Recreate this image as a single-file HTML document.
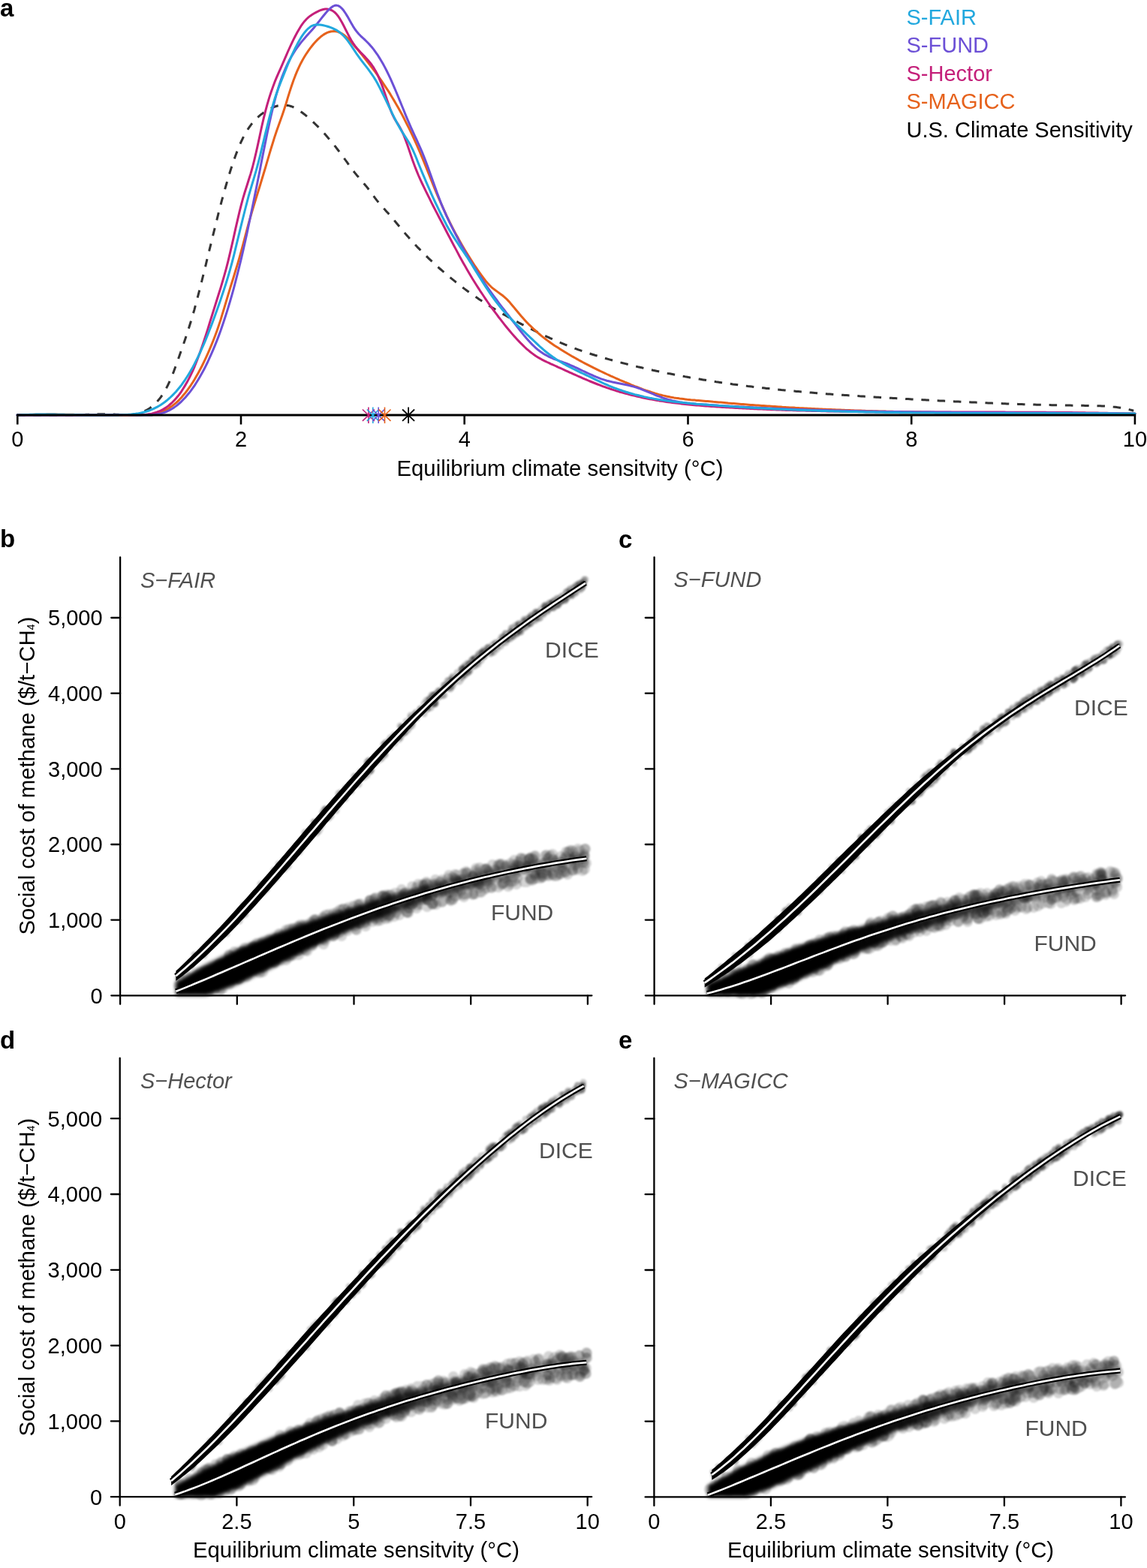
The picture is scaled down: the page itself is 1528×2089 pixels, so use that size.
<!DOCTYPE html>
<html><head><meta charset="utf-8"><title>Figure</title>
<style>html,body{margin:0;padding:0;background:#fff;}svg{display:block;}</style></head>
<body><svg width="1528" height="2089" viewBox="0 0 1528 2089">
<rect width="1528" height="2089" fill="#fff"/>
<g fill="none" stroke-width="3" stroke-linejoin="round" stroke-linecap="round">
<path d="M23 553L25.5 553L28 553L30.4 553L32.9 553L35.4 553L37.9 553L40.4 553L42.9 553L45.3 553L47.8 553L50.3 553L52.8 553L55.3 553L57.8 553L60.2 553L62.7 553L65.2 553L67.7 553L70.2 553L72.7 553L75.1 553L77.6 553L80.1 553L82.6 553L85.1 553L87.6 553L90 553L92.5 553L95 553L97.5 553L100 553L102.4 552.9L104.9 552.8L107.4 552.7L109.9 552.5L112.4 552.4L114.9 552.3L117.3 552.2L119.8 552L122.3 552L124.8 551.9L127.3 551.8L129.8 551.8L132.2 551.7L134.7 551.7L137.2 551.7L139.7 551.7L142.2 551.7L144.7 551.8L147.1 551.9L149.6 552L152.1 552.1L154.6 552.2L157.1 552.3L159.6 552.5L162 552.6L164.5 552.7L167 552.7L169.5 552.7L172 552.6L174.5 552.4L176.9 552.2L179.4 551.8L181.9 551.3L184.4 550.7L186.9 550L189.3 549.1L191.8 548.1L194.3 546.9L196.8 545.5L199.3 543.9L201.8 542.1L204.2 540.1L206.7 537.8L209.2 535.2L211.7 532.3L214.2 529.1L216.7 525.5L219.1 521.5L221.6 517.1L224.1 512.2L226.6 506.8L229.1 501L231.6 494.6L234 487.9L236.5 481L239 474L241.5 466.9L244 459.8L246.5 452.5L248.9 445.1L251.4 437.5L253.9 429.5L256.4 421.2L258.9 412.6L261.3 403.5L263.8 394.1L266.3 384.4L268.8 374.5L271.3 364.5L273.8 354.4L276.2 344.3L278.7 334.1L281.2 323.9L283.7 313.7L286.2 303.6L288.7 293.7L291.1 283.9L293.6 274.3L296.1 264.9L298.6 255.8L301.1 247L303.6 238.5L306 230.3L308.5 222.5L311 215.1L313.5 208L316 201.4L318.5 195.2L320.9 189.5L323.4 184.3L325.9 179.5L328.4 175.2L330.9 171.2L333.4 167.6L335.8 164.4L338.3 161.4L340.8 158.8L343.3 156.4L345.8 154.2L348.2 152.2L350.7 150.4L353.2 148.7L355.7 147.2L358.2 145.7L360.7 144.4L363.1 143.3L365.6 142.3L368.1 141.5L370.6 140.8L373.1 140.3L375.6 140L378 139.9L380.5 140.1L383 140.4L385.5 140.9L388 141.7L390.5 142.7L392.9 143.9L395.4 145.3L397.9 146.8L400.4 148.5L402.9 150.3L405.4 152.2L407.8 154.2L410.3 156.3L412.8 158.5L415.3 160.7L417.8 163.1L420.2 165.5L422.7 167.9L425.2 170.4L427.7 173.1L430.2 175.7L432.7 178.5L435.1 181.3L437.6 184.2L440.1 187.1L442.6 190.1L445.1 193.2L447.6 196.3L450 199.5L452.5 202.8L455 206.1L457.5 209.5L460 213L462.5 216.4L464.9 219.9L467.4 223.3L469.9 226.6L472.4 229.8L474.9 232.9L477.4 235.8L479.8 238.7L482.3 241.6L484.8 244.5L487.3 247.4L489.8 250.5L492.3 253.8L494.7 257.1L497.2 260.5L499.7 263.9L502.2 267.1L504.7 270.1L507.1 273L509.6 275.9L512.1 278.6L514.6 281.4L517.1 284.1L519.6 286.9L522 289.8L524.5 292.7L527 295.7L529.5 298.7L532 301.7L534.5 304.7L536.9 307.6L539.4 310.6L541.9 313.5L544.4 316.3L546.9 319.1L549.4 321.9L551.8 324.6L554.3 327.2L556.8 329.9L559.3 332.4L561.8 335L564.3 337.5L566.7 339.9L569.2 342.4L571.7 344.8L574.2 347.1L576.7 349.5L579.1 351.8L581.6 354L584.1 356.3L586.6 358.5L589.1 360.7L591.6 362.8L594 365L596.5 367.1L599 369.2L601.5 371.2L604 373.2L606.5 375.2L608.9 377.2L611.4 379.2L613.9 381.1L616.4 383L618.9 384.9L621.4 386.7L623.8 388.5L626.3 390.3L628.8 392.1L631.3 393.9L633.8 395.6L636.3 397.3L638.7 399L641.2 400.6L643.7 402.2L646.2 403.9L648.7 405.4L651.1 407L653.6 408.6L656.1 410.1L658.6 411.6L661.1 413.1L663.6 414.6L666 416L668.5 417.5L671 418.9L673.5 420.3L676 421.7L678.5 423.1L680.9 424.4L683.4 425.8L685.9 427.1L688.4 428.4L690.9 429.8L693.4 431.1L695.8 432.4L698.3 433.6L700.8 434.9L703.3 436.2L705.8 437.4L708.3 438.6L710.7 439.9L713.2 441.1L715.7 442.3L718.2 443.5L720.7 444.7L723.2 445.9L725.6 447.1L728.1 448.3L730.6 449.4L733.1 450.6L735.6 451.7L738 452.8L740.5 453.9L743 455L745.5 456.1L748 457.1L750.5 458.1L752.9 459.2L755.4 460.2L757.9 461.1L760.4 462.1L762.9 463L765.4 464L767.8 464.9L770.3 465.8L772.8 466.7L775.3 467.6L777.8 468.4L780.3 469.3L782.7 470.1L785.2 470.9L787.7 471.7L790.2 472.5L792.7 473.3L795.2 474L797.6 474.8L800.1 475.5L802.6 476.3L805.1 477L807.6 477.7L810 478.4L812.5 479.1L815 479.8L817.5 480.5L820 481.2L822.5 481.8L824.9 482.5L827.4 483.1L829.9 483.8L832.4 484.4L834.9 485L837.4 485.6L839.8 486.3L842.3 486.9L844.8 487.5L847.3 488.1L849.8 488.7L852.3 489.2L854.7 489.8L857.2 490.4L859.7 491L862.2 491.5L864.7 492.1L867.2 492.6L869.6 493.2L872.1 493.7L874.6 494.3L877.1 494.8L879.6 495.3L882.1 495.8L884.5 496.3L887 496.8L889.5 497.4L892 497.8L894.5 498.3L896.9 498.8L899.4 499.3L901.9 499.8L904.4 500.3L906.9 500.7L909.4 501.2L911.8 501.6L914.3 502.1L916.8 502.5L919.3 503L921.8 503.4L924.3 503.8L926.7 504.3L929.2 504.7L931.7 505.1L934.2 505.5L936.7 505.9L939.2 506.3L941.6 506.7L944.1 507.1L946.6 507.5L949.1 507.9L951.6 508.3L954.1 508.7L956.5 509L959 509.4L961.5 509.8L964 510.1L966.5 510.5L968.9 510.8L971.4 511.2L973.9 511.5L976.4 511.9L978.9 512.2L981.4 512.5L983.8 512.9L986.3 513.2L988.8 513.5L991.3 513.8L993.8 514.1L996.3 514.5L998.7 514.8L1001.2 515.1L1003.7 515.4L1006.2 515.7L1008.7 516L1011.2 516.2L1013.6 516.5L1016.1 516.8L1018.6 517.1L1021.1 517.4L1023.6 517.6L1026.1 517.9L1028.5 518.2L1031 518.4L1033.5 518.7L1036 519L1038.5 519.2L1040.9 519.5L1043.4 519.7L1045.9 519.9L1048.4 520.2L1050.9 520.4L1053.4 520.7L1055.8 520.9L1058.3 521.1L1060.8 521.4L1063.3 521.6L1065.8 521.8L1068.3 522L1070.7 522.2L1073.2 522.5L1075.7 522.7L1078.2 522.9L1080.7 523.1L1083.2 523.3L1085.6 523.5L1088.1 523.7L1090.6 523.9L1093.1 524.1L1095.6 524.3L1098.1 524.5L1100.5 524.7L1103 524.9L1105.5 525L1108 525.2L1110.5 525.4L1113 525.6L1115.4 525.8L1117.9 526L1120.4 526.1L1122.9 526.3L1125.4 526.5L1127.8 526.6L1130.3 526.8L1132.8 527L1135.3 527.1L1137.8 527.3L1140.3 527.5L1142.7 527.6L1145.2 527.8L1147.7 527.9L1150.2 528.1L1152.7 528.3L1155.2 528.4L1157.6 528.6L1160.1 528.7L1162.6 528.9L1165.1 529L1167.6 529.2L1170.1 529.3L1172.5 529.5L1175 529.6L1177.5 529.8L1180 529.9L1182.5 530.1L1185 530.2L1187.4 530.3L1189.9 530.5L1192.4 530.6L1194.9 530.8L1197.4 530.9L1199.8 531L1202.3 531.2L1204.8 531.3L1207.3 531.5L1209.8 531.6L1212.3 531.7L1214.7 531.9L1217.2 532L1219.7 532.1L1222.2 532.3L1224.7 532.4L1227.2 532.5L1229.6 532.7L1232.1 532.8L1234.6 532.9L1237.1 533.1L1239.6 533.2L1242.1 533.3L1244.5 533.5L1247 533.6L1249.5 533.7L1252 533.9L1254.5 534L1257 534.1L1259.4 534.2L1261.9 534.4L1264.4 534.5L1266.9 534.6L1269.4 534.7L1271.9 534.9L1274.3 535L1276.8 535.1L1279.3 535.2L1281.8 535.3L1284.3 535.5L1286.7 535.6L1289.2 535.7L1291.7 535.8L1294.2 535.9L1296.7 536L1299.2 536.1L1301.6 536.3L1304.1 536.4L1306.6 536.5L1309.1 536.6L1311.6 536.7L1314.1 536.8L1316.5 536.9L1319 537L1321.5 537.1L1324 537.2L1326.5 537.3L1329 537.4L1331.4 537.5L1333.9 537.6L1336.4 537.7L1338.9 537.8L1341.4 537.9L1343.9 538L1346.3 538.1L1348.8 538.2L1351.3 538.2L1353.8 538.3L1356.3 538.4L1358.7 538.5L1361.2 538.6L1363.7 538.7L1366.2 538.7L1368.7 538.8L1371.2 538.9L1373.6 539L1376.1 539L1378.6 539.1L1381.1 539.2L1383.6 539.2L1386.1 539.3L1388.5 539.4L1391 539.4L1393.5 539.5L1396 539.6L1398.5 539.6L1401 539.7L1403.4 539.7L1405.9 539.8L1408.4 539.8L1410.9 539.9L1413.4 539.9L1415.9 540L1418.3 540L1420.8 540.1L1423.3 540.1L1425.8 540.1L1428.3 540.2L1430.8 540.2L1433.2 540.2L1435.7 540.3L1438.2 540.3L1440.7 540.3L1443.2 540.3L1445.6 540.4L1448.1 540.4L1450.6 540.4L1453.1 540.5L1455.6 540.5L1458.1 540.5L1460.5 540.6L1463 540.7L1465.5 540.8L1468 540.9L1470.5 541L1473 541.1L1475.4 541.3L1477.9 541.5L1480.4 541.7L1482.9 542L1485.4 542.2L1487.9 542.6L1490.3 542.9L1492.8 543.3L1495.3 543.7L1497.8 544.2L1500.3 544.7L1502.8 545.3L1505.2 545.9L1507.7 546.5L1510.2 547.2" stroke="#333" stroke-dasharray="10.5 10.8" stroke-linecap="butt"/>
<path d="M23 553L25.5 552.9L28 552.8L30.5 552.7L32.9 552.6L35.4 552.6L37.9 552.5L40.4 552.4L42.9 552.4L45.4 552.3L47.9 552.3L50.3 552.3L52.8 552.2L55.3 552.2L57.8 552.2L60.3 552.2L62.8 552.1L65.3 552.1L67.7 552.1L70.2 552.1L72.7 552.1L75.2 552.1L77.7 552.2L80.2 552.2L82.7 552.2L85.1 552.2L87.6 552.2L90.1 552.3L92.6 552.3L95.1 552.3L97.6 552.3L100.1 552.4L102.5 552.4L105 552.4L107.5 552.5L110 552.5L112.5 552.5L115 552.6L117.5 552.6L119.9 552.7L122.4 552.7L124.9 552.7L127.4 552.8L129.9 552.8L132.4 552.8L134.9 552.9L137.3 552.9L139.8 552.9L142.3 552.9L144.8 553L147.3 553L149.8 553L152.3 553L154.7 553L157.2 553L159.7 553L162.2 553L164.7 553L167.2 553L169.7 553L172.1 553L174.6 553L177.1 553L179.6 552.9L182.1 552.9L184.6 552.8L187.1 552.8L189.5 552.7L192 552.6L194.5 552.5L197 552.3L199.5 552.1L202 551.8L204.5 551.4L206.9 551L209.4 550.4L211.9 549.7L214.4 548.9L216.9 548L219.4 546.9L221.9 545.6L224.4 544.2L226.8 542.6L229.3 540.9L231.8 538.9L234.3 536.8L236.8 534.6L239.3 532.1L241.8 529.4L244.2 526.6L246.7 523.6L249.2 520.3L251.7 516.9L254.2 513.3L256.7 509.5L259.2 505.5L261.6 501.3L264.1 496.9L266.6 492.3L269.1 487.5L271.6 482.4L274.1 477.2L276.6 471.7L279 466.1L281.5 460.2L284 454L286.5 447.5L289 440.7L291.5 433.5L294 425.9L296.4 417.9L298.9 409.7L301.4 401.3L303.9 392.9L306.4 384.6L308.9 376.5L311.4 368.5L313.8 360.5L316.3 352.4L318.8 343.9L321.3 334.9L323.8 325.6L326.3 316.1L328.8 306.7L331.2 297.6L333.7 288.8L336.2 280.3L338.7 272L341.2 263.9L343.7 255.8L346.2 247.8L348.6 239.7L351.1 231.5L353.6 223.2L356.1 214.7L358.6 206.2L361.1 197.8L363.6 189.7L366 181.9L368.5 174.6L371 167.5L373.5 160.5L376 153.4L378.5 146L381 138.2L383.4 130.1L385.9 122.1L388.4 114.5L390.9 107.3L393.4 100.7L395.9 94.7L398.4 89.2L400.8 84.2L403.3 79.5L405.8 75.3L408.3 71.3L410.8 67.7L413.3 64.2L415.8 61L418.2 58L420.7 55.2L423.2 52.6L425.7 50.3L428.2 48.2L430.7 46.4L433.2 44.9L435.6 43.7L438.1 42.7L440.6 42L443.1 41.7L445.6 41.6L448.1 41.9L450.6 42.5L453 43.5L455.5 44.8L458 46.5L460.5 48.5L463 50.9L465.5 53.4L468 56.2L470.4 59L472.9 61.9L475.4 64.9L477.9 67.9L480.4 70.9L482.9 73.9L485.4 77L487.8 80.1L490.3 83.3L492.8 86.5L495.3 89.8L497.8 93.1L500.3 96.4L502.8 99.9L505.2 103.4L507.7 106.9L510.2 110.6L512.7 114.3L515.2 118.1L517.7 121.9L520.2 125.9L522.6 130L525.1 134.1L527.6 138.4L530.1 142.8L532.6 147.2L535.1 151.8L537.6 156.5L540 161.3L542.5 166.2L545 171.2L547.5 176.4L550 181.7L552.5 187.1L555 192.6L557.4 198.2L559.9 204L562.4 210L564.9 216L567.4 222.2L569.9 228.4L572.4 234.6L574.8 240.8L577.3 247L579.8 253.1L582.3 259.1L584.8 264.9L587.3 270.6L589.8 276.2L592.3 281.6L594.7 286.9L597.2 292.1L599.7 297.1L602.2 302.1L604.7 306.9L607.2 311.6L609.7 316.1L612.1 320.6L614.6 325L617.1 329.3L619.6 333.5L622.1 337.6L624.6 341.6L627.1 345.5L629.5 349.4L632 353.2L634.5 356.9L637 360.5L639.5 364.1L642 367.6L644.5 371L646.9 374.2L649.4 377.1L651.9 379.8L654.4 382.3L656.9 384.4L659.4 386.3L661.9 388.1L664.3 389.9L666.8 391.7L669.3 393.5L671.8 395.6L674.3 397.8L676.8 400.4L679.3 403.1L681.7 406L684.2 408.9L686.7 412L689.2 415L691.7 418L694.2 421L696.7 423.8L699.1 426.5L701.6 429.2L704.1 431.8L706.6 434.2L709.1 436.6L711.6 439L714.1 441.2L716.5 443.4L719 445.5L721.5 447.6L724 449.6L726.5 451.5L729 453.4L731.5 455.2L733.9 457L736.4 458.7L738.9 460.4L741.4 462L743.9 463.6L746.4 465.2L748.9 466.8L751.3 468.3L753.8 469.8L756.3 471.3L758.8 472.7L761.3 474.2L763.8 475.6L766.3 477L768.7 478.4L771.2 479.8L773.7 481.1L776.2 482.5L778.7 483.8L781.2 485.1L783.7 486.4L786.1 487.6L788.6 488.9L791.1 490.2L793.6 491.4L796.1 492.6L798.6 493.8L801.1 495L803.5 496.2L806 497.3L808.5 498.5L811 499.6L813.5 500.8L816 501.9L818.5 503L820.9 504.1L823.4 505.2L825.9 506.3L828.4 507.3L830.9 508.4L833.4 509.5L835.9 510.5L838.3 511.5L840.8 512.6L843.3 513.6L845.8 514.6L848.3 515.5L850.8 516.5L853.3 517.4L855.7 518.4L858.2 519.3L860.7 520.2L863.2 521L865.7 521.8L868.2 522.6L870.7 523.4L873.1 524.2L875.6 524.9L878.1 525.6L880.6 526.2L883.1 526.9L885.6 527.4L888.1 528L890.5 528.5L893 529L895.5 529.4L898 529.9L900.5 530.3L903 530.6L905.5 531L907.9 531.3L910.4 531.6L912.9 531.9L915.4 532.2L917.9 532.4L920.4 532.7L922.9 532.9L925.3 533.1L927.8 533.4L930.3 533.6L932.8 533.8L935.3 534L937.8 534.2L940.3 534.4L942.7 534.6L945.2 534.8L947.7 535L950.2 535.3L952.7 535.5L955.2 535.7L957.7 535.9L960.2 536.1L962.6 536.3L965.1 536.5L967.6 536.7L970.1 537L972.6 537.2L975.1 537.4L977.6 537.6L980 537.8L982.5 538L985 538.2L987.5 538.4L990 538.6L992.5 538.8L995 539L997.4 539.2L999.9 539.4L1002.4 539.5L1004.9 539.7L1007.4 539.9L1009.9 540.1L1012.4 540.3L1014.8 540.5L1017.3 540.6L1019.8 540.8L1022.3 541L1024.8 541.1L1027.3 541.3L1029.8 541.5L1032.2 541.6L1034.7 541.8L1037.2 542L1039.7 542.1L1042.2 542.3L1044.7 542.4L1047.2 542.6L1049.6 542.7L1052.1 542.9L1054.6 543L1057.1 543.1L1059.6 543.3L1062.1 543.4L1064.6 543.6L1067 543.7L1069.5 543.8L1072 544L1074.5 544.1L1077 544.2L1079.5 544.3L1082 544.5L1084.4 544.6L1086.9 544.7L1089.4 544.8L1091.9 545L1094.4 545.1L1096.9 545.2L1099.4 545.3L1101.8 545.4L1104.3 545.5L1106.8 545.6L1109.3 545.7L1111.8 545.8L1114.3 545.9L1116.8 546L1119.2 546.1L1121.7 546.2L1124.2 546.3L1126.7 546.4L1129.2 546.5L1131.7 546.6L1134.2 546.7L1136.6 546.8L1139.1 546.9L1141.6 547L1144.1 547L1146.6 547.1L1149.1 547.2L1151.6 547.3L1154 547.4L1156.5 547.4L1159 547.5L1161.5 547.6L1164 547.7L1166.5 547.7L1169 547.8L1171.4 547.9L1173.9 548L1176.4 548L1178.9 548.1L1181.4 548.2L1183.9 548.2L1186.4 548.3L1188.8 548.3L1191.3 548.4L1193.8 548.5L1196.3 548.5L1198.8 548.6L1201.3 548.6L1203.8 548.7L1206.2 548.7L1208.7 548.8L1211.2 548.8L1213.7 548.9L1216.2 548.9L1218.7 549L1221.2 549L1223.6 549.1L1226.1 549.1L1228.6 549.2L1231.1 549.2L1233.6 549.2L1236.1 549.3L1238.6 549.3L1241 549.4L1243.5 549.4L1246 549.4L1248.5 549.5L1251 549.5L1253.5 549.5L1256 549.6L1258.4 549.6L1260.9 549.6L1263.4 549.7L1265.9 549.7L1268.4 549.7L1270.9 549.8L1273.4 549.8L1275.8 549.8L1278.3 549.8L1280.8 549.9L1283.3 549.9L1285.8 549.9L1288.3 549.9L1290.8 550L1293.2 550L1295.7 550L1298.2 550L1300.7 550.1L1303.2 550.1L1305.7 550.1L1308.2 550.1L1310.6 550.1L1313.1 550.1L1315.6 550.2L1318.1 550.2L1320.6 550.2L1323.1 550.2L1325.6 550.2L1328.1 550.2L1330.5 550.3L1333 550.3L1335.5 550.3L1338 550.3L1340.5 550.3L1343 550.3L1345.5 550.3L1347.9 550.3L1350.4 550.4L1352.9 550.4L1355.4 550.4L1357.9 550.4L1360.4 550.4L1362.9 550.4L1365.3 550.4L1367.8 550.4L1370.3 550.4L1372.8 550.4L1375.3 550.5L1377.8 550.5L1380.3 550.5L1382.7 550.5L1385.2 550.5L1387.7 550.5L1390.2 550.5L1392.7 550.5L1395.2 550.5L1397.7 550.5L1400.1 550.5L1402.6 550.5L1405.1 550.5L1407.6 550.6L1410.1 550.6L1412.6 550.6L1415.1 550.6L1417.5 550.6L1420 550.6L1422.5 550.6L1425 550.6L1427.5 550.6L1430 550.6L1432.5 550.6L1434.9 550.6L1437.4 550.6L1439.9 550.6L1442.4 550.7L1444.9 550.7L1447.4 550.7L1449.9 550.7L1452.3 550.7L1454.8 550.7L1457.3 550.7L1459.8 550.7L1462.3 550.7L1464.8 550.7L1467.3 550.7L1469.7 550.8L1472.2 550.8L1474.7 550.8L1477.2 550.8L1479.7 550.8L1482.2 550.8L1484.7 550.8L1487.1 550.8L1489.6 550.8L1492.1 550.9L1494.6 550.9L1497.1 550.9L1499.6 550.9L1502.1 550.9L1504.5 550.9L1507 550.9L1509.5 551L1512 551" stroke="#e6621c"/>
<path d="M23 553L25.5 553L28 553L30.5 553L32.9 553L35.4 553L37.9 553L40.4 553L42.9 553L45.4 553L47.9 553L50.3 553L52.8 553L55.3 553L57.8 553L60.3 553L62.8 553L65.3 553L67.7 553L70.2 553L72.7 553L75.2 553L77.7 553L80.2 553L82.7 553L85.1 553L87.6 553L90.1 553L92.6 553L95.1 553L97.6 553L100.1 553L102.5 553L105 553L107.5 553L110 553L112.5 553L115 553L117.5 553L119.9 553L122.4 553L124.9 553L127.4 553L129.9 553L132.4 553L134.9 553L137.3 553L139.8 553L142.3 553L144.8 552.9L147.3 552.9L149.8 552.9L152.3 552.8L154.7 552.8L157.2 552.8L159.7 552.8L162.2 552.7L164.7 552.7L167.2 552.7L169.7 552.7L172.1 552.7L174.6 552.8L177.1 552.8L179.6 552.8L182.1 552.8L184.6 552.8L187.1 552.7L189.5 552.6L192 552.5L194.5 552.3L197 552L199.5 551.6L202 551.1L204.5 550.5L206.9 549.8L209.4 549L211.9 548L214.4 546.9L216.9 545.6L219.4 544.1L221.9 542.4L224.4 540.6L226.8 538.5L229.3 536.3L231.8 533.8L234.3 531L236.8 528.1L239.3 524.8L241.8 521.3L244.2 517.5L246.7 513.4L249.2 509.1L251.7 504.4L254.2 499.4L256.7 494L259.2 488.3L261.6 482.3L264.1 475.8L266.6 469.1L269.1 461.9L271.6 454.6L274.1 447L276.6 439.2L279 431.2L281.5 423.2L284 415.2L286.5 407.2L289 399.2L291.5 391.3L294 383.4L296.4 375.3L298.9 366.7L301.4 357.6L303.9 347.8L306.4 337.4L308.9 326.6L311.4 315.6L313.8 304.6L316.3 293.8L318.8 283.2L321.3 273.2L323.8 263.9L326.3 255.5L328.8 247.7L331.2 240L333.7 232.1L336.2 223.5L338.7 213.7L341.2 203L343.7 191.8L346.2 180.3L348.6 169L351.1 158.2L353.6 148.2L356.1 138.9L358.6 130.4L361.1 122.7L363.6 115.7L366 109.2L368.5 103.2L371 97.4L373.5 91.8L376 86.1L378.5 80.3L381 74.6L383.4 69L385.9 63.5L388.4 58.1L390.9 52.9L393.4 48L395.9 43.3L398.4 38.9L400.8 34.9L403.3 31.4L405.8 28.2L408.3 25.5L410.8 23.2L413.3 21.2L415.8 19.5L418.2 18L420.7 16.6L423.2 15.3L425.7 14.2L428.2 13.2L430.7 12.5L433.2 12.1L435.6 12.1L438.1 12.4L440.6 13.2L443.1 14.4L445.6 16.2L448.1 18.6L450.6 21.7L453 25.4L455.5 29.7L458 34.5L460.5 39.5L463 44.4L465.5 49.2L468 53.7L470.4 57.6L472.9 61.1L475.4 64.2L477.9 67L480.4 69.7L482.9 72.2L485.4 74.8L487.8 77.4L490.3 80.2L492.8 83.2L495.3 86.5L497.8 90.2L500.3 94.4L502.8 99.2L505.2 104.6L507.7 110.6L510.2 117.3L512.7 124.5L515.2 132L517.7 139.3L520.2 146.2L522.6 152.2L525.1 157.2L527.6 161.5L530.1 165.4L532.6 169.5L535.1 174.1L537.6 179.5L540 185.8L542.5 192.6L545 199.8L547.5 207.2L550 214.4L552.5 221.2L555 227.6L557.4 233.5L559.9 239.1L562.4 244.5L564.9 249.7L567.4 254.8L569.9 259.9L572.4 264.9L574.8 269.8L577.3 274.7L579.8 279.6L582.3 284.4L584.8 289.2L587.3 294L589.8 298.7L592.3 303.5L594.7 308.2L597.2 313L599.7 317.7L602.2 322.5L604.7 327.2L607.2 331.9L609.7 336.6L612.1 341.2L614.6 345.7L617.1 350.2L619.6 354.6L622.1 358.9L624.6 363.2L627.1 367.4L629.5 371.5L632 375.5L634.5 379.5L637 383.4L639.5 387.3L642 391L644.5 394.8L646.9 398.4L649.4 402L651.9 405.6L654.4 409.1L656.9 412.5L659.4 415.9L661.9 419.2L664.3 422.5L666.8 425.7L669.3 428.9L671.8 432.1L674.3 435.2L676.8 438.2L679.3 441.2L681.7 444.1L684.2 447L686.7 449.8L689.2 452.5L691.7 455.1L694.2 457.7L696.7 460.1L699.1 462.5L701.6 464.8L704.1 466.9L706.6 469L709.1 470.9L711.6 472.7L714.1 474.4L716.5 475.9L719 477.4L721.5 478.8L724 480.1L726.5 481.3L729 482.5L731.5 483.6L733.9 484.8L736.4 485.9L738.9 487L741.4 488.1L743.9 489.3L746.4 490.4L748.9 491.5L751.3 492.7L753.8 493.8L756.3 494.9L758.8 496.1L761.3 497.2L763.8 498.3L766.3 499.4L768.7 500.5L771.2 501.6L773.7 502.7L776.2 503.8L778.7 504.9L781.2 505.9L783.7 507L786.1 508L788.6 509L791.1 510L793.6 511L796.1 512L798.6 512.9L801.1 513.9L803.5 514.8L806 515.7L808.5 516.6L811 517.4L813.5 518.3L816 519.1L818.5 519.9L820.9 520.7L823.4 521.4L825.9 522.2L828.4 522.9L830.9 523.6L833.4 524.3L835.9 524.9L838.3 525.6L840.8 526.2L843.3 526.8L845.8 527.4L848.3 528L850.8 528.6L853.3 529.1L855.7 529.7L858.2 530.2L860.7 530.7L863.2 531.2L865.7 531.7L868.2 532.1L870.7 532.6L873.1 533L875.6 533.4L878.1 533.9L880.6 534.3L883.1 534.6L885.6 535L888.1 535.4L890.5 535.7L893 536.1L895.5 536.4L898 536.7L900.5 537L903 537.3L905.5 537.6L907.9 537.9L910.4 538.2L912.9 538.4L915.4 538.7L917.9 539L920.4 539.2L922.9 539.4L925.3 539.7L927.8 539.9L930.3 540.1L932.8 540.3L935.3 540.5L937.8 540.7L940.3 540.9L942.7 541.1L945.2 541.2L947.7 541.4L950.2 541.6L952.7 541.8L955.2 541.9L957.7 542.1L960.2 542.2L962.6 542.4L965.1 542.5L967.6 542.7L970.1 542.8L972.6 543L975.1 543.1L977.6 543.3L980 543.4L982.5 543.6L985 543.7L987.5 543.8L990 543.9L992.5 544.1L995 544.2L997.4 544.3L999.9 544.4L1002.4 544.6L1004.9 544.7L1007.4 544.8L1009.9 544.9L1012.4 545L1014.8 545.1L1017.3 545.2L1019.8 545.3L1022.3 545.5L1024.8 545.6L1027.3 545.7L1029.8 545.8L1032.2 545.8L1034.7 545.9L1037.2 546L1039.7 546.1L1042.2 546.2L1044.7 546.3L1047.2 546.4L1049.6 546.5L1052.1 546.6L1054.6 546.6L1057.1 546.7L1059.6 546.8L1062.1 546.9L1064.6 546.9L1067 547L1069.5 547.1L1072 547.1L1074.5 547.2L1077 547.3L1079.5 547.3L1082 547.4L1084.4 547.5L1086.9 547.5L1089.4 547.6L1091.9 547.6L1094.4 547.7L1096.9 547.8L1099.4 547.8L1101.8 547.9L1104.3 547.9L1106.8 548L1109.3 548L1111.8 548.1L1114.3 548.1L1116.8 548.1L1119.2 548.2L1121.7 548.2L1124.2 548.3L1126.7 548.3L1129.2 548.3L1131.7 548.4L1134.2 548.4L1136.6 548.4L1139.1 548.5L1141.6 548.5L1144.1 548.5L1146.6 548.6L1149.1 548.6L1151.6 548.6L1154 548.7L1156.5 548.7L1159 548.7L1161.5 548.7L1164 548.8L1166.5 548.8L1169 548.8L1171.4 548.8L1173.9 548.8L1176.4 548.9L1178.9 548.9L1181.4 548.9L1183.9 548.9L1186.4 548.9L1188.8 548.9L1191.3 549L1193.8 549L1196.3 549L1198.8 549L1201.3 549L1203.8 549L1206.2 549L1208.7 549L1211.2 549L1213.7 549L1216.2 549.1L1218.7 549.1L1221.2 549.1L1223.6 549.1L1226.1 549.1L1228.6 549.1L1231.1 549.1L1233.6 549.1L1236.1 549.1L1238.6 549.1L1241 549.1L1243.5 549.1L1246 549.1L1248.5 549.1L1251 549.1L1253.5 549.1L1256 549.1L1258.4 549.1L1260.9 549.1L1263.4 549.1L1265.9 549.1L1268.4 549.1L1270.9 549.1L1273.4 549.1L1275.8 549.1L1278.3 549.1L1280.8 549.1L1283.3 549.1L1285.8 549.1L1288.3 549.1L1290.8 549.1L1293.2 549.1L1295.7 549.1L1298.2 549.1L1300.7 549.1L1303.2 549.1L1305.7 549.1L1308.2 549.1L1310.6 549.1L1313.1 549.1L1315.6 549.1L1318.1 549.1L1320.6 549.1L1323.1 549.1L1325.6 549.1L1328.1 549.1L1330.5 549.1L1333 549.1L1335.5 549.1L1338 549.1L1340.5 549.2L1343 549.2L1345.5 549.2L1347.9 549.2L1350.4 549.2L1352.9 549.2L1355.4 549.2L1357.9 549.2L1360.4 549.2L1362.9 549.2L1365.3 549.2L1367.8 549.2L1370.3 549.2L1372.8 549.2L1375.3 549.2L1377.8 549.3L1380.3 549.3L1382.7 549.3L1385.2 549.3L1387.7 549.3L1390.2 549.3L1392.7 549.3L1395.2 549.4L1397.7 549.4L1400.1 549.4L1402.6 549.4L1405.1 549.4L1407.6 549.4L1410.1 549.5L1412.6 549.5L1415.1 549.5L1417.5 549.5L1420 549.6L1422.5 549.6L1425 549.6L1427.5 549.6L1430 549.7L1432.5 549.7L1434.9 549.7L1437.4 549.7L1439.9 549.8L1442.4 549.8L1444.9 549.8L1447.4 549.9L1449.9 549.9L1452.3 550L1454.8 550L1457.3 550L1459.8 550.1L1462.3 550.1L1464.8 550.2L1467.3 550.2L1469.7 550.3L1472.2 550.3L1474.7 550.3L1477.2 550.4L1479.7 550.4L1482.2 550.5L1484.7 550.6L1487.1 550.6L1489.6 550.7L1492.1 550.7L1494.6 550.8L1497.1 550.8L1499.6 550.9L1502.1 551L1504.5 551L1507 551.1L1509.5 551.2L1512 551.2" stroke="#c4207a"/>
<path d="M23 553L25.5 553L28 553L30.5 553L32.9 553L35.4 553L37.9 553L40.4 553L42.9 553L45.4 553L47.9 553L50.3 553L52.8 553L55.3 553L57.8 553L60.3 553L62.8 553L65.3 553L67.7 553L70.2 553L72.7 553L75.2 553L77.7 553L80.2 553L82.7 553L85.1 553L87.6 553L90.1 553L92.6 553L95.1 553L97.6 553L100.1 553L102.5 553L105 553L107.5 553L110 553L112.5 553L115 553L117.5 553L119.9 553L122.4 553L124.9 553L127.4 553L129.9 553L132.4 553L134.9 553L137.3 553L139.8 553L142.3 552.9L144.8 552.9L147.3 552.8L149.8 552.8L152.3 552.7L154.7 552.7L157.2 552.7L159.7 552.6L162.2 552.6L164.7 552.6L167.2 552.6L169.7 552.6L172.1 552.7L174.6 552.7L177.1 552.8L179.6 552.8L182.1 552.9L184.6 553L187.1 553L189.5 553L192 553L194.5 553L197 553L199.5 553L202 552.9L204.5 552.6L206.9 552.3L209.4 551.9L211.9 551.5L214.4 550.9L216.9 550.1L219.4 549.3L221.9 548.3L224.4 547.2L226.8 545.9L229.3 544.5L231.8 542.9L234.3 541.1L236.8 539.2L239.3 537L241.8 534.8L244.2 532.3L246.7 529.7L249.2 526.8L251.7 523.8L254.2 520.6L256.7 517.2L259.2 513.6L261.6 509.8L264.1 505.8L266.6 501.5L269.1 497.1L271.6 492.5L274.1 487.6L276.6 482.5L279 477.2L281.5 471.7L284 465.9L286.5 459.9L289 453.6L291.5 447.1L294 440.3L296.4 433.2L298.9 425.8L301.4 418.1L303.9 410.1L306.4 401.8L308.9 393.2L311.4 384.2L313.8 374.9L316.3 365.2L318.8 355.2L321.3 344.8L323.8 334.1L326.3 323L328.8 311.7L331.2 300.1L333.7 288.2L336.2 276.2L338.7 264L341.2 251.7L343.7 239.3L346.2 226.8L348.6 214.2L351.1 201.7L353.6 189.2L356.1 177L358.6 165.2L361.1 154L363.6 143.5L366 133.8L368.5 124.7L371 116.4L373.5 108.7L376 101.8L378.5 95.5L381 89.7L383.4 84.4L385.9 79.5L388.4 75L390.9 70.9L393.4 67L395.9 63.4L398.4 60.1L400.8 56.9L403.3 53.9L405.8 51L408.3 48.1L410.8 45.3L413.3 42.6L415.8 39.7L418.2 36.9L420.7 33.9L423.2 30.8L425.7 27.6L428.2 24.4L430.7 21.3L433.2 18.3L435.6 15.4L438.1 12.8L440.6 10.5L443.1 8.7L445.6 7.5L448.1 7.1L450.6 7.6L453 9L455.5 11.3L458 14.3L460.5 18L463 22.1L465.5 26.5L468 30.9L470.4 35.1L472.9 39L475.4 42.3L477.9 45.2L480.4 47.8L482.9 50.2L485.4 52.4L487.8 54.8L490.3 57.3L492.8 59.9L495.3 62.8L497.8 65.9L500.3 69.3L502.8 72.8L505.2 76.6L507.7 80.7L510.2 85L512.7 89.6L515.2 94.5L517.7 99.6L520.2 104.9L522.6 110.4L525.1 116.2L527.6 122L530.1 128L532.6 134.1L535.1 140.2L537.6 146.3L540 152.4L542.5 158.4L545 164.2L547.5 169.9L550 175.4L552.5 180.8L555 186.1L557.4 191.5L559.9 197L562.4 202.9L564.9 209.1L567.4 215.6L569.9 222.3L572.4 229.2L574.8 236.1L577.3 243.1L579.8 250.1L582.3 256.9L584.8 263.6L587.3 270L589.8 276.1L592.3 281.9L594.7 287.4L597.2 292.7L599.7 297.9L602.2 302.9L604.7 307.8L607.2 312.6L609.7 317.3L612.1 322L614.6 326.5L617.1 331L619.6 335.4L622.1 339.8L624.6 344L627.1 348.2L629.5 352.3L632 356.3L634.5 360.3L637 364.2L639.5 368L642 371.8L644.5 375.5L646.9 379.2L649.4 382.8L651.9 386.3L654.4 389.8L656.9 393.3L659.4 396.7L661.9 400L664.3 403.3L666.8 406.6L669.3 409.8L671.8 413L674.3 416.3L676.8 419.5L679.3 422.7L681.7 425.9L684.2 429.2L686.7 432.4L689.2 435.6L691.7 438.8L694.2 442L696.7 445.1L699.1 448.1L701.6 451L704.1 453.8L706.6 456.5L709.1 459.1L711.6 461.5L714.1 463.8L716.5 465.9L719 467.8L721.5 469.6L724 471.2L726.5 472.7L729 474L731.5 475.3L733.9 476.4L736.4 477.5L738.9 478.5L741.4 479.4L743.9 480.4L746.4 481.3L748.9 482.2L751.3 483.1L753.8 484L756.3 485L758.8 486L761.3 487.1L763.8 488.2L766.3 489.3L768.7 490.4L771.2 491.6L773.7 492.8L776.2 494L778.7 495.1L781.2 496.3L783.7 497.5L786.1 498.6L788.6 499.7L791.1 500.8L793.6 501.9L796.1 502.9L798.6 503.9L801.1 504.8L803.5 505.6L806 506.4L808.5 507.2L811 507.8L813.5 508.4L816 509L818.5 509.5L820.9 510L823.4 510.5L825.9 511L828.4 511.5L830.9 512L833.4 512.5L835.9 513L838.3 513.6L840.8 514.2L843.3 514.9L845.8 515.6L848.3 516.4L850.8 517.2L853.3 518.1L855.7 519.1L858.2 520.1L860.7 521.1L863.2 522.1L865.7 523.2L868.2 524.2L870.7 525.2L873.1 526.3L875.6 527.3L878.1 528.2L880.6 529.2L883.1 530.1L885.6 530.9L888.1 531.7L890.5 532.4L893 533L895.5 533.7L898 534.2L900.5 534.7L903 535.2L905.5 535.7L907.9 536.1L910.4 536.4L912.9 536.8L915.4 537.1L917.9 537.3L920.4 537.6L922.9 537.8L925.3 538L927.8 538.3L930.3 538.4L932.8 538.6L935.3 538.8L937.8 539L940.3 539.1L942.7 539.3L945.2 539.5L947.7 539.6L950.2 539.8L952.7 540L955.2 540.1L957.7 540.3L960.2 540.4L962.6 540.6L965.1 540.7L967.6 540.9L970.1 541L972.6 541.2L975.1 541.3L977.6 541.5L980 541.6L982.5 541.7L985 541.9L987.5 542L990 542.1L992.5 542.3L995 542.4L997.4 542.5L999.9 542.7L1002.4 542.8L1004.9 542.9L1007.4 543L1009.9 543.2L1012.4 543.3L1014.8 543.4L1017.3 543.5L1019.8 543.6L1022.3 543.7L1024.8 543.9L1027.3 544L1029.8 544.1L1032.2 544.2L1034.7 544.3L1037.2 544.4L1039.7 544.5L1042.2 544.6L1044.7 544.7L1047.2 544.8L1049.6 544.9L1052.1 545L1054.6 545.1L1057.1 545.2L1059.6 545.3L1062.1 545.4L1064.6 545.4L1067 545.5L1069.5 545.6L1072 545.7L1074.5 545.8L1077 545.9L1079.5 546L1082 546L1084.4 546.1L1086.9 546.2L1089.4 546.3L1091.9 546.3L1094.4 546.4L1096.9 546.5L1099.4 546.6L1101.8 546.6L1104.3 546.7L1106.8 546.8L1109.3 546.8L1111.8 546.9L1114.3 547L1116.8 547L1119.2 547.1L1121.7 547.2L1124.2 547.2L1126.7 547.3L1129.2 547.3L1131.7 547.4L1134.2 547.5L1136.6 547.5L1139.1 547.6L1141.6 547.6L1144.1 547.7L1146.6 547.7L1149.1 547.8L1151.6 547.8L1154 547.9L1156.5 547.9L1159 548L1161.5 548L1164 548.1L1166.5 548.1L1169 548.2L1171.4 548.2L1173.9 548.2L1176.4 548.3L1178.9 548.3L1181.4 548.4L1183.9 548.4L1186.4 548.4L1188.8 548.5L1191.3 548.5L1193.8 548.6L1196.3 548.6L1198.8 548.6L1201.3 548.7L1203.8 548.7L1206.2 548.7L1208.7 548.8L1211.2 548.8L1213.7 548.8L1216.2 548.8L1218.7 548.9L1221.2 548.9L1223.6 548.9L1226.1 549L1228.6 549L1231.1 549L1233.6 549L1236.1 549.1L1238.6 549.1L1241 549.1L1243.5 549.1L1246 549.2L1248.5 549.2L1251 549.2L1253.5 549.2L1256 549.3L1258.4 549.3L1260.9 549.3L1263.4 549.3L1265.9 549.3L1268.4 549.4L1270.9 549.4L1273.4 549.4L1275.8 549.4L1278.3 549.4L1280.8 549.4L1283.3 549.5L1285.8 549.5L1288.3 549.5L1290.8 549.5L1293.2 549.5L1295.7 549.5L1298.2 549.6L1300.7 549.6L1303.2 549.6L1305.7 549.6L1308.2 549.6L1310.6 549.6L1313.1 549.7L1315.6 549.7L1318.1 549.7L1320.6 549.7L1323.1 549.7L1325.6 549.7L1328.1 549.7L1330.5 549.7L1333 549.8L1335.5 549.8L1338 549.8L1340.5 549.8L1343 549.8L1345.5 549.8L1347.9 549.8L1350.4 549.8L1352.9 549.9L1355.4 549.9L1357.9 549.9L1360.4 549.9L1362.9 549.9L1365.3 549.9L1367.8 549.9L1370.3 550L1372.8 550L1375.3 550L1377.8 550L1380.3 550L1382.7 550L1385.2 550L1387.7 550L1390.2 550.1L1392.7 550.1L1395.2 550.1L1397.7 550.1L1400.1 550.1L1402.6 550.1L1405.1 550.1L1407.6 550.2L1410.1 550.2L1412.6 550.2L1415.1 550.2L1417.5 550.2L1420 550.2L1422.5 550.3L1425 550.3L1427.5 550.3L1430 550.3L1432.5 550.3L1434.9 550.3L1437.4 550.4L1439.9 550.4L1442.4 550.4L1444.9 550.4L1447.4 550.4L1449.9 550.5L1452.3 550.5L1454.8 550.5L1457.3 550.5L1459.8 550.6L1462.3 550.6L1464.8 550.6L1467.3 550.6L1469.7 550.7L1472.2 550.7L1474.7 550.7L1477.2 550.7L1479.7 550.8L1482.2 550.8L1484.7 550.8L1487.1 550.8L1489.6 550.9L1492.1 550.9L1494.6 550.9L1497.1 551L1499.6 551L1502.1 551L1504.5 551.1L1507 551.1L1509.5 551.1L1512 551.2" stroke="#6c50d6"/>
<path d="M23 553L25.5 552.9L28 552.7L30.5 552.6L32.9 552.5L35.4 552.4L37.9 552.4L40.4 552.3L42.9 552.2L45.4 552.2L47.9 552.1L50.3 552.1L52.8 552.1L55.3 552.1L57.8 552.1L60.3 552L62.8 552.1L65.3 552.1L67.7 552.1L70.2 552.1L72.7 552.1L75.2 552.2L77.7 552.2L80.2 552.2L82.7 552.3L85.1 552.3L87.6 552.4L90.1 552.4L92.6 552.5L95.1 552.5L97.6 552.6L100.1 552.6L102.5 552.7L105 552.7L107.5 552.8L110 552.8L112.5 552.9L115 552.9L117.5 552.9L119.9 553L122.4 553L124.9 553L127.4 553L129.9 553L132.4 553L134.9 553L137.3 553L139.8 553L142.3 553L144.8 553L147.3 553L149.8 553L152.3 553L154.7 552.9L157.2 552.9L159.7 552.8L162.2 552.7L164.7 552.6L167.2 552.5L169.7 552.4L172.1 552.2L174.6 552L177.1 551.7L179.6 551.4L182.1 551.1L184.6 550.7L187.1 550.2L189.5 549.6L192 549L194.5 548.3L197 547.5L199.5 546.7L202 545.7L204.5 544.6L206.9 543.4L209.4 542.1L211.9 540.7L214.4 539.2L216.9 537.5L219.4 535.7L221.9 533.8L224.4 531.7L226.8 529.5L229.3 527.1L231.8 524.6L234.3 521.9L236.8 519L239.3 516L241.8 512.8L244.2 509.4L246.7 505.8L249.2 502L251.7 498L254.2 493.8L256.7 489.4L259.2 484.7L261.6 479.9L264.1 474.8L266.6 469.5L269.1 464L271.6 458.3L274.1 452.4L276.6 446.3L279 440L281.5 433.6L284 427L286.5 420.3L289 413.3L291.5 406.3L294 399.1L296.4 391.8L298.9 384.3L301.4 376.5L303.9 368.3L306.4 359.6L308.9 350.5L311.4 340.8L313.8 330.9L316.3 320.7L318.8 310.4L321.3 300.1L323.8 290L326.3 280L328.8 270.4L331.2 261.2L333.7 252.6L336.2 244.2L338.7 235.9L341.2 227.3L343.7 218.2L346.2 208.5L348.6 198.4L351.1 188.1L353.6 177.7L356.1 167.6L358.6 157.7L361.1 148.3L363.6 139.6L366 131.6L368.5 124.2L371 117.3L373.5 110.7L376 104.4L378.5 98.1L381 92L383.4 86L385.9 80.1L388.4 74.5L390.9 69.1L393.4 64L395.9 59.1L398.4 54.6L400.8 50.4L403.3 46.6L405.8 43.2L408.3 40.3L410.8 37.8L413.3 35.8L415.8 34.3L418.2 33.4L420.7 32.9L423.2 32.8L425.7 32.9L428.2 33.3L430.7 33.8L433.2 34.4L435.6 35L438.1 35.8L440.6 36.6L443.1 37.6L445.6 38.8L448.1 40.1L450.6 41.7L453 43.5L455.5 45.6L458 48L460.5 50.8L463 53.9L465.5 57.3L468 60.9L470.4 64.7L472.9 68.4L475.4 72.2L477.9 75.7L480.4 79.1L482.9 82.4L485.4 85.6L487.8 88.7L490.3 91.9L492.8 95.3L495.3 98.8L497.8 102.5L500.3 106.6L502.8 111L505.2 115.6L507.7 120.5L510.2 125.5L512.7 130.6L515.2 135.8L517.7 141L520.2 146.2L522.6 151.3L525.1 156.4L527.6 161.3L530.1 166L532.6 170.4L535.1 174.7L537.6 178.6L540 182.4L542.5 186.2L545 190.3L547.5 194.8L550 199.9L552.5 205.5L555 211.5L557.4 217.7L559.9 223.8L562.4 229.8L564.9 235.7L567.4 241.6L569.9 247.3L572.4 253L574.8 258.6L577.3 264.1L579.8 269.5L582.3 274.7L584.8 279.9L587.3 285L589.8 289.9L592.3 294.7L594.7 299.4L597.2 303.9L599.7 308.3L602.2 312.4L604.7 316.4L607.2 320.2L609.7 324L612.1 327.6L614.6 331.3L617.1 334.9L619.6 338.6L622.1 342.3L624.6 346.2L627.1 350.1L629.5 354.1L632 358.1L634.5 362.2L637 366.2L639.5 370.3L642 374.3L644.5 378.2L646.9 382L649.4 385.8L651.9 389.5L654.4 393.1L656.9 396.6L659.4 400L661.9 403.3L664.3 406.4L666.8 409.5L669.3 412.4L671.8 415.3L674.3 418L676.8 420.7L679.3 423.3L681.7 425.9L684.2 428.4L686.7 430.9L689.2 433.3L691.7 435.7L694.2 438L696.7 440.4L699.1 442.7L701.6 445.1L704.1 447.4L706.6 449.8L709.1 452.2L711.6 454.5L714.1 456.9L716.5 459.2L719 461.5L721.5 463.7L724 465.9L726.5 468L729 470L731.5 471.9L733.9 473.7L736.4 475.5L738.9 477.2L741.4 478.9L743.9 480.5L746.4 482L748.9 483.5L751.3 484.9L753.8 486.3L756.3 487.6L758.8 488.9L761.3 490.2L763.8 491.5L766.3 492.7L768.7 493.9L771.2 495.1L773.7 496.3L776.2 497.5L778.7 498.6L781.2 499.8L783.7 501L786.1 502.2L788.6 503.4L791.1 504.6L793.6 505.8L796.1 507L798.6 508.2L801.1 509.4L803.5 510.5L806 511.6L808.5 512.7L811 513.8L813.5 514.8L816 515.8L818.5 516.8L820.9 517.7L823.4 518.6L825.9 519.5L828.4 520.3L830.9 521.2L833.4 522L835.9 522.7L838.3 523.5L840.8 524.2L843.3 524.9L845.8 525.6L848.3 526.2L850.8 526.8L853.3 527.4L855.7 528L858.2 528.6L860.7 529.1L863.2 529.7L865.7 530.2L868.2 530.6L870.7 531.1L873.1 531.6L875.6 532L878.1 532.4L880.6 532.8L883.1 533.2L885.6 533.6L888.1 533.9L890.5 534.3L893 534.6L895.5 534.9L898 535.2L900.5 535.5L903 535.8L905.5 536.1L907.9 536.3L910.4 536.6L912.9 536.8L915.4 537.1L917.9 537.3L920.4 537.5L922.9 537.7L925.3 537.9L927.8 538.2L930.3 538.4L932.8 538.6L935.3 538.8L937.8 539L940.3 539.1L942.7 539.3L945.2 539.5L947.7 539.7L950.2 539.9L952.7 540.1L955.2 540.3L957.7 540.4L960.2 540.6L962.6 540.8L965.1 541L967.6 541.1L970.1 541.3L972.6 541.5L975.1 541.6L977.6 541.8L980 541.9L982.5 542.1L985 542.3L987.5 542.4L990 542.6L992.5 542.7L995 542.9L997.4 543L999.9 543.2L1002.4 543.3L1004.9 543.4L1007.4 543.6L1009.9 543.7L1012.4 543.8L1014.8 544L1017.3 544.1L1019.8 544.2L1022.3 544.4L1024.8 544.5L1027.3 544.6L1029.8 544.7L1032.2 544.9L1034.7 545L1037.2 545.1L1039.7 545.2L1042.2 545.3L1044.7 545.4L1047.2 545.5L1049.6 545.7L1052.1 545.8L1054.6 545.9L1057.1 546L1059.6 546.1L1062.1 546.2L1064.6 546.3L1067 546.4L1069.5 546.5L1072 546.6L1074.5 546.7L1077 546.7L1079.5 546.8L1082 546.9L1084.4 547L1086.9 547.1L1089.4 547.2L1091.9 547.3L1094.4 547.4L1096.9 547.4L1099.4 547.5L1101.8 547.6L1104.3 547.7L1106.8 547.7L1109.3 547.8L1111.8 547.9L1114.3 548L1116.8 548L1119.2 548.1L1121.7 548.2L1124.2 548.2L1126.7 548.3L1129.2 548.4L1131.7 548.4L1134.2 548.5L1136.6 548.5L1139.1 548.6L1141.6 548.6L1144.1 548.7L1146.6 548.8L1149.1 548.8L1151.6 548.9L1154 548.9L1156.5 549L1159 549L1161.5 549.1L1164 549.1L1166.5 549.2L1169 549.2L1171.4 549.2L1173.9 549.3L1176.4 549.3L1178.9 549.4L1181.4 549.4L1183.9 549.5L1186.4 549.5L1188.8 549.5L1191.3 549.6L1193.8 549.6L1196.3 549.6L1198.8 549.7L1201.3 549.7L1203.8 549.7L1206.2 549.8L1208.7 549.8L1211.2 549.8L1213.7 549.8L1216.2 549.9L1218.7 549.9L1221.2 549.9L1223.6 550L1226.1 550L1228.6 550L1231.1 550L1233.6 550.1L1236.1 550.1L1238.6 550.1L1241 550.1L1243.5 550.1L1246 550.2L1248.5 550.2L1251 550.2L1253.5 550.2L1256 550.2L1258.4 550.2L1260.9 550.3L1263.4 550.3L1265.9 550.3L1268.4 550.3L1270.9 550.3L1273.4 550.3L1275.8 550.3L1278.3 550.3L1280.8 550.4L1283.3 550.4L1285.8 550.4L1288.3 550.4L1290.8 550.4L1293.2 550.4L1295.7 550.4L1298.2 550.4L1300.7 550.4L1303.2 550.4L1305.7 550.5L1308.2 550.5L1310.6 550.5L1313.1 550.5L1315.6 550.5L1318.1 550.5L1320.6 550.5L1323.1 550.5L1325.6 550.5L1328.1 550.5L1330.5 550.5L1333 550.5L1335.5 550.5L1338 550.5L1340.5 550.5L1343 550.5L1345.5 550.5L1347.9 550.5L1350.4 550.5L1352.9 550.5L1355.4 550.5L1357.9 550.6L1360.4 550.6L1362.9 550.6L1365.3 550.6L1367.8 550.6L1370.3 550.6L1372.8 550.6L1375.3 550.6L1377.8 550.6L1380.3 550.6L1382.7 550.6L1385.2 550.6L1387.7 550.6L1390.2 550.6L1392.7 550.6L1395.2 550.6L1397.7 550.6L1400.1 550.6L1402.6 550.6L1405.1 550.6L1407.6 550.6L1410.1 550.6L1412.6 550.6L1415.1 550.6L1417.5 550.6L1420 550.6L1422.5 550.6L1425 550.6L1427.5 550.7L1430 550.7L1432.5 550.7L1434.9 550.7L1437.4 550.7L1439.9 550.7L1442.4 550.7L1444.9 550.7L1447.4 550.7L1449.9 550.7L1452.3 550.7L1454.8 550.7L1457.3 550.8L1459.8 550.8L1462.3 550.8L1464.8 550.8L1467.3 550.8L1469.7 550.8L1472.2 550.8L1474.7 550.8L1477.2 550.8L1479.7 550.9L1482.2 550.9L1484.7 550.9L1487.1 550.9L1489.6 550.9L1492.1 550.9L1494.6 551L1497.1 551L1499.6 551L1502.1 551L1504.5 551L1507 551.1L1509.5 551.1L1512 551.1" stroke="#22a8de"/>
</g>
<g stroke="#000" stroke-width="3" fill="none">
<path d="M22.1 553H1513.1"/>
<path d="M23.3 553V565.5" stroke-width="2.6"/>
<path d="M321 553V565.5" stroke-width="2.6"/>
<path d="M618.7 553V565.5" stroke-width="2.6"/>
<path d="M916.5 553V565.5" stroke-width="2.6"/>
<path d="M1214.2 553V565.5" stroke-width="2.6"/>
<path d="M1511.9 553V565.5" stroke-width="2.6"/>
</g>
<g font-family="'Liberation Sans', Arial, Helvetica, sans-serif" font-size="29" text-anchor="middle" fill="#000">
<text x="23.3" y="594.5">0</text>
<text x="321" y="594.5">2</text>
<text x="618.7" y="594.5">4</text>
<text x="916.5" y="594.5">6</text>
<text x="1214.2" y="594.5">8</text>
<text x="1511.9" y="594.5">10</text>
<text x="746" y="633.8" font-size="29.3">Equilibrium climate sensitvity (°C)</text>
</g>
<path d="M490.9 542.4V564M482.9 545.5L498.9 560.9M482.9 560.9L498.9 545.5" stroke="#c4207a" stroke-width="1.6" fill="none"/>
<path d="M496.8 542.4V564M488.8 545.5L504.8 560.9M488.8 560.9L504.8 545.5" stroke="#22a8de" stroke-width="1.6" fill="none"/>
<path d="M504.2 542.4V564M496.2 545.5L512.2 560.9M496.2 560.9L512.2 545.5" stroke="#6c50d6" stroke-width="1.6" fill="none"/>
<path d="M512.5 542.4V564M504.5 545.5L520.5 560.9M504.5 560.9L520.5 545.5" stroke="#e6621c" stroke-width="1.6" fill="none"/>
<path d="M544.1 542.4V564M536.1 545.5L552.1 560.9M536.1 560.9L552.1 545.5" stroke="#000" stroke-width="1.8" fill="none"/>
<g font-family="'Liberation Sans', Arial, Helvetica, sans-serif" font-size="29">
<text x="1207.5" y="33.3" fill="#22a8de">S-FAIR</text>
<text x="1207.5" y="70.3" fill="#6c50d6">S-FUND</text>
<text x="1207.5" y="107.9" fill="#c4207a">S-Hector</text>
<text x="1207.5" y="144.8" fill="#e6621c">S-MAGICC</text>
<text x="1207.5" y="183" fill="#000">U.S. Climate Sensitivity</text>
</g>
<g font-family="'Liberation Sans', Arial, Helvetica, sans-serif" font-size="33" font-weight="bold">
<text x="0" y="21.5">a</text>
<text x="0" y="729">b</text>
<text x="824" y="730">c</text>
<text x="0" y="1397">d</text>
<text x="824" y="1397">e</text>
</g>
<defs><filter id="blur1" x="-5%" y="-5%" width="110%" height="110%"><feGaussianBlur stdDeviation="0.55"/></filter><filter id="blur2" x="-5%" y="-5%" width="110%" height="110%"><feGaussianBlur stdDeviation="2.5"/></filter><filter id="cblur" x="-5%" y="-5%" width="110%" height="110%"><feGaussianBlur stdDeviation="0.9"/></filter></defs>
<defs><linearGradient id="g1" gradientUnits="userSpaceOnUse" x1="234.4" y1="0" x2="781.3" y2="0"><stop offset="0%" stop-opacity="1.00"/><stop offset="10%" stop-opacity="1.00"/><stop offset="20%" stop-opacity="1.00"/><stop offset="30%" stop-opacity="1.00"/><stop offset="40%" stop-opacity="0.96"/><stop offset="50%" stop-opacity="0.86"/><stop offset="60%" stop-opacity="0.66"/><stop offset="70%" stop-opacity="0.48"/><stop offset="80%" stop-opacity="0.36"/><stop offset="90%" stop-opacity="0.29"/><stop offset="100%" stop-opacity="0.25"/></linearGradient></defs>
<path d="M234.4 1307.9 238.3 1305.7 242.3 1303.5 246.2 1301.3 250.1 1299 254.1 1296.8 258 1294.5 261.9 1292.2 265.9 1290 269.8 1287.7 273.7 1285.5 277.7 1283.6 281.6 1281.6 285.5 1279.7 289.5 1277.7 293.4 1275.8 297.4 1273.8 301.3 1271.8 305.2 1269.9 309.2 1267.9 313.1 1265.9 317 1264.1 321 1262.4 324.9 1260.8 328.8 1259.2 332.8 1257.5 336.7 1255.9 340.6 1254.3 344.6 1252.7 348.5 1251 352.4 1249.4 356.4 1247.8 360.3 1246.2 364.2 1244.6 368.2 1243.1 372.1 1241.7 376 1240.3 380 1238.9 383.9 1237.5 387.8 1236.1 391.8 1234.7 395.7 1233.4 399.7 1232 403.6 1230.6 407.5 1229.3 411.5 1227.9 415.4 1226.6 419.3 1225.3 423.3 1224 427.2 1222.7 431.1 1221.4 435.1 1220.1 439 1218.8 442.9 1217.5 446.9 1216.3 450.8 1215 454.7 1213.8 458.7 1212.6 462.6 1211.3 466.5 1210.1 470.5 1208.8 474.4 1207.5 478.3 1206.2 482.3 1204.9 486.2 1203.6 490.1 1202.3 494.1 1201.1 498 1199.8 501.9 1198.6 505.9 1197.4 509.8 1196.2 513.8 1195 517.7 1193.8 521.6 1192.6 525.6 1191.5 529.5 1190.3 533.4 1189.2 537.4 1188.1 541.3 1186.9 545.2 1185.8 549.2 1184.8 553.1 1183.7 557 1182.6 561 1181.6 564.9 1180.5 568.8 1179.4 572.8 1178.3 576.7 1177.2 580.6 1176.1 584.6 1175 588.5 1174 592.4 1172.9 596.4 1171.9 600.3 1170.9 604.2 1169.9 608.2 1168.9 612.1 1167.9 616 1166.9 620 1166 623.9 1165 627.9 1164.1 631.8 1163.2 635.7 1162.2 639.7 1161.3 643.6 1160.4 647.5 1159.6 651.5 1158.7 655.4 1157.8 659.3 1157 663.3 1156.1 667.2 1155.3 671.1 1154.5 675.1 1153.7 679 1152.9 682.9 1152.2 686.9 1151.4 690.8 1150.7 694.7 1149.9 698.7 1149.2 702.6 1148.5 706.5 1147.8 710.5 1147.1 714.4 1146.4 718.3 1145.8 722.3 1145.1 726.2 1144.5 730.2 1143.8 734.1 1143.2 738 1142.6 742 1142 745.9 1141.4 749.8 1140.9 753.8 1140.3 757.7 1139.8 761.6 1139.2 765.6 1138.7 769.5 1138.2 773.4 1137.7 777.4 1137.2 781.3 1136.7L781.3 1151.8 777.4 1152.3 773.4 1152.9 769.5 1153.5 765.6 1154.1 761.6 1154.8 757.7 1155.4 753.8 1156.1 749.8 1156.7 745.9 1157.4 742 1158.1 738 1158.8 734.1 1159.5 730.2 1160.2 726.2 1160.9 722.3 1161.7 718.3 1162.4 714.4 1163.2 710.5 1164 706.5 1164.7 702.6 1165.5 698.7 1166.4 694.7 1167.2 690.8 1168 686.9 1168.9 682.9 1169.7 679 1170.6 675.1 1171.5 671.1 1172.4 667.2 1173.3 663.3 1174.2 659.3 1175.2 655.4 1176.1 651.5 1177.1 647.5 1178 643.6 1179 639.7 1180 635.7 1181 631.8 1182 627.9 1183.1 623.9 1184.1 620 1185.2 616 1186.3 612.1 1187.4 608.2 1188.5 604.2 1189.6 600.3 1190.8 596.4 1191.9 592.4 1193.1 588.5 1194.2 584.6 1195.4 580.6 1196.6 576.7 1197.8 572.8 1199 568.8 1200.3 564.9 1201.5 561 1202.9 557 1204.2 553.1 1205.6 549.2 1207 545.2 1208.4 541.3 1209.8 537.4 1211.3 533.4 1212.7 529.5 1214.2 525.6 1215.6 521.6 1217.1 517.7 1218.6 513.8 1220.1 509.8 1221.6 505.9 1223.1 501.9 1224.7 498 1226.2 494.1 1227.8 490.1 1229.3 486.2 1230.9 482.3 1232.5 478.3 1234.1 474.4 1235.7 470.5 1237.4 466.5 1239 462.6 1240.7 458.7 1242.5 454.7 1244.3 450.8 1246.1 446.9 1247.9 442.9 1249.7 439 1251.6 435.1 1253.4 431.1 1255.2 427.2 1257.1 423.3 1259 419.3 1260.8 415.4 1262.7 411.5 1264.6 407.5 1266.5 403.6 1268.5 399.7 1270.5 395.7 1272.5 391.8 1274.5 387.8 1276.5 383.9 1278.6 380 1280.6 376 1282.6 372.1 1284.7 368.2 1286.7 364.2 1288.7 360.3 1290.5 356.4 1292.4 352.4 1294.2 348.5 1296.1 344.6 1297.9 340.6 1299.8 336.7 1301.7 332.8 1303.5 328.8 1305.4 324.9 1307.3 321 1309.1 317 1311 313.1 1312.6 309.2 1314 305.2 1315.4 301.3 1316.8 297.4 1318.3 293.4 1319.7 289.5 1321.1 285.5 1322.5 281.6 1323.9 277.7 1325.3 273.7 1326.3 269.8 1326.3 265.9 1326.3 261.9 1326.3 258 1326.3 254.1 1326.3 250.1 1326.3 246.2 1326.3 242.3 1326.3 238.3 1326.3 234.4 1326.3Z" fill="url(#g1)" filter="url(#blur2)"/>
<g fill="none" stroke="#000" stroke-width="14" stroke-linecap="round" stroke-opacity="0.17" filter="url(#cblur)"><path d="M254 1316h0M267 1295h0M271 1296h0M282 1313h0M291 1285h0M296 1290h0M298 1299h0M306 1273h0M306 1311h0M317 1279h0M322 1268h0M337 1293h0M339 1261h0M350 1289h0M362 1255h0M371 1255h0M397 1234h0M397 1267h0M397 1241h0M404 1242h0M405 1251h0M421 1252h0M428 1249h0M434 1229h0M444 1224h0M444 1247h0M452 1243h0M453 1227h0M457 1211h0M459 1212h0M468 1227h0M479 1230h0M505 1205h0M505 1217h0M506 1226h0M507 1226h0M507 1204h0M509 1210h0M510 1194h0M513 1218h0M513 1203h0M518 1193h0M520 1194h0M529 1195h0M538 1191h0M542 1216h0M542 1215h0M549 1193h0M555 1182h0M563 1178h0M568 1189h0M570 1199h0M581 1205h0M587 1185h0M610 1182h0M614 1172h0M617 1192h0M621 1163h0M622 1191h0M622 1187h0M638 1178h0M644 1167h0M647 1158h0M660 1164h0M665 1155h0M667 1152h0M670 1177h0M678 1174h0M685 1174h0M686 1159h0M702 1155h0M723 1164h0M733 1140h0M736 1162h0M736 1144h0M741 1167h0M754 1162h0M754 1141h0M781 1150h0"/><path d="M284 1319h0M286 1318h0M290 1302h0M300 1291h0M301 1286h0M317 1278h0M318 1275h0M350 1255h0M354 1274h0M358 1252h0M369 1250h0M373 1277h0M375 1279h0M376 1254h0M375 1256h0M381 1279h0M389 1264h0M398 1262h0M402 1259h0M409 1267h0M411 1263h0M416 1260h0M446 1245h0M450 1223h0M452 1218h0M468 1221h0M474 1238h0M477 1214h0M478 1210h0M480 1204h0M493 1199h0M497 1199h0M498 1198h0M503 1227h0M507 1215h0M512 1193h0M515 1192h0M519 1220h0M526 1190h0M527 1198h0M529 1190h0M534 1192h0M540 1189h0M541 1214h0M543 1215h0M552 1193h0M555 1202h0M561 1205h0M562 1188h0M564 1180h0M569 1208h0M569 1196h0M576 1193h0M599 1189h0M606 1185h0M607 1172h0M609 1173h0M609 1188h0M613 1180h0M637 1175h0M641 1189h0M648 1158h0M663 1153h0M670 1177h0M673 1155h0M679 1170h0M681 1175h0M683 1169h0M687 1164h0M694 1155h0M694 1144h0M698 1153h0M701 1153h0M704 1155h0M705 1145h0M707 1170h0M708 1142h0M708 1144h0M712 1141h0M721 1162h0M723 1168h0M726 1140h0M729 1166h0M754 1135h0M759 1141h0M763 1159h0M769 1150h0M772 1150h0M778 1150h0M779 1158h0"/><path d="M299 1289h0M305 1281h0M312 1292h0M315 1275h0M319 1304h0M324 1267h0M335 1289h0M341 1264h0M348 1264h0M373 1256h0M373 1272h0M385 1275h0M388 1269h0M393 1246h0M394 1243h0M395 1244h0M407 1266h0M419 1253h0M419 1225h0M430 1237h0M431 1221h0M431 1240h0M436 1237h0M438 1218h0M442 1230h0M446 1242h0M463 1240h0M465 1238h0M467 1214h0M470 1209h0M473 1232h0M473 1228h0M474 1214h0M475 1239h0M476 1205h0M479 1215h0M497 1210h0M514 1194h0M536 1194h0M545 1209h0M546 1210h0M565 1182h0M565 1185h0M568 1175h0M569 1199h0M575 1190h0M576 1205h0M576 1192h0M580 1177h0M603 1198h0M604 1188h0M606 1170h0M616 1177h0M626 1180h0M632 1165h0M636 1163h0M640 1177h0M642 1180h0M648 1178h0M650 1175h0M651 1161h0M660 1181h0M661 1173h0M664 1182h0M685 1146h0M698 1144h0M710 1148h0M713 1140h0M713 1167h0M723 1150h0M737 1145h0M736 1165h0M759 1133h0M761 1150h0M763 1160h0M778 1138h0"/><path d="M266 1315h0M278 1305h0M292 1291h0M296 1318h0M302 1291h0M306 1301h0M311 1304h0M317 1283h0M316 1305h0M319 1275h0M324 1270h0M336 1262h0M340 1273h0M342 1257h0M344 1293h0M345 1257h0M346 1296h0M361 1276h0M365 1281h0M366 1251h0M369 1253h0M382 1250h0M390 1273h0M397 1272h0M398 1272h0M399 1236h0M400 1232h0M405 1254h0M413 1248h0M417 1256h0M421 1225h0M429 1228h0M433 1253h0M436 1228h0M439 1224h0M445 1233h0M449 1218h0M466 1215h0M473 1234h0M487 1234h0M487 1213h0M488 1218h0M492 1200h0M494 1201h0M498 1201h0M500 1221h0M505 1223h0M510 1193h0M513 1198h0M546 1204h0M549 1193h0M549 1191h0M556 1206h0M562 1187h0M563 1195h0M577 1178h0M583 1190h0M584 1201h0M589 1202h0M594 1187h0M594 1194h0M597 1170h0M602 1180h0M609 1174h0M615 1186h0M616 1184h0M619 1191h0M630 1168h0M630 1182h0M630 1191h0M639 1156h0M639 1177h0M648 1174h0M648 1157h0M684 1169h0M684 1167h0M687 1155h0M689 1170h0M692 1154h0M699 1158h0M705 1159h0M712 1164h0M728 1148h0M731 1143h0M736 1138h0M737 1146h0M744 1164h0M748 1149h0M766 1141h0M766 1153h0M778 1141h0"/><path d="M273 1293h0M278 1320h0M304 1296h0M307 1279h0M316 1293h0M321 1277h0M322 1277h0M326 1263h0M331 1280h0M337 1261h0M342 1281h0M356 1259h0M356 1258h0M362 1257h0M364 1276h0M366 1281h0M372 1244h0M373 1254h0M377 1264h0M381 1257h0M383 1251h0M385 1238h0M393 1261h0M398 1266h0M401 1237h0M404 1264h0M406 1259h0M418 1226h0M420 1227h0M425 1242h0M431 1258h0M434 1219h0M439 1221h0M449 1215h0M452 1237h0M457 1211h0M460 1211h0M461 1237h0M479 1220h0M479 1214h0M480 1231h0M486 1230h0M488 1228h0M493 1204h0M504 1207h0M508 1217h0M512 1216h0M512 1198h0M515 1196h0M517 1200h0M518 1223h0M520 1210h0M525 1221h0M528 1214h0M535 1185h0M539 1211h0M544 1216h0M550 1204h0M557 1195h0M568 1177h0M579 1180h0M588 1175h0M589 1188h0M589 1172h0M601 1200h0M603 1199h0M603 1169h0M607 1190h0M609 1193h0M614 1187h0M618 1171h0M619 1170h0M622 1163h0M634 1157h0M639 1183h0M643 1175h0M647 1183h0M652 1175h0M654 1182h0M660 1159h0M674 1153h0M680 1178h0M688 1178h0M691 1152h0M694 1153h0M694 1143h0M701 1153h0M710 1144h0M717 1156h0M720 1167h0M721 1164h0M724 1165h0M730 1156h0M731 1167h0M739 1155h0M747 1164h0M750 1160h0M757 1135h0M768 1137h0M769 1159h0M771 1134h0M776 1160h0M780 1131h0"/><path d="M245 1313h0M249 1301h0M293 1284h0M303 1300h0M305 1272h0M307 1284h0M326 1279h0M329 1301h0M343 1289h0M350 1261h0M350 1295h0M351 1268h0M354 1279h0M356 1285h0M357 1270h0M374 1267h0M379 1256h0M384 1254h0M391 1237h0M397 1242h0M401 1235h0M405 1232h0M409 1233h0M414 1229h0M414 1229h0M423 1246h0M444 1217h0M453 1212h0M454 1214h0M455 1247h0M456 1217h0M457 1237h0M458 1218h0M467 1218h0M478 1205h0M489 1210h0M493 1200h0M496 1228h0M498 1222h0M508 1217h0M509 1221h0M514 1212h0M516 1219h0M519 1220h0M521 1197h0M530 1215h0M532 1219h0M548 1203h0M549 1205h0M553 1189h0M565 1179h0M569 1178h0M569 1190h0M589 1201h0M592 1179h0M593 1189h0M595 1197h0M618 1195h0M630 1192h0M632 1174h0M639 1169h0M668 1151h0M671 1170h0M671 1152h0M682 1153h0M686 1152h0M691 1148h0M693 1153h0M698 1150h0M703 1146h0M706 1144h0M707 1172h0M715 1170h0M716 1151h0M722 1169h0M728 1139h0M749 1160h0M755 1161h0M756 1165h0M762 1133h0M764 1136h0M777 1149h0M779 1140h0M779 1131h0"/><path d="M238 1313h0M262 1299h0M265 1312h0M293 1317h0M293 1319h0M312 1268h0M319 1304h0M328 1279h0M337 1263h0M339 1264h0M341 1282h0M348 1288h0M378 1246h0M381 1239h0M383 1273h0M389 1272h0M389 1237h0M399 1235h0M405 1240h0M406 1234h0M410 1233h0M415 1259h0M426 1235h0M443 1227h0M453 1225h0M457 1225h0M466 1231h0M482 1229h0M485 1229h0M487 1225h0M499 1202h0M500 1196h0M504 1213h0M514 1195h0M514 1224h0M521 1216h0M521 1212h0M538 1202h0M539 1190h0M545 1199h0M549 1181h0M555 1210h0M567 1186h0M570 1199h0M577 1204h0M580 1172h0M589 1175h0M598 1166h0M600 1199h0M608 1167h0M608 1166h0M617 1164h0M621 1177h0M630 1167h0M633 1191h0M635 1181h0M640 1188h0M642 1182h0M646 1185h0M646 1177h0M650 1176h0M656 1152h0M659 1159h0M668 1179h0M673 1173h0M686 1155h0M688 1152h0M698 1175h0M702 1175h0M705 1144h0M709 1173h0M719 1164h0M728 1164h0M743 1145h0M746 1152h0M747 1141h0M748 1143h0M749 1156h0M765 1144h0M767 1133h0M770 1131h0M772 1137h0M772 1132h0"/><path d="M242 1316h0M259 1304h0M270 1304h0M287 1308h0M294 1287h0M310 1303h0M329 1288h0M331 1292h0M339 1283h0M364 1255h0M366 1283h0M370 1266h0M398 1257h0M412 1236h0M424 1250h0M430 1251h0M431 1223h0M432 1250h0M433 1225h0M444 1247h0M446 1240h0M448 1236h0M450 1226h0M453 1231h0M464 1209h0M470 1207h0M475 1210h0M493 1210h0M499 1197h0M500 1224h0M508 1194h0M511 1216h0M517 1220h0M520 1192h0M522 1214h0M523 1214h0M528 1216h0M543 1210h0M557 1178h0M559 1189h0M561 1187h0M562 1199h0M565 1184h0M567 1198h0M569 1191h0M576 1204h0M586 1175h0M606 1194h0M606 1165h0M607 1170h0M606 1168h0M607 1165h0M619 1162h0M621 1161h0M627 1178h0M634 1160h0M640 1162h0M645 1158h0M645 1158h0M655 1183h0M665 1151h0M677 1181h0M677 1179h0M680 1150h0M685 1152h0M705 1149h0M704 1154h0M706 1171h0M706 1143h0M708 1148h0M710 1145h0M712 1171h0M715 1162h0M720 1170h0M729 1160h0M730 1143h0M738 1167h0M740 1161h0M744 1166h0M749 1155h0M752 1162h0M752 1144h0M760 1145h0M770 1157h0M771 1146h0"/></g>
<path d="M234.4 1320.8L240.5 1318.4L246.7 1315.9L252.8 1313.4L259 1310.8L265.1 1308.3L271.3 1305.7L277.4 1303.1L283.6 1300.5L289.7 1297.8L295.8 1295.2L302 1292.5L308.1 1289.9L314.3 1287.2L320.4 1284.6L326.6 1281.9L332.7 1279.2L338.9 1276.6L345 1273.9L351.2 1271.2L357.3 1268.6L363.4 1266L369.6 1263.3L375.7 1260.7L381.9 1258.1L388 1255.5L394.2 1252.9L400.3 1250.4L406.5 1247.8L412.6 1245.3L418.7 1242.8L424.9 1240.3L431 1237.8L437.2 1235.4L443.3 1233L449.5 1230.6L455.6 1228.2L461.8 1225.9L467.9 1223.5L474.1 1221.2L480.2 1219L486.3 1216.7L492.5 1214.5L498.6 1212.3L504.8 1210.1L510.9 1208L517.1 1205.9L523.2 1203.8L529.4 1201.8L535.5 1199.8L541.6 1197.8L547.8 1195.8L553.9 1193.9L560.1 1192L566.2 1190.1L572.4 1188.3L578.5 1186.5L584.7 1184.7L590.8 1183L597 1181.2L603.1 1179.6L609.2 1177.9L615.4 1176.3L621.5 1174.7L627.7 1173.1L633.8 1171.6L640 1170.1L646.1 1168.6L652.3 1167.2L658.4 1165.8L664.5 1164.4L670.7 1163.1L676.8 1161.7L683 1160.4L689.1 1159.2L695.3 1157.9L701.4 1156.7L707.6 1155.6L713.7 1154.4L719.9 1153.3L726 1152.2L732.1 1151.2L738.3 1150.1L744.4 1149.1L750.6 1148.2L756.7 1147.2L762.9 1146.3L769 1145.4L775.2 1144.6L781.3 1143.8" fill="none" stroke="#000" stroke-width="7"/>
<path d="M234.4 1320.8L240.5 1318.4L246.7 1315.9L252.8 1313.4L259 1310.8L265.1 1308.3L271.3 1305.7L277.4 1303.1L283.6 1300.5L289.7 1297.8L295.8 1295.2L302 1292.5L308.1 1289.9L314.3 1287.2L320.4 1284.6L326.6 1281.9L332.7 1279.2L338.9 1276.6L345 1273.9L351.2 1271.2L357.3 1268.6L363.4 1266L369.6 1263.3L375.7 1260.7L381.9 1258.1L388 1255.5L394.2 1252.9L400.3 1250.4L406.5 1247.8L412.6 1245.3L418.7 1242.8L424.9 1240.3L431 1237.8L437.2 1235.4L443.3 1233L449.5 1230.6L455.6 1228.2L461.8 1225.9L467.9 1223.5L474.1 1221.2L480.2 1219L486.3 1216.7L492.5 1214.5L498.6 1212.3L504.8 1210.1L510.9 1208L517.1 1205.9L523.2 1203.8L529.4 1201.8L535.5 1199.8L541.6 1197.8L547.8 1195.8L553.9 1193.9L560.1 1192L566.2 1190.1L572.4 1188.3L578.5 1186.5L584.7 1184.7L590.8 1183L597 1181.2L603.1 1179.6L609.2 1177.9L615.4 1176.3L621.5 1174.7L627.7 1173.1L633.8 1171.6L640 1170.1L646.1 1168.6L652.3 1167.2L658.4 1165.8L664.5 1164.4L670.7 1163.1L676.8 1161.7L683 1160.4L689.1 1159.2L695.3 1157.9L701.4 1156.7L707.6 1155.6L713.7 1154.4L719.9 1153.3L726 1152.2L732.1 1151.2L738.3 1150.1L744.4 1149.1L750.6 1148.2L756.7 1147.2L762.9 1146.3L769 1145.4L775.2 1144.6L781.3 1143.8" fill="none" stroke="#fff" stroke-width="2.6"/>
<defs><linearGradient id="g2" gradientUnits="userSpaceOnUse" x1="234.4" y1="0" x2="779.9" y2="0"><stop offset="0%" stop-opacity="1.00"/><stop offset="10%" stop-opacity="1.00"/><stop offset="20%" stop-opacity="1.00"/><stop offset="30%" stop-opacity="1.00"/><stop offset="40%" stop-opacity="1.00"/><stop offset="50%" stop-opacity="1.00"/><stop offset="60%" stop-opacity="0.95"/><stop offset="70%" stop-opacity="0.91"/><stop offset="80%" stop-opacity="0.88"/><stop offset="90%" stop-opacity="0.85"/><stop offset="100%" stop-opacity="0.80"/></linearGradient></defs>
<path d="M234.4 1293.6 238.3 1290 242.2 1286.2 246.2 1282.5 250.1 1278.6 254 1274.7 257.9 1270.8 261.9 1266.9 265.8 1263 269.7 1259.1 273.6 1255.1 277.6 1251.1 281.5 1247.1 285.4 1243 289.3 1238.8 293.3 1234.7 297.2 1230.4 301.1 1226.2 305 1221.9 309 1217.6 312.9 1213.2 316.8 1208.8 320.7 1204.5 324.7 1200.2 328.6 1195.9 332.5 1191.5 336.4 1187.1 340.4 1182.7 344.3 1178.2 348.2 1173.7 352.1 1169.3 356.1 1164.8 360 1160.2 363.9 1155.7 367.8 1151.1 371.8 1146.6 375.7 1142 379.6 1137.4 383.5 1132.8 387.5 1128.2 391.4 1123.6 395.3 1119 399.2 1114.4 403.2 1109.8 407.1 1105.1 411 1100.6 414.9 1096.1 418.8 1091.6 422.8 1087.1 426.7 1082.6 430.6 1078.1 434.5 1073.7 438.5 1069.2 442.4 1064.7 446.3 1060.3 450.2 1055.9 454.2 1051.4 458.1 1047 462 1042.6 465.9 1038.2 469.9 1033.9 473.8 1029.5 477.7 1025.2 481.6 1020.9 485.6 1016.6 489.5 1012.3 493.4 1008 497.3 1003.8 501.3 999.6 505.2 995.5 509.1 991.5 513 987.5 517 983.5 520.9 979.5 524.8 975.6 528.7 971.7 532.7 967.8 536.6 963.9 540.5 960.1 544.4 956.3 548.4 952.6 552.3 948.8 556.2 945.1 560.1 941.5 564.1 937.8 568 934.1 571.9 930.4 575.8 926.8 579.8 923.2 583.7 919.6 587.6 916.1 591.5 912.5 595.5 909.1 599.4 905.6 603.3 902.2 607.2 898.8 611.1 895.4 615.1 892.1 619 888.8 622.9 885.6 626.8 882.4 630.8 879.1 634.7 875.8 638.6 872.6 642.5 869.4 646.5 866.3 650.4 863.2 654.3 860.1 658.2 857 662.2 854 666.1 851 670 848 673.9 845.1 677.9 842.2 681.8 839.3 685.7 836.4 689.6 833.6 693.6 830.8 697.5 828 701.4 825.2 705.3 822.5 709.3 819.8 713.2 817.1 717.1 814.4 721 811.7 725 809.1 728.9 806.5 732.8 803.9 736.7 801.4 740.7 798.8 744.6 796.3 748.5 793.7 752.4 791.2 756.4 788.7 760.3 786.2 764.2 783.7 768.1 781.2 772.1 778.7 776 776.2 779.9 773.7L779.9 779.8 776 782.5 772.1 785.1 768.1 787.7 764.2 790.3 760.3 792.9 756.4 795.6 752.4 798.2 748.5 800.9 744.6 803.5 740.7 806.2 736.7 808.9 732.8 811.6 728.9 814.3 725 817 721 819.7 717.1 822.5 713.2 825.2 709.3 828 705.3 830.8 701.4 833.6 697.5 836.5 693.6 839.4 689.6 842.3 685.7 845.2 681.8 848.1 677.9 851.1 673.9 854.1 670 857.1 666.1 860.2 662.2 863.3 658.2 866.4 654.3 869.5 650.4 872.7 646.5 875.9 642.5 879.1 638.6 882.4 634.7 885.7 630.8 889 626.8 892.4 622.9 895.9 619 899.4 615.1 902.9 611.1 906.5 607.2 910.1 603.3 913.7 599.4 917.4 595.5 921.1 591.5 924.8 587.6 928.6 583.7 932.4 579.8 936.2 575.8 940.1 571.9 944 568 947.9 564.1 951.9 560.1 956 556.2 960.1 552.3 964.3 548.4 968.4 544.4 972.6 540.5 976.9 536.6 981.1 532.7 985.4 528.7 989.7 524.8 994.1 520.9 998.5 517 1002.9 513 1007.3 509.1 1011.7 505.2 1016.2 501.3 1020.7 497.3 1025 493.4 1029.4 489.5 1033.9 485.6 1038.3 481.6 1042.8 477.7 1047.3 473.8 1051.8 469.9 1056.3 465.9 1060.8 462 1065.4 458.1 1069.9 454.2 1074.5 450.2 1079.1 446.3 1083.7 442.4 1088.3 438.5 1093 434.5 1097.6 430.6 1102.2 426.7 1106.9 422.8 1111.5 418.8 1116.2 414.9 1120.8 411 1125.5 407.1 1130.1 403.2 1134.6 399.2 1139.2 395.3 1143.7 391.4 1148.2 387.5 1152.8 383.5 1157.3 379.6 1161.8 375.7 1166.3 371.8 1170.8 367.8 1175.3 363.9 1179.7 360 1184.2 356.1 1188.6 352.1 1193 348.2 1197.4 344.3 1201.8 340.4 1206.2 336.4 1210.5 332.5 1214.8 328.6 1219.1 324.7 1223.4 320.7 1227.6 316.8 1231.9 312.9 1235.9 309 1239.9 305 1243.9 301.1 1247.9 297.2 1251.8 293.3 1255.6 289.3 1259.5 285.4 1263.3 281.5 1267 277.6 1270.7 273.6 1274.4 269.7 1278 265.8 1281.5 261.9 1285 257.9 1288.4 254 1291.6 250.1 1294.8 246.2 1297.8 242.2 1300.9 238.3 1303.8 234.4 1306.7Z" fill="url(#g2)" filter="url(#blur1)"/>
<g fill="none" stroke="#000" stroke-width="9" stroke-linecap="round" stroke-opacity="0.2" filter="url(#cblur)"><path d="M241 1299h0M255 1287h0M319 1227h0M384 1154h0M410 1118h0M441 1082h0M451 1057h0M492 1027h0M511 992h0M511 1004h0M520 995h0M526 990h0M532 985h0M535 969h0M569 945h0M571 932h0M575 929h0M577 926h0M584 929h0M590 927h0M615 892h0M625 884h0M639 877h0M642 869h0M659 857h0M662 858h0M667 861h0M670 848h0M674 856h0M691 831h0M696 833h0M713 820h0M715 818h0M720 823h0M723 816h0M724 819h0M726 807h0M730 813h0M731 805h0M733 804h0M744 806h0M747 795h0M750 800h0M753 800h0M758 786h0M760 786h0M762 788h0M768 789h0M772 785h0M773 786h0M776 783h0M778 775h0"/><path d="M248 1286h0M355 1180h0M365 1159h0M380 1144h0M422 1110h0M435 1083h0M441 1087h0M486 1035h0M489 1033h0M491 1013h0M493 1028h0M499 1009h0M520 987h0M533 981h0M534 982h0M537 970h0M537 971h0M541 961h0M547 961h0M547 965h0M549 967h0M570 944h0M580 938h0M580 937h0M584 920h0M586 923h0M591 917h0M602 903h0M623 896h0M638 872h0M639 870h0M645 874h0M649 863h0M681 843h0M683 848h0M690 837h0M693 842h0M702 833h0M714 822h0M714 815h0M724 817h0M731 808h0M734 807h0M739 807h0M740 808h0M759 789h0M777 779h0"/><path d="M275 1268h0M298 1238h0M355 1185h0M364 1174h0M399 1135h0M401 1131h0M430 1082h0M438 1086h0M445 1069h0M448 1080h0M454 1056h0M478 1045h0M489 1015h0M494 1027h0M507 1005h0M512 991h0M512 999h0M535 978h0M560 945h0M565 937h0M572 932h0M577 927h0M578 938h0M591 913h0M596 907h0M600 913h0M601 906h0M616 900h0M616 890h0M624 896h0M629 887h0M631 888h0M631 878h0M641 880h0M642 870h0M655 866h0M660 863h0M668 849h0M673 848h0M673 844h0M676 849h0M678 851h0M680 844h0M680 851h0M680 842h0M681 837h0M687 835h0M687 833h0M688 845h0M694 842h0M695 838h0M698 825h0M704 823h0M707 831h0M713 816h0M726 808h0M727 806h0M726 811h0M753 800h0M754 798h0M755 797h0M758 793h0M760 791h0M771 781h0M780 772h0"/><path d="M259 1272h0M273 1263h0M286 1249h0M322 1212h0M324 1206h0M335 1204h0M347 1178h0M349 1181h0M368 1170h0M371 1151h0M412 1115h0M412 1106h0M418 1095h0M430 1084h0M434 1078h0M438 1090h0M441 1083h0M460 1064h0M461 1058h0M475 1035h0M480 1028h0M482 1037h0M501 1016h0M508 1003h0M538 977h0M553 951h0M575 926h0M578 926h0M580 936h0M585 921h0M590 926h0M592 926h0M600 918h0M603 901h0M606 902h0M619 888h0M620 899h0M622 887h0M626 894h0M626 884h0M636 883h0M655 866h0M658 869h0M675 852h0M683 836h0M686 841h0M688 843h0M692 839h0M695 836h0M698 837h0M699 827h0M732 811h0M736 802h0M752 797h0M755 788h0M761 794h0M762 794h0M766 791h0M767 780h0M776 778h0"/><path d="M333 1208h0M385 1139h0M387 1140h0M391 1143h0M425 1107h0M426 1105h0M437 1085h0M451 1073h0M451 1061h0M453 1069h0M467 1044h0M494 1021h0M504 1004h0M513 1004h0M513 997h0M514 989h0M517 988h0M524 982h0M547 956h0M550 963h0M565 951h0M571 937h0M577 938h0M580 937h0M582 928h0M585 928h0M587 920h0M593 912h0M593 914h0M597 913h0M616 903h0M619 887h0M621 889h0M622 884h0M626 885h0M628 880h0M629 879h0M636 880h0M637 872h0M643 868h0M649 868h0M651 862h0M651 864h0M666 853h0M678 851h0M680 842h0M681 844h0M680 841h0M684 848h0M690 833h0M692 840h0M701 829h0M701 835h0M703 833h0M706 825h0M713 827h0M713 826h0M726 810h0M735 809h0M735 803h0M739 800h0M748 801h0M751 799h0M753 798h0M762 793h0M763 791h0M764 783h0M768 784h0M772 777h0M775 781h0M778 779h0"/><path d="M272 1273h0M327 1218h0M406 1113h0M413 1113h0M419 1096h0M432 1078h0M446 1067h0M468 1054h0M487 1031h0M489 1017h0M492 1014h0M495 1025h0M500 1007h0M506 1012h0M508 1008h0M513 1006h0M532 982h0M533 967h0M539 976h0M544 972h0M547 953h0M552 954h0M560 944h0M601 916h0M605 910h0M616 891h0M617 894h0M625 893h0M629 879h0M643 871h0M644 866h0M645 875h0M650 863h0M653 870h0M653 871h0M661 856h0M670 857h0M674 844h0M681 842h0M697 828h0M704 830h0M707 820h0M707 830h0M710 827h0M721 811h0M721 817h0M721 818h0M727 809h0M729 815h0M732 803h0M733 808h0M737 810h0M743 806h0M743 798h0M761 792h0M769 779h0M775 784h0M777 774h0M778 772h0"/><path d="M237 1303h0M306 1229h0M322 1221h0M434 1078h0M472 1034h0M518 988h0M520 983h0M525 979h0M536 976h0M541 975h0M546 968h0M554 949h0M569 941h0M573 930h0M573 935h0M579 931h0M579 925h0M596 912h0M597 917h0M598 916h0M598 906h0M598 911h0M603 914h0M609 896h0M612 898h0M614 892h0M618 900h0M620 890h0M624 885h0M624 888h0M625 888h0M632 877h0M637 885h0M646 867h0M656 859h0M671 849h0M682 847h0M691 841h0M701 825h0M705 831h0M708 821h0M709 819h0M714 817h0M715 824h0M725 807h0M725 807h0M728 812h0M735 808h0M737 810h0M746 803h0M750 793h0M755 797h0M759 792h0M760 784h0M763 784h0M764 783h0M770 785h0M771 778h0"/><path d="M302 1244h0M316 1220h0M325 1217h0M351 1189h0M364 1163h0M379 1158h0M393 1135h0M406 1109h0M415 1112h0M429 1099h0M436 1089h0M460 1050h0M469 1048h0M476 1035h0M498 1011h0M509 1010h0M535 969h0M555 957h0M568 933h0M571 936h0M574 943h0M578 938h0M579 934h0M582 923h0M601 908h0M612 908h0M613 907h0M615 895h0M619 896h0M632 877h0M633 887h0M636 875h0M639 875h0M650 867h0M654 869h0M655 870h0M662 865h0M663 863h0M675 852h0M689 844h0M691 831h0M706 823h0M709 822h0M717 815h0M718 824h0M736 803h0M738 800h0M742 797h0M743 806h0M743 806h0M748 801h0M754 789h0M774 779h0M775 776h0"/></g>
<path d="M234.4 1300.2L240.5 1295L246.7 1289.7L252.8 1284.3L258.9 1278.7L265 1273L271.2 1267.1L277.3 1261.2L283.4 1255.1L289.6 1248.9L295.7 1242.7L301.8 1236.3L308 1229.8L314.1 1223.3L320.2 1216.7L326.3 1210L332.5 1203.2L338.6 1196.4L344.7 1189.5L350.9 1182.6L357 1175.6L363.1 1168.6L369.2 1161.6L375.4 1154.5L381.5 1147.4L387.6 1140.3L393.8 1133.2L399.9 1126L406 1118.9L412.1 1111.7L418.3 1104.6L424.4 1097.4L430.5 1090.3L436.7 1083.2L442.8 1076.1L448.9 1069L455.1 1062L461.2 1055L467.3 1048L473.4 1041L479.6 1034.1L485.7 1027.3L491.8 1020.5L498 1013.7L504.1 1007L510.2 1000.4L516.3 993.8L522.5 987.3L528.6 980.8L534.7 974.5L540.9 968.1L547 961.9L553.1 955.7L559.2 949.6L565.4 943.6L571.5 937.6L577.6 931.7L583.8 925.9L589.9 920.2L596 914.6L602.2 909L608.3 903.5L614.4 898.1L620.5 892.8L626.7 887.5L632.8 882.3L638.9 877.2L645.1 872.2L651.2 867.3L657.3 862.4L663.4 857.6L669.6 852.9L675.7 848.3L681.8 843.7L688 839.1L694.1 834.7L700.2 830.3L706.3 825.9L712.5 821.6L718.6 817.4L724.7 813.2L730.9 809.1L737 804.9L743.1 800.9L749.3 796.8L755.4 792.8L761.5 788.8L767.6 784.8L773.8 780.8L779.9 776.8" fill="none" stroke="#000" stroke-width="7"/>
<path d="M234.4 1300.2L240.5 1295L246.7 1289.7L252.8 1284.3L258.9 1278.7L265 1273L271.2 1267.1L277.3 1261.2L283.4 1255.1L289.6 1248.9L295.7 1242.7L301.8 1236.3L308 1229.8L314.1 1223.3L320.2 1216.7L326.3 1210L332.5 1203.2L338.6 1196.4L344.7 1189.5L350.9 1182.6L357 1175.6L363.1 1168.6L369.2 1161.6L375.4 1154.5L381.5 1147.4L387.6 1140.3L393.8 1133.2L399.9 1126L406 1118.9L412.1 1111.7L418.3 1104.6L424.4 1097.4L430.5 1090.3L436.7 1083.2L442.8 1076.1L448.9 1069L455.1 1062L461.2 1055L467.3 1048L473.4 1041L479.6 1034.1L485.7 1027.3L491.8 1020.5L498 1013.7L504.1 1007L510.2 1000.4L516.3 993.8L522.5 987.3L528.6 980.8L534.7 974.5L540.9 968.1L547 961.9L553.1 955.7L559.2 949.6L565.4 943.6L571.5 937.6L577.6 931.7L583.8 925.9L589.9 920.2L596 914.6L602.2 909L608.3 903.5L614.4 898.1L620.5 892.8L626.7 887.5L632.8 882.3L638.9 877.2L645.1 872.2L651.2 867.3L657.3 862.4L663.4 857.6L669.6 852.9L675.7 848.3L681.8 843.7L688 839.1L694.1 834.7L700.2 830.3L706.3 825.9L712.5 821.6L718.6 817.4L724.7 813.2L730.9 809.1L737 804.9L743.1 800.9L749.3 796.8L755.4 792.8L761.5 788.8L767.6 784.8L773.8 780.8L779.9 776.8" fill="none" stroke="#fff" stroke-width="2.6"/>
<g stroke="#000" stroke-width="2.3" fill="none" stroke-linecap="round">
<path d="M160.1 742.4V1326.3"/>
<path d="M160.1 1326.3H788.4"/>
<path d="M148.3 1326.3H160.1"/>
<path d="M148.3 1225.6H160.1"/>
<path d="M148.3 1125H160.1"/>
<path d="M148.3 1024.3H160.1"/>
<path d="M148.3 923.7H160.1"/>
<path d="M148.3 823H160.1"/>
<path d="M160.1 1326.3V1337.8"/>
<path d="M315.8 1326.3V1337.8"/>
<path d="M471.5 1326.3V1337.8"/>
<path d="M627.2 1326.3V1337.8"/>
<path d="M782.9 1326.3V1337.8"/>
</g>
<g font-family="'Liberation Sans', Arial, Helvetica, sans-serif" font-size="29" fill="#000">
<text x="136.6" y="1336.6" text-anchor="end">0</text>
<text x="136.6" y="1235.9" text-anchor="end">1,000</text>
<text x="136.6" y="1135.3" text-anchor="end">2,000</text>
<text x="136.6" y="1034.6" text-anchor="end">3,000</text>
<text x="136.6" y="934" text-anchor="end">4,000</text>
<text x="136.6" y="833.3" text-anchor="end">5,000</text>
<text transform="translate(45.6 1033.7) rotate(-90)" text-anchor="middle" font-size="29.3">Social cost of methane ($/t−CH<tspan font-size="14">4</tspan>)</text>
</g>
<g font-family="'Liberation Sans', Arial, Helvetica, sans-serif" font-size="29" fill="#505050">
<text x="187" y="782.7" font-style="italic">S−FAIR</text>
<text x="726" y="876.2" font-size="30">DICE</text>
<text x="653.9" y="1225.5" font-size="30">FUND</text>
</g>
<defs><linearGradient id="g3" gradientUnits="userSpaceOnUse" x1="942" y1="0" x2="1491.9" y2="0"><stop offset="0%" stop-opacity="1.00"/><stop offset="10%" stop-opacity="1.00"/><stop offset="20%" stop-opacity="1.00"/><stop offset="30%" stop-opacity="1.00"/><stop offset="40%" stop-opacity="0.96"/><stop offset="50%" stop-opacity="0.87"/><stop offset="60%" stop-opacity="0.67"/><stop offset="70%" stop-opacity="0.49"/><stop offset="80%" stop-opacity="0.37"/><stop offset="90%" stop-opacity="0.29"/><stop offset="100%" stop-opacity="0.25"/></linearGradient></defs>
<path d="M942 1311.2 946 1309.5 949.9 1307.9 953.9 1306.1 957.8 1304.4 961.8 1302.6 965.7 1300.8 969.7 1298.9 973.6 1297.1 977.6 1295.2 981.6 1293.2 985.5 1291.5 989.5 1289.8 993.4 1288.2 997.4 1286.6 1001.3 1284.9 1005.3 1283.2 1009.3 1281.5 1013.2 1279.8 1017.2 1278.1 1021.1 1276.3 1025.1 1274.6 1029 1273 1033 1271.6 1036.9 1270.1 1040.9 1268.7 1044.9 1267.3 1048.8 1265.8 1052.8 1264.4 1056.7 1263 1060.7 1261.5 1064.6 1260.1 1068.6 1258.6 1072.6 1257.2 1076.5 1255.7 1080.5 1254.5 1084.4 1253.2 1088.4 1252 1092.3 1250.7 1096.3 1249.5 1100.2 1248.3 1104.2 1247.1 1108.2 1245.8 1112.1 1244.6 1116.1 1243.4 1120 1242.2 1124 1241.1 1127.9 1239.9 1131.9 1238.8 1135.8 1237.6 1139.8 1236.5 1143.8 1235.4 1147.7 1234.2 1151.7 1233.1 1155.6 1232.1 1159.6 1231 1163.5 1229.9 1167.5 1228.9 1171.5 1227.8 1175.4 1226.8 1179.4 1225.7 1183.3 1224.5 1187.3 1223.4 1191.2 1222.3 1195.2 1221.2 1199.1 1220.2 1203.1 1219.1 1207.1 1218 1211 1217 1215 1216 1218.9 1215 1222.9 1214 1226.8 1213 1230.8 1212 1234.8 1211 1238.7 1210.1 1242.7 1209.2 1246.6 1208.2 1250.6 1207.3 1254.5 1206.4 1258.5 1205.6 1262.4 1204.7 1266.4 1203.8 1270.4 1203 1274.3 1202.1 1278.3 1201.3 1282.2 1200.4 1286.2 1199.5 1290.1 1198.6 1294.1 1197.7 1298.1 1196.9 1302 1196 1306 1195.2 1309.9 1194.3 1313.9 1193.5 1317.8 1192.7 1321.8 1191.9 1325.7 1191.1 1329.7 1190.4 1333.7 1189.6 1337.6 1188.8 1341.6 1188.1 1345.5 1187.3 1349.5 1186.6 1353.4 1185.9 1357.4 1185.1 1361.3 1184.4 1365.3 1183.7 1369.3 1183 1373.2 1182.3 1377.2 1181.6 1381.1 1181 1385.1 1180.3 1389 1179.6 1393 1179 1397 1178.4 1400.9 1177.7 1404.9 1177.1 1408.8 1176.5 1412.8 1175.9 1416.7 1175.3 1420.7 1174.7 1424.6 1174.1 1428.6 1173.5 1432.6 1172.9 1436.5 1172.3 1440.5 1171.8 1444.4 1171.2 1448.4 1170.7 1452.3 1170.1 1456.3 1169.6 1460.3 1169.1 1464.2 1168.6 1468.2 1168.1 1472.1 1167.6 1476.1 1167.1 1480 1166.6 1484 1166.1 1487.9 1165.7 1491.9 1165.2L1491.9 1180.3 1487.9 1180.8 1484 1181.4 1480 1182 1476.1 1182.5 1472.1 1183.1 1468.2 1183.7 1464.2 1184.3 1460.3 1185 1456.3 1185.6 1452.3 1186.2 1448.4 1186.8 1444.4 1187.5 1440.5 1188.2 1436.5 1188.8 1432.6 1189.5 1428.6 1190.2 1424.6 1190.8 1420.7 1191.5 1416.7 1192.2 1412.8 1192.9 1408.8 1193.7 1404.9 1194.4 1400.9 1195.1 1397 1195.8 1393 1196.6 1389 1197.3 1385.1 1198.1 1381.1 1198.9 1377.2 1199.6 1373.2 1200.4 1369.3 1201.2 1365.3 1202 1361.3 1202.8 1357.4 1203.6 1353.4 1204.5 1349.5 1205.3 1345.5 1206.1 1341.6 1207 1337.6 1207.9 1333.7 1208.7 1329.7 1209.6 1325.7 1210.5 1321.8 1211.4 1317.8 1212.4 1313.9 1213.3 1309.9 1214.2 1306 1215.2 1302 1216.2 1298.1 1217.1 1294.1 1218.1 1290.1 1219.1 1286.2 1220.1 1282.2 1221.2 1278.3 1222.2 1274.3 1223.3 1270.4 1224.4 1266.4 1225.6 1262.4 1226.8 1258.5 1228 1254.5 1229.2 1250.6 1230.4 1246.6 1231.6 1242.7 1232.8 1238.7 1234.1 1234.8 1235.4 1230.8 1236.6 1226.8 1237.9 1222.9 1239.2 1218.9 1240.5 1215 1241.9 1211 1243.2 1207.1 1244.6 1203.1 1245.9 1199.1 1247.3 1195.2 1248.7 1191.2 1250.1 1187.3 1251.5 1183.3 1253 1179.4 1254.4 1175.4 1255.9 1171.5 1257.5 1167.5 1259.1 1163.5 1260.7 1159.6 1262.4 1155.6 1264 1151.7 1265.7 1147.7 1267.3 1143.8 1269 1139.8 1270.7 1135.8 1272.4 1131.9 1274.1 1127.9 1275.8 1124 1277.6 1120 1279.3 1116.1 1281.1 1112.1 1283 1108.2 1284.8 1104.2 1286.7 1100.2 1288.5 1096.3 1290.4 1092.3 1292.2 1088.4 1294.1 1084.4 1296 1080.5 1297.9 1076.5 1299.7 1072.6 1301.4 1068.6 1303.1 1064.6 1304.8 1060.7 1306.5 1056.7 1308.2 1052.8 1309.8 1048.8 1311.5 1044.9 1313.2 1040.9 1314.9 1036.9 1316.5 1033 1318.2 1029 1319.9 1025.1 1321.3 1021.1 1322.5 1017.2 1323.7 1013.2 1324.9 1009.3 1326 1005.3 1326.3 1001.3 1326.3 997.4 1326.3 993.4 1326.3 989.5 1326.3 985.5 1326.3 981.6 1326.3 977.6 1326.3 973.6 1326.3 969.7 1326.3 965.7 1326.3 961.8 1326.3 957.8 1326.3 953.9 1326.3 949.9 1326.3 946 1326.3 942 1326.3Z" fill="url(#g3)" filter="url(#blur2)"/>
<g fill="none" stroke="#000" stroke-width="14" stroke-linecap="round" stroke-opacity="0.17" filter="url(#cblur)"><path d="M968 1320h0M986 1318h0M988 1295h0M989 1315h0M998 1317h0M1001 1318h0M1020 1287h0M1022 1310h0M1022 1292h0M1024 1308h0M1027 1289h0M1034 1301h0M1037 1274h0M1051 1270h0M1058 1302h0M1062 1272h0M1065 1295h0M1078 1268h0M1079 1259h0M1095 1257h0M1096 1276h0M1099 1283h0M1105 1249h0M1112 1252h0M1119 1253h0M1122 1245h0M1123 1259h0M1127 1274h0M1128 1263h0M1135 1244h0M1135 1250h0M1136 1271h0M1139 1270h0M1138 1260h0M1158 1264h0M1160 1229h0M1160 1263h0M1162 1241h0M1168 1236h0M1171 1254h0M1176 1256h0M1198 1223h0M1225 1220h0M1224 1223h0M1236 1230h0M1239 1225h0M1250 1234h0M1253 1225h0M1254 1203h0M1253 1214h0M1266 1207h0M1269 1206h0M1277 1228h0M1283 1222h0M1292 1196h0M1293 1194h0M1296 1206h0M1299 1192h0M1301 1218h0M1306 1200h0M1306 1197h0M1306 1206h0M1312 1215h0M1323 1199h0M1326 1191h0M1332 1185h0M1352 1189h0M1364 1196h0M1384 1180h0M1384 1183h0M1385 1179h0M1393 1178h0M1394 1181h0M1401 1199h0M1404 1174h0M1414 1183h0M1416 1174h0M1434 1188h0M1438 1168h0M1443 1175h0M1443 1178h0M1451 1183h0M1462 1166h0M1461 1192h0M1467 1168h0M1468 1166h0M1472 1189h0M1486 1166h0M1486 1176h0M1486 1169h0M1488 1171h0"/><path d="M949 1311h0M989 1324h0M994 1317h0M996 1291h0M998 1311h0M1001 1299h0M1014 1317h0M1018 1320h0M1021 1290h0M1031 1289h0M1033 1307h0M1034 1280h0M1045 1307h0M1046 1270h0M1048 1277h0M1056 1305h0M1084 1267h0M1085 1290h0M1088 1280h0M1093 1264h0M1095 1284h0M1112 1274h0M1113 1268h0M1113 1256h0M1118 1277h0M1118 1258h0M1119 1277h0M1135 1242h0M1137 1264h0M1137 1239h0M1147 1243h0M1156 1241h0M1164 1255h0M1171 1256h0M1173 1237h0M1174 1254h0M1183 1248h0M1185 1248h0M1190 1226h0M1194 1242h0M1202 1250h0M1205 1224h0M1210 1236h0M1221 1216h0M1225 1241h0M1235 1226h0M1239 1234h0M1239 1220h0M1242 1227h0M1245 1226h0M1246 1211h0M1249 1232h0M1256 1212h0M1259 1227h0M1272 1199h0M1275 1209h0M1286 1224h0M1287 1215h0M1289 1199h0M1289 1223h0M1302 1192h0M1311 1217h0M1312 1208h0M1326 1205h0M1328 1190h0M1330 1191h0M1339 1203h0M1341 1209h0M1342 1201h0M1355 1209h0M1357 1193h0M1370 1194h0M1371 1179h0M1379 1195h0M1385 1182h0M1388 1204h0M1389 1178h0M1400 1204h0M1401 1171h0M1407 1186h0M1409 1175h0M1414 1203h0M1416 1177h0M1420 1173h0M1420 1201h0M1428 1191h0M1450 1191h0M1467 1167h0M1467 1165h0M1482 1188h0"/><path d="M968 1301h0M976 1297h0M1016 1323h0M1023 1291h0M1025 1278h0M1027 1316h0M1037 1297h0M1044 1283h0M1052 1303h0M1052 1305h0M1057 1296h0M1061 1276h0M1067 1285h0M1079 1264h0M1093 1270h0M1093 1282h0M1101 1287h0M1113 1254h0M1125 1269h0M1126 1275h0M1133 1245h0M1137 1244h0M1139 1267h0M1141 1245h0M1149 1257h0M1159 1231h0M1167 1246h0M1167 1260h0M1171 1258h0M1171 1258h0M1186 1227h0M1188 1236h0M1187 1222h0M1187 1253h0M1190 1221h0M1193 1253h0M1198 1231h0M1207 1245h0M1211 1239h0M1211 1222h0M1214 1223h0M1218 1228h0M1221 1211h0M1224 1214h0M1226 1211h0M1229 1237h0M1239 1207h0M1242 1208h0M1251 1214h0M1253 1234h0M1256 1220h0M1268 1222h0M1273 1200h0M1276 1228h0M1284 1220h0M1297 1192h0M1298 1199h0M1306 1190h0M1307 1210h0M1310 1217h0M1310 1192h0M1313 1204h0M1316 1196h0M1321 1212h0M1322 1208h0M1325 1190h0M1333 1218h0M1332 1198h0M1336 1205h0M1338 1187h0M1341 1190h0M1344 1185h0M1365 1178h0M1369 1178h0M1369 1179h0M1382 1183h0M1389 1183h0M1390 1196h0M1392 1194h0M1396 1179h0M1401 1173h0M1400 1180h0M1412 1174h0M1420 1174h0M1421 1198h0M1424 1182h0M1434 1174h0M1458 1179h0M1466 1168h0M1470 1173h0M1474 1189h0M1477 1180h0M1486 1163h0"/><path d="M968 1311h0M1002 1285h0M1008 1288h0M1012 1293h0M1012 1315h0M1015 1284h0M1016 1293h0M1018 1309h0M1027 1303h0M1029 1311h0M1048 1294h0M1051 1310h0M1059 1271h0M1061 1266h0M1063 1301h0M1069 1265h0M1073 1269h0M1074 1269h0M1075 1266h0M1079 1259h0M1101 1250h0M1111 1251h0M1115 1247h0M1120 1255h0M1129 1256h0M1132 1256h0M1133 1241h0M1140 1260h0M1147 1248h0M1156 1252h0M1156 1252h0M1160 1252h0M1161 1244h0M1165 1255h0M1181 1229h0M1182 1224h0M1183 1223h0M1184 1236h0M1188 1228h0M1199 1238h0M1211 1218h0M1211 1247h0M1217 1223h0M1231 1233h0M1253 1202h0M1257 1219h0M1263 1206h0M1266 1208h0M1275 1218h0M1278 1196h0M1284 1198h0M1297 1211h0M1299 1218h0M1298 1206h0M1300 1196h0M1303 1224h0M1316 1214h0M1318 1220h0M1331 1186h0M1339 1215h0M1346 1211h0M1345 1183h0M1345 1194h0M1347 1185h0M1353 1206h0M1358 1181h0M1361 1209h0M1363 1185h0M1365 1203h0M1366 1181h0M1367 1181h0M1367 1211h0M1375 1193h0M1380 1199h0M1383 1207h0M1387 1174h0M1403 1196h0M1408 1194h0M1422 1185h0M1427 1193h0M1429 1170h0M1431 1199h0M1441 1172h0M1453 1174h0M1461 1186h0M1468 1172h0M1479 1179h0M1482 1185h0M1482 1178h0"/><path d="M947 1317h0M960 1321h0M977 1309h0M978 1307h0M979 1310h0M984 1297h0M988 1315h0M988 1318h0M999 1320h0M1001 1324h0M1014 1295h0M1020 1320h0M1021 1282h0M1022 1311h0M1029 1278h0M1029 1297h0M1057 1272h0M1060 1301h0M1060 1286h0M1060 1264h0M1063 1296h0M1064 1264h0M1070 1273h0M1073 1297h0M1083 1295h0M1084 1257h0M1087 1262h0M1092 1252h0M1094 1281h0M1102 1276h0M1103 1284h0M1105 1248h0M1108 1269h0M1121 1253h0M1125 1243h0M1127 1247h0M1127 1268h0M1131 1242h0M1135 1247h0M1137 1271h0M1138 1241h0M1158 1233h0M1170 1228h0M1188 1241h0M1189 1220h0M1192 1225h0M1191 1228h0M1193 1227h0M1193 1252h0M1201 1242h0M1209 1233h0M1214 1238h0M1220 1211h0M1229 1212h0M1233 1212h0M1238 1212h0M1242 1206h0M1255 1227h0M1289 1225h0M1299 1193h0M1300 1217h0M1302 1212h0M1314 1214h0M1316 1212h0M1315 1214h0M1324 1193h0M1327 1219h0M1347 1193h0M1352 1213h0M1351 1181h0M1368 1196h0M1377 1209h0M1394 1185h0M1396 1199h0M1396 1203h0M1397 1203h0M1413 1183h0M1415 1172h0M1418 1181h0M1432 1197h0M1432 1180h0M1432 1196h0M1442 1176h0M1446 1182h0M1448 1186h0M1450 1169h0M1459 1176h0M1466 1162h0M1483 1162h0"/><path d="M953 1311h0M970 1321h0M973 1310h0M982 1295h0M985 1323h0M992 1321h0M1000 1301h0M1007 1315h0M1006 1321h0M1016 1301h0M1025 1276h0M1060 1272h0M1060 1297h0M1085 1287h0M1087 1279h0M1090 1293h0M1099 1266h0M1099 1282h0M1134 1247h0M1144 1241h0M1146 1244h0M1155 1263h0M1156 1264h0M1162 1253h0M1165 1232h0M1169 1257h0M1170 1229h0M1174 1235h0M1176 1255h0M1188 1228h0M1201 1248h0M1204 1239h0M1204 1221h0M1208 1220h0M1216 1213h0M1219 1212h0M1222 1237h0M1239 1208h0M1238 1212h0M1242 1207h0M1243 1214h0M1248 1222h0M1248 1206h0M1254 1223h0M1267 1213h0M1268 1204h0M1272 1218h0M1277 1199h0M1283 1199h0M1289 1228h0M1291 1219h0M1293 1209h0M1298 1197h0M1298 1194h0M1303 1193h0M1306 1215h0M1308 1196h0M1311 1199h0M1314 1196h0M1317 1196h0M1319 1212h0M1321 1196h0M1326 1215h0M1327 1207h0M1331 1203h0M1334 1189h0M1342 1213h0M1343 1211h0M1346 1187h0M1351 1199h0M1353 1187h0M1353 1200h0M1361 1207h0M1361 1208h0M1369 1196h0M1396 1177h0M1412 1190h0M1419 1188h0M1432 1169h0M1446 1195h0M1456 1171h0M1459 1173h0M1460 1195h0M1463 1181h0M1464 1165h0M1469 1166h0M1469 1168h0M1471 1186h0M1473 1171h0M1473 1192h0M1474 1169h0M1479 1161h0"/><path d="M954 1309h0M979 1300h0M1001 1289h0M1004 1285h0M1005 1321h0M1014 1322h0M1020 1288h0M1022 1306h0M1024 1287h0M1030 1312h0M1048 1305h0M1058 1305h0M1060 1270h0M1074 1266h0M1074 1287h0M1085 1267h0M1087 1258h0M1087 1259h0M1089 1257h0M1110 1268h0M1110 1278h0M1119 1253h0M1121 1249h0M1124 1247h0M1128 1247h0M1130 1259h0M1147 1252h0M1161 1244h0M1164 1256h0M1173 1227h0M1174 1230h0M1183 1246h0M1199 1247h0M1211 1227h0M1222 1215h0M1223 1214h0M1224 1219h0M1225 1236h0M1236 1232h0M1240 1234h0M1245 1236h0M1260 1232h0M1262 1224h0M1264 1210h0M1271 1200h0M1273 1208h0M1274 1204h0M1282 1203h0M1282 1206h0M1285 1211h0M1291 1195h0M1297 1192h0M1302 1222h0M1306 1224h0M1308 1201h0M1310 1214h0M1315 1190h0M1320 1203h0M1321 1195h0M1335 1187h0M1340 1217h0M1344 1208h0M1346 1204h0M1364 1196h0M1373 1179h0M1378 1181h0M1398 1184h0M1401 1198h0M1416 1195h0M1420 1171h0M1425 1187h0M1439 1197h0M1446 1170h0M1446 1177h0M1448 1178h0M1461 1164h0M1462 1195h0M1466 1163h0M1468 1172h0"/><path d="M1003 1300h0M1005 1316h0M1009 1298h0M1021 1279h0M1028 1289h0M1029 1277h0M1041 1309h0M1040 1278h0M1043 1292h0M1048 1293h0M1058 1273h0M1063 1298h0M1074 1290h0M1076 1261h0M1092 1293h0M1093 1292h0M1103 1260h0M1103 1286h0M1110 1247h0M1125 1252h0M1126 1241h0M1150 1261h0M1152 1245h0M1153 1240h0M1153 1264h0M1157 1237h0M1170 1260h0M1175 1256h0M1180 1253h0M1183 1227h0M1183 1226h0M1189 1225h0M1202 1222h0M1209 1227h0M1210 1245h0M1213 1217h0M1213 1227h0M1218 1242h0M1224 1211h0M1225 1212h0M1227 1210h0M1234 1214h0M1234 1208h0M1234 1240h0M1238 1234h0M1243 1235h0M1244 1206h0M1246 1211h0M1250 1231h0M1251 1232h0M1262 1202h0M1266 1227h0M1273 1213h0M1274 1204h0M1300 1220h0M1303 1224h0M1314 1221h0M1315 1214h0M1326 1195h0M1334 1205h0M1335 1216h0M1340 1187h0M1342 1184h0M1343 1189h0M1347 1210h0M1348 1181h0M1358 1184h0M1369 1209h0M1382 1176h0M1408 1196h0M1417 1176h0M1430 1168h0M1435 1197h0M1437 1177h0M1440 1167h0M1442 1174h0M1465 1193h0M1465 1183h0M1469 1163h0M1484 1191h0M1488 1182h0M1489 1170h0"/></g>
<path d="M942 1323.5L948.2 1321.9L954.4 1320.2L960.5 1318.5L966.7 1316.6L972.9 1314.7L979.1 1312.7L985.3 1310.7L991.4 1308.6L997.6 1306.4L1003.8 1304.2L1010 1302L1016.1 1299.8L1022.3 1297.5L1028.5 1295.1L1034.7 1292.8L1040.9 1290.5L1047 1288.1L1053.2 1285.7L1059.4 1283.3L1065.6 1280.9L1071.8 1278.6L1077.9 1276.2L1084.1 1273.8L1090.3 1271.4L1096.5 1269.1L1102.6 1266.8L1108.8 1264.4L1115 1262.1L1121.2 1259.8L1127.4 1257.6L1133.5 1255.3L1139.7 1253.1L1145.9 1250.9L1152.1 1248.8L1158.3 1246.6L1164.4 1244.5L1170.6 1242.4L1176.8 1240.4L1183 1238.4L1189.1 1236.4L1195.3 1234.4L1201.5 1232.5L1207.7 1230.6L1213.9 1228.8L1220 1226.9L1226.2 1225.1L1232.4 1223.4L1238.6 1221.6L1244.8 1219.9L1250.9 1218.3L1257.1 1216.6L1263.3 1215L1269.5 1213.4L1275.6 1211.9L1281.8 1210.4L1288 1208.9L1294.2 1207.4L1300.4 1206L1306.5 1204.6L1312.7 1203.2L1318.9 1201.8L1325.1 1200.5L1331.3 1199.2L1337.4 1197.9L1343.6 1196.6L1349.8 1195.4L1356 1194.2L1362.1 1193L1368.3 1191.8L1374.5 1190.6L1380.7 1189.5L1386.9 1188.4L1393 1187.3L1399.2 1186.2L1405.4 1185.1L1411.6 1184.1L1417.8 1183.1L1423.9 1182.1L1430.1 1181.1L1436.3 1180.1L1442.5 1179.2L1448.6 1178.2L1454.8 1177.3L1461 1176.4L1467.2 1175.5L1473.4 1174.7L1479.5 1173.8L1485.7 1173L1491.9 1172.2" fill="none" stroke="#000" stroke-width="7"/>
<path d="M942 1323.5L948.2 1321.9L954.4 1320.2L960.5 1318.5L966.7 1316.6L972.9 1314.7L979.1 1312.7L985.3 1310.7L991.4 1308.6L997.6 1306.4L1003.8 1304.2L1010 1302L1016.1 1299.8L1022.3 1297.5L1028.5 1295.1L1034.7 1292.8L1040.9 1290.5L1047 1288.1L1053.2 1285.7L1059.4 1283.3L1065.6 1280.9L1071.8 1278.6L1077.9 1276.2L1084.1 1273.8L1090.3 1271.4L1096.5 1269.1L1102.6 1266.8L1108.8 1264.4L1115 1262.1L1121.2 1259.8L1127.4 1257.6L1133.5 1255.3L1139.7 1253.1L1145.9 1250.9L1152.1 1248.8L1158.3 1246.6L1164.4 1244.5L1170.6 1242.4L1176.8 1240.4L1183 1238.4L1189.1 1236.4L1195.3 1234.4L1201.5 1232.5L1207.7 1230.6L1213.9 1228.8L1220 1226.9L1226.2 1225.1L1232.4 1223.4L1238.6 1221.6L1244.8 1219.9L1250.9 1218.3L1257.1 1216.6L1263.3 1215L1269.5 1213.4L1275.6 1211.9L1281.8 1210.4L1288 1208.9L1294.2 1207.4L1300.4 1206L1306.5 1204.6L1312.7 1203.2L1318.9 1201.8L1325.1 1200.5L1331.3 1199.2L1337.4 1197.9L1343.6 1196.6L1349.8 1195.4L1356 1194.2L1362.1 1193L1368.3 1191.8L1374.5 1190.6L1380.7 1189.5L1386.9 1188.4L1393 1187.3L1399.2 1186.2L1405.4 1185.1L1411.6 1184.1L1417.8 1183.1L1423.9 1182.1L1430.1 1181.1L1436.3 1180.1L1442.5 1179.2L1448.6 1178.2L1454.8 1177.3L1461 1176.4L1467.2 1175.5L1473.4 1174.7L1479.5 1173.8L1485.7 1173L1491.9 1172.2" fill="none" stroke="#fff" stroke-width="2.6"/>
<defs><linearGradient id="g4" gradientUnits="userSpaceOnUse" x1="938.7" y1="0" x2="1491.3" y2="0"><stop offset="0%" stop-opacity="1.00"/><stop offset="10%" stop-opacity="1.00"/><stop offset="20%" stop-opacity="1.00"/><stop offset="30%" stop-opacity="1.00"/><stop offset="40%" stop-opacity="1.00"/><stop offset="50%" stop-opacity="1.00"/><stop offset="60%" stop-opacity="0.95"/><stop offset="70%" stop-opacity="0.91"/><stop offset="80%" stop-opacity="0.88"/><stop offset="90%" stop-opacity="0.85"/><stop offset="100%" stop-opacity="0.80"/></linearGradient></defs>
<path d="M938.7 1303.4 942.7 1300.4 946.7 1297.3 950.6 1294.1 954.6 1290.8 958.6 1287.6 962.6 1284.3 966.5 1280.9 970.5 1277.6 974.5 1274.3 978.5 1271.1 982.4 1267.8 986.4 1264.5 990.4 1261.2 994.4 1257.8 998.3 1254.4 1002.3 1250.9 1006.3 1247.4 1010.3 1243.9 1014.2 1240.3 1018.2 1236.7 1022.2 1233.1 1026.2 1229.5 1030.1 1225.9 1034.1 1222.3 1038.1 1218.7 1042.1 1215 1046 1211.4 1050 1207.7 1054 1204 1058 1200.2 1061.9 1196.5 1065.9 1192.7 1069.9 1188.9 1073.9 1185 1077.8 1181.2 1081.8 1177.3 1085.8 1173.4 1089.8 1169.5 1093.7 1165.6 1097.7 1161.7 1101.7 1157.7 1105.7 1153.8 1109.6 1149.8 1113.6 1145.8 1117.6 1141.8 1121.6 1137.9 1125.6 1134 1129.5 1130.1 1133.5 1126.3 1137.5 1122.4 1141.5 1118.5 1145.4 1114.6 1149.4 1110.7 1153.4 1106.9 1157.4 1103 1161.3 1099.2 1165.3 1095.3 1169.3 1091.5 1173.3 1087.6 1177.2 1083.8 1181.2 1080 1185.2 1076.2 1189.2 1072.4 1193.1 1068.6 1197.1 1064.9 1201.1 1061.2 1205.1 1057.4 1209 1053.7 1213 1050.1 1217 1046.5 1221 1043 1224.9 1039.6 1228.9 1036.1 1232.9 1032.7 1236.9 1029.3 1240.8 1026 1244.8 1022.6 1248.8 1019.3 1252.8 1016.1 1256.7 1012.8 1260.7 1009.6 1264.7 1006.4 1268.7 1003.3 1272.6 1000.2 1276.6 997.1 1280.6 993.9 1284.6 990.8 1288.5 987.7 1292.5 984.7 1296.5 981.7 1300.5 978.7 1304.4 975.7 1308.4 972.8 1312.4 969.9 1316.4 967.1 1320.4 964.3 1324.3 961.5 1328.3 958.8 1332.3 956.1 1336.3 953.4 1340.2 950.7 1344.2 948 1348.2 945.4 1352.2 942.7 1356.1 940.1 1360.1 937.5 1364.1 935 1368.1 932.4 1372 929.9 1376 927.5 1380 925 1384 922.6 1387.9 920.2 1391.9 917.8 1395.9 915.4 1399.9 913 1403.8 910.6 1407.8 908.3 1411.8 906 1415.8 903.6 1419.7 901.3 1423.7 899 1427.7 896.6 1431.7 894.3 1435.6 892 1439.6 889.7 1443.6 887.3 1447.6 885 1451.5 882.6 1455.5 880.2 1459.5 877.8 1463.5 875.3 1467.4 872.8 1471.4 870.3 1475.4 867.8 1479.4 865.2 1483.3 862.5 1487.3 859.8 1491.3 857.1L1491.3 863.1 1487.3 866 1483.3 868.8 1479.4 871.6 1475.4 874.4 1471.4 877 1467.4 879.7 1463.5 882.3 1459.5 884.9 1455.5 887.4 1451.5 889.9 1447.6 892.4 1443.6 894.9 1439.6 897.4 1435.6 899.8 1431.7 902.3 1427.7 904.7 1423.7 907.1 1419.7 909.5 1415.8 912 1411.8 914.4 1407.8 916.8 1403.8 919.2 1399.9 921.7 1395.9 924.1 1391.9 926.6 1387.9 929.1 1384 931.6 1380 934.1 1376 936.7 1372 939.2 1368.1 941.8 1364.1 944.4 1360.1 947.1 1356.1 949.7 1352.2 952.4 1348.2 955.1 1344.2 957.9 1340.2 960.7 1336.3 963.5 1332.3 966.5 1328.3 969.4 1324.3 972.4 1320.4 975.4 1316.4 978.5 1312.4 981.6 1308.4 984.7 1304.4 987.9 1300.5 991.1 1296.5 994.3 1292.5 997.6 1288.5 1000.9 1284.6 1004.2 1280.6 1007.6 1276.6 1011 1272.6 1014.5 1268.7 1018.1 1264.7 1021.7 1260.7 1025.3 1256.7 1029 1252.8 1032.7 1248.8 1036.4 1244.8 1040.1 1240.8 1043.9 1236.9 1047.7 1232.9 1051.6 1228.9 1055.4 1224.9 1059.3 1221 1063.2 1217 1067.2 1213 1071.1 1209 1074.9 1205.1 1078.8 1201.1 1082.7 1197.1 1086.6 1193.1 1090.5 1189.2 1094.5 1185.2 1098.4 1181.2 1102.4 1177.2 1106.4 1173.3 1110.4 1169.3 1114.4 1165.3 1118.4 1161.3 1122.4 1157.4 1126.4 1153.4 1130.5 1149.4 1134.5 1145.4 1138.5 1141.5 1142.6 1137.5 1146.6 1133.5 1150.7 1129.5 1154.7 1125.6 1158.8 1121.6 1162.8 1117.6 1166.8 1113.6 1170.7 1109.6 1174.6 1105.7 1178.4 1101.7 1182.3 1097.7 1186.2 1093.7 1190 1089.8 1193.9 1085.8 1197.7 1081.8 1201.5 1077.8 1205.3 1073.9 1209 1069.9 1212.8 1065.9 1216.5 1061.9 1220.2 1058 1223.9 1054 1227.5 1050 1231.2 1046 1234.8 1042.1 1238.4 1038.1 1241.9 1034.1 1245.4 1030.1 1248.9 1026.2 1252.4 1022.2 1255.7 1018.2 1258.9 1014.2 1262.2 1010.3 1265.4 1006.3 1268.5 1002.3 1271.7 998.3 1274.8 994.4 1277.8 990.4 1280.9 986.4 1283.9 982.4 1286.8 978.5 1289.8 974.5 1292.6 970.5 1295.5 966.5 1298.1 962.6 1300.6 958.6 1303.2 954.6 1305.7 950.6 1308.1 946.7 1310.5 942.7 1312.9 938.7 1315.4Z" fill="url(#g4)" filter="url(#blur1)"/>
<g fill="none" stroke="#000" stroke-width="9" stroke-linecap="round" stroke-opacity="0.2" filter="url(#cblur)"><path d="M957 1302h0M988 1271h0M997 1260h0M1002 1266h0M1021 1252h0M1029 1242h0M1037 1239h0M1045 1231h0M1045 1215h0M1115 1157h0M1122 1160h0M1127 1152h0M1137 1140h0M1147 1115h0M1153 1123h0M1177 1099h0M1182 1082h0M1185 1084h0M1188 1093h0M1214 1055h0M1214 1055h0M1215 1068h0M1225 1056h0M1230 1044h0M1230 1036h0M1249 1035h0M1251 1022h0M1259 1021h0M1267 1011h0M1271 1001h0M1287 1002h0M1292 998h0M1300 991h0M1301 978h0M1305 984h0M1313 970h0M1316 967h0M1327 967h0M1329 971h0M1329 963h0M1331 960h0M1333 965h0M1343 949h0M1349 943h0M1363 946h0M1363 938h0M1367 932h0M1377 934h0M1378 930h0M1379 925h0M1378 931h0M1382 934h0M1399 912h0M1402 912h0M1418 909h0M1430 901h0M1446 889h0M1457 879h0M1483 861h0"/><path d="M979 1273h0M1014 1255h0M1021 1243h0M1035 1230h0M1036 1225h0M1047 1226h0M1046 1213h0M1052 1215h0M1140 1141h0M1161 1118h0M1168 1113h0M1217 1055h0M1225 1058h0M1229 1052h0M1232 1034h0M1234 1038h0M1236 1042h0M1241 1044h0M1259 1016h0M1266 1006h0M1266 1009h0M1293 995h0M1300 978h0M1310 970h0M1314 968h0M1314 967h0M1325 961h0M1330 964h0M1333 958h0M1337 955h0M1347 949h0M1355 939h0M1357 944h0M1357 939h0M1358 941h0M1374 935h0M1389 930h0M1396 925h0M1398 923h0M1401 916h0M1402 912h0M1405 915h0M1413 908h0M1413 907h0M1417 906h0M1417 909h0M1421 911h0M1431 905h0M1431 904h0M1432 900h0M1441 896h0M1452 890h0M1468 872h0M1471 880h0M1478 873h0M1483 863h0M1487 859h0M1488 858h0M1488 868h0M1492 858h0M1491 857h0"/><path d="M996 1260h0M999 1272h0M1026 1247h0M1048 1212h0M1086 1184h0M1093 1185h0M1104 1171h0M1113 1154h0M1123 1144h0M1156 1108h0M1159 1104h0M1191 1082h0M1192 1073h0M1210 1070h0M1215 1062h0M1216 1067h0M1219 1059h0M1223 1045h0M1222 1045h0M1233 1048h0M1234 1032h0M1239 1045h0M1245 1040h0M1260 1020h0M1270 1008h0M1306 988h0M1308 975h0M1312 973h0M1320 968h0M1334 965h0M1334 955h0M1341 958h0M1341 962h0M1352 952h0M1355 942h0M1355 949h0M1382 935h0M1387 921h0M1388 930h0M1395 925h0M1396 923h0M1397 923h0M1401 912h0M1403 919h0M1410 914h0M1417 913h0M1417 904h0M1427 903h0M1432 892h0M1440 899h0M1443 893h0M1449 893h0M1451 891h0M1452 881h0M1473 872h0M1475 866h0M1474 866h0M1480 865h0M1488 858h0M1489 859h0"/><path d="M984 1283h0M985 1272h0M992 1275h0M1010 1254h0M1052 1208h0M1117 1146h0M1141 1141h0M1147 1116h0M1161 1104h0M1176 1103h0M1177 1091h0M1187 1081h0M1187 1078h0M1188 1090h0M1200 1067h0M1208 1063h0M1211 1054h0M1215 1061h0M1227 1056h0M1245 1028h0M1249 1035h0M1253 1026h0M1253 1016h0M1259 1023h0M1270 1007h0M1284 1001h0M1288 994h0M1308 977h0M1308 978h0M1332 956h0M1342 953h0M1349 955h0M1362 936h0M1365 942h0M1371 937h0M1372 929h0M1374 937h0M1375 928h0M1386 919h0M1388 927h0M1395 914h0M1408 908h0M1416 905h0M1416 907h0M1424 903h0M1430 906h0M1429 895h0M1429 899h0M1432 897h0M1432 904h0M1440 897h0M1443 889h0M1447 884h0M1456 883h0M1462 883h0M1469 881h0M1470 870h0M1478 873h0M1485 867h0M1489 858h0"/><path d="M957 1293h0M963 1296h0M1064 1215h0M1075 1191h0M1092 1172h0M1100 1164h0M1148 1117h0M1148 1117h0M1156 1109h0M1187 1095h0M1224 1053h0M1234 1046h0M1238 1029h0M1242 1036h0M1243 1028h0M1246 1034h0M1247 1031h0M1248 1032h0M1252 1024h0M1272 1003h0M1277 1008h0M1290 999h0M1293 987h0M1299 981h0M1315 974h0M1315 977h0M1320 970h0M1338 956h0M1338 957h0M1340 960h0M1339 963h0M1348 945h0M1357 939h0M1359 941h0M1363 934h0M1366 945h0M1367 933h0M1367 933h0M1372 941h0M1372 941h0M1379 927h0M1391 927h0M1390 918h0M1401 920h0M1405 919h0M1408 918h0M1417 903h0M1429 906h0M1432 903h0M1435 890h0M1435 897h0M1444 894h0M1445 895h0M1450 885h0M1460 884h0M1479 866h0M1481 873h0"/><path d="M964 1295h0M972 1292h0M973 1291h0M1066 1199h0M1071 1203h0M1155 1110h0M1156 1125h0M1162 1112h0M1181 1094h0M1208 1070h0M1219 1049h0M1229 1052h0M1234 1036h0M1237 1042h0M1246 1027h0M1252 1022h0M1261 1022h0M1282 995h0M1291 998h0M1297 983h0M1297 994h0M1304 985h0M1317 977h0M1343 949h0M1355 951h0M1357 950h0M1360 938h0M1365 933h0M1379 935h0M1395 918h0M1397 914h0M1397 922h0M1399 911h0M1417 913h0M1423 897h0M1431 895h0M1434 892h0M1447 883h0M1463 875h0M1465 881h0M1478 872h0M1478 866h0M1481 862h0M1481 862h0M1490 864h0"/><path d="M952 1302h0M961 1297h0M995 1263h0M1002 1254h0M1036 1224h0M1041 1224h0M1062 1205h0M1063 1216h0M1074 1192h0M1106 1161h0M1108 1155h0M1130 1137h0M1130 1138h0M1167 1113h0M1177 1092h0M1191 1079h0M1213 1066h0M1215 1068h0M1216 1056h0M1221 1060h0M1232 1048h0M1236 1046h0M1246 1039h0M1250 1020h0M1255 1026h0M1256 1030h0M1268 1016h0M1270 1002h0M1271 1017h0M1281 1000h0M1282 1001h0M1284 996h0M1290 1000h0M1296 995h0M1304 987h0M1306 982h0M1327 962h0M1332 967h0M1336 954h0M1338 964h0M1341 961h0M1354 948h0M1357 947h0M1358 941h0M1361 945h0M1366 937h0M1370 929h0M1371 939h0M1373 931h0M1386 923h0M1388 930h0M1388 928h0M1391 918h0M1398 915h0M1408 916h0M1409 907h0M1412 908h0M1413 911h0M1427 899h0M1427 898h0M1429 905h0M1431 893h0M1437 893h0M1441 889h0M1442 898h0M1445 885h0M1446 887h0M1458 879h0M1460 876h0M1462 876h0M1463 883h0M1477 875h0"/><path d="M955 1296h0M961 1288h0M973 1289h0M1000 1260h0M1005 1264h0M1009 1250h0M1013 1250h0M1020 1240h0M1023 1248h0M1064 1207h0M1081 1184h0M1092 1188h0M1130 1144h0M1135 1146h0M1151 1118h0M1168 1108h0M1169 1101h0M1172 1109h0M1240 1028h0M1254 1017h0M1263 1010h0M1271 1003h0M1291 989h0M1297 987h0M1298 989h0M1309 971h0M1309 972h0M1310 972h0M1312 981h0M1320 975h0M1328 963h0M1333 960h0M1343 948h0M1356 952h0M1360 941h0M1376 928h0M1375 928h0M1379 923h0M1381 923h0M1384 921h0M1395 915h0M1399 923h0M1408 906h0M1414 903h0M1421 900h0M1420 907h0M1432 892h0M1433 894h0M1433 902h0M1433 902h0M1444 885h0M1451 890h0M1457 877h0M1460 885h0M1466 876h0M1471 880h0M1477 865h0M1481 872h0M1484 871h0"/></g>
<path d="M938.7 1309.4L944.9 1305.1L951.1 1300.7L957.3 1296.3L963.5 1291.7L969.7 1287.1L976 1282.4L982.2 1277.5L988.4 1272.6L994.6 1267.6L1000.8 1262.5L1007 1257.4L1013.2 1252.1L1019.4 1246.8L1025.6 1241.4L1031.8 1235.9L1038 1230.3L1044.3 1224.7L1050.5 1219L1056.7 1213.3L1062.9 1207.5L1069.1 1201.6L1075.3 1195.7L1081.5 1189.7L1087.7 1183.7L1093.9 1177.6L1100.1 1171.5L1106.3 1165.4L1112.6 1159.3L1118.8 1153.1L1125 1147L1131.2 1140.8L1137.4 1134.6L1143.6 1128.4L1149.8 1122.2L1156 1116L1162.2 1109.9L1168.4 1103.7L1174.6 1097.6L1180.9 1091.5L1187.1 1085.5L1193.3 1079.4L1199.5 1073.5L1205.7 1067.5L1211.9 1061.6L1218.1 1055.8L1224.3 1050L1230.5 1044.3L1236.7 1038.7L1242.9 1033.1L1249.1 1027.5L1255.4 1022.1L1261.6 1016.7L1267.8 1011.4L1274 1006.2L1280.2 1001.1L1286.4 996L1292.6 991.1L1298.8 986.2L1305 981.4L1311.2 976.6L1317.4 972L1323.7 967.5L1329.9 963L1336.1 958.6L1342.3 954.3L1348.5 950L1354.7 945.9L1360.9 941.8L1367.1 937.7L1373.3 933.8L1379.5 929.8L1385.7 926L1392 922.1L1398.2 918.4L1404.4 914.6L1410.6 910.9L1416.8 907.2L1423 903.5L1429.2 899.8L1435.4 896L1441.6 892.3L1447.8 888.5L1454 884.7L1460.3 880.8L1466.5 876.9L1472.7 872.9L1478.9 868.7L1485.1 864.5L1491.3 860.1" fill="none" stroke="#000" stroke-width="7"/>
<path d="M938.7 1309.4L944.9 1305.1L951.1 1300.7L957.3 1296.3L963.5 1291.7L969.7 1287.1L976 1282.4L982.2 1277.5L988.4 1272.6L994.6 1267.6L1000.8 1262.5L1007 1257.4L1013.2 1252.1L1019.4 1246.8L1025.6 1241.4L1031.8 1235.9L1038 1230.3L1044.3 1224.7L1050.5 1219L1056.7 1213.3L1062.9 1207.5L1069.1 1201.6L1075.3 1195.7L1081.5 1189.7L1087.7 1183.7L1093.9 1177.6L1100.1 1171.5L1106.3 1165.4L1112.6 1159.3L1118.8 1153.1L1125 1147L1131.2 1140.8L1137.4 1134.6L1143.6 1128.4L1149.8 1122.2L1156 1116L1162.2 1109.9L1168.4 1103.7L1174.6 1097.6L1180.9 1091.5L1187.1 1085.5L1193.3 1079.4L1199.5 1073.5L1205.7 1067.5L1211.9 1061.6L1218.1 1055.8L1224.3 1050L1230.5 1044.3L1236.7 1038.7L1242.9 1033.1L1249.1 1027.5L1255.4 1022.1L1261.6 1016.7L1267.8 1011.4L1274 1006.2L1280.2 1001.1L1286.4 996L1292.6 991.1L1298.8 986.2L1305 981.4L1311.2 976.6L1317.4 972L1323.7 967.5L1329.9 963L1336.1 958.6L1342.3 954.3L1348.5 950L1354.7 945.9L1360.9 941.8L1367.1 937.7L1373.3 933.8L1379.5 929.8L1385.7 926L1392 922.1L1398.2 918.4L1404.4 914.6L1410.6 910.9L1416.8 907.2L1423 903.5L1429.2 899.8L1435.4 896L1441.6 892.3L1447.8 888.5L1454 884.7L1460.3 880.8L1466.5 876.9L1472.7 872.9L1478.9 868.7L1485.1 864.5L1491.3 860.1" fill="none" stroke="#fff" stroke-width="2.6"/>
<g stroke="#000" stroke-width="2.3" fill="none" stroke-linecap="round">
<path d="M871.6 742.4V1326.3"/>
<path d="M871.6 1326.3H1499.1"/>
<path d="M859.8 1326.3H871.6"/>
<path d="M859.8 1225.6H871.6"/>
<path d="M859.8 1125H871.6"/>
<path d="M859.8 1024.3H871.6"/>
<path d="M859.8 923.7H871.6"/>
<path d="M859.8 823H871.6"/>
<path d="M871.6 1326.3V1337.8"/>
<path d="M1027.1 1326.3V1337.8"/>
<path d="M1182.6 1326.3V1337.8"/>
<path d="M1338.1 1326.3V1337.8"/>
<path d="M1493.6 1326.3V1337.8"/>
</g>
<g font-family="'Liberation Sans', Arial, Helvetica, sans-serif" font-size="29" fill="#000">
</g>
<g font-family="'Liberation Sans', Arial, Helvetica, sans-serif" font-size="29" fill="#505050">
<text x="897.5" y="781.9" font-style="italic">S−FUND</text>
<text x="1431.1" y="952.5" font-size="30">DICE</text>
<text x="1377.4" y="1266.5" font-size="30">FUND</text>
</g>
<defs><linearGradient id="g5" gradientUnits="userSpaceOnUse" x1="233.3" y1="0" x2="781.3" y2="0"><stop offset="0%" stop-opacity="1.00"/><stop offset="10%" stop-opacity="1.00"/><stop offset="20%" stop-opacity="1.00"/><stop offset="30%" stop-opacity="1.00"/><stop offset="40%" stop-opacity="0.96"/><stop offset="50%" stop-opacity="0.87"/><stop offset="60%" stop-opacity="0.66"/><stop offset="70%" stop-opacity="0.48"/><stop offset="80%" stop-opacity="0.36"/><stop offset="90%" stop-opacity="0.29"/><stop offset="100%" stop-opacity="0.25"/></linearGradient></defs>
<path d="M233.3 1978.4 237.2 1976.5 241.2 1974.5 245.1 1972.5 249.1 1970.5 253 1968.4 257 1966.3 260.9 1964.1 264.8 1961.9 268.8 1959.7 272.7 1957.6 276.7 1955.7 280.6 1953.8 284.6 1951.8 288.5 1949.8 292.4 1947.9 296.4 1945.9 300.3 1943.8 304.3 1941.8 308.2 1939.8 312.1 1937.7 316.1 1935.7 320 1934 324 1932.3 327.9 1930.6 331.9 1928.8 335.8 1927.1 339.7 1925.4 343.7 1923.6 347.6 1921.9 351.6 1920.2 355.5 1918.4 359.5 1916.7 363.4 1915 367.3 1913.4 371.3 1911.9 375.2 1910.3 379.2 1908.8 383.1 1907.3 387.1 1905.9 391 1904.4 394.9 1902.9 398.9 1901.4 402.8 1900 406.8 1898.6 410.7 1897.1 414.7 1895.7 418.6 1894.3 422.5 1893 426.5 1891.6 430.4 1890.2 434.4 1888.9 438.3 1887.6 442.2 1886.3 446.2 1885 450.1 1883.7 454.1 1882.4 458 1881.2 462 1879.9 465.9 1878.7 469.8 1877.3 473.8 1876 477.7 1874.7 481.7 1873.4 485.6 1872.1 489.6 1870.9 493.5 1869.6 497.4 1868.4 501.4 1867.2 505.3 1866 509.3 1864.8 513.2 1863.6 517.2 1862.5 521.1 1861.3 525 1860.2 529 1859.1 532.9 1858 536.9 1856.9 540.8 1855.8 544.8 1854.7 548.7 1853.7 552.6 1852.6 556.6 1851.6 560.5 1850.6 564.5 1849.6 568.4 1848.5 572.4 1847.5 576.3 1846.4 580.2 1845.4 584.2 1844.3 588.1 1843.3 592.1 1842.3 596 1841.3 599.9 1840.3 603.9 1839.3 607.8 1838.3 611.8 1837.4 615.7 1836.4 619.7 1835.5 623.6 1834.6 627.5 1833.7 631.5 1832.8 635.4 1831.8 639.4 1831 643.3 1830.1 647.3 1829.2 651.2 1828.3 655.1 1827.5 659.1 1826.7 663 1825.8 667 1825 670.9 1824.2 674.9 1823.4 678.8 1822.6 682.7 1821.9 686.7 1821.1 690.6 1820.4 694.6 1819.6 698.5 1818.9 702.5 1818.2 706.4 1817.5 710.3 1816.9 714.3 1816.2 718.2 1815.6 722.2 1815 726.1 1814.4 730 1813.8 734 1813.2 737.9 1812.7 741.9 1812.1 745.8 1811.6 749.8 1811.1 753.7 1810.7 757.6 1810.2 761.6 1809.8 765.5 1809.4 769.5 1809.1 773.4 1808.7 777.4 1808.4 781.3 1808.1L781.3 1823.2 777.4 1823.6 773.4 1824 769.5 1824.4 765.5 1824.9 761.6 1825.4 757.6 1825.9 753.7 1826.4 749.8 1827 745.8 1827.6 741.9 1828.2 737.9 1828.8 734 1829.5 730 1830.1 726.1 1830.8 722.2 1831.5 718.2 1832.2 714.3 1833 710.3 1833.7 706.4 1834.5 702.5 1835.3 698.5 1836.1 694.6 1836.9 690.6 1837.7 686.7 1838.6 682.7 1839.4 678.8 1840.3 674.9 1841.2 670.9 1842.1 667 1843 663 1843.9 659.1 1844.8 655.1 1845.8 651.2 1846.7 647.3 1847.7 643.3 1848.7 639.4 1849.6 635.4 1850.6 631.5 1851.6 627.5 1852.7 623.6 1853.7 619.7 1854.7 615.7 1855.8 611.8 1856.9 607.8 1858 603.9 1859.1 599.9 1860.2 596 1861.3 592.1 1862.4 588.1 1863.5 584.2 1864.7 580.2 1865.9 576.3 1867 572.4 1868.2 568.4 1869.4 564.5 1870.6 560.5 1871.9 556.6 1873.3 552.6 1874.6 548.7 1876 544.8 1877.3 540.8 1878.7 536.9 1880.1 532.9 1881.5 529 1882.9 525 1884.4 521.1 1885.8 517.2 1887.3 513.2 1888.8 509.3 1890.2 505.3 1891.8 501.4 1893.3 497.4 1894.8 493.5 1896.4 489.6 1897.9 485.6 1899.5 481.7 1901.1 477.7 1902.7 473.8 1904.3 469.8 1905.9 465.9 1907.6 462 1909.4 458 1911.2 454.1 1913 450.1 1914.8 446.2 1916.7 442.2 1918.5 438.3 1920.4 434.4 1922.3 430.4 1924.2 426.5 1926.1 422.5 1928 418.6 1930 414.7 1931.9 410.7 1933.9 406.8 1935.9 402.8 1938 398.9 1940.1 394.9 1942.1 391 1944.3 387.1 1946.4 383.1 1948.5 379.2 1950.6 375.2 1952.8 371.3 1954.9 367.3 1957 363.4 1959.1 359.5 1961.1 355.5 1963 351.6 1965 347.6 1967 343.7 1968.9 339.7 1970.9 335.8 1972.9 331.9 1974.8 327.9 1976.8 324 1978.8 320 1980.7 316.1 1982.7 312.1 1984.3 308.2 1985.8 304.3 1987.3 300.3 1988.8 296.4 1990.2 292.4 1991.7 288.5 1993.1 284.6 1994.2 280.6 1994.2 276.7 1994.2 272.7 1994.2 268.8 1994.2 264.8 1994.2 260.9 1994.2 257 1994.2 253 1994.2 249.1 1994.2 245.1 1994.2 241.2 1994.2 237.2 1994.2 233.3 1994.2Z" fill="url(#g5)" filter="url(#blur2)"/>
<g fill="none" stroke="#000" stroke-width="14" stroke-linecap="round" stroke-opacity="0.17" filter="url(#cblur)"><path d="M281 1970h0M294 1989h0M299 1972h0M300 1986h0M314 1968h0M327 1939h0M342 1962h0M348 1932h0M351 1941h0M355 1953h0M381 1920h0M384 1924h0M391 1909h0M394 1921h0M404 1915h0M411 1911h0M415 1921h0M418 1913h0M426 1919h0M430 1925h0M435 1894h0M435 1898h0M449 1917h0M461 1911h0M463 1894h0M466 1906h0M468 1907h0M471 1887h0M479 1879h0M492 1901h0M495 1877h0M496 1887h0M496 1888h0M497 1891h0M514 1859h0M520 1871h0M526 1861h0M531 1861h0M530 1863h0M534 1854h0M535 1882h0M535 1880h0M546 1856h0M549 1852h0M568 1845h0M569 1868h0M583 1851h0M584 1840h0M591 1869h0M596 1870h0M608 1862h0M613 1860h0M615 1864h0M617 1842h0M618 1860h0M622 1843h0M640 1847h0M642 1827h0M641 1850h0M642 1832h0M652 1842h0M659 1820h0M662 1831h0M663 1838h0M671 1832h0M674 1843h0M675 1838h0M677 1826h0M678 1826h0M698 1841h0M698 1815h0M702 1835h0M702 1815h0M708 1829h0M717 1838h0M718 1810h0M718 1820h0M718 1810h0M719 1830h0M725 1826h0M755 1810h0M754 1812h0M761 1807h0M765 1831h0M773 1834h0M775 1819h0M782 1803h0"/><path d="M240 1977h0M278 1956h0M287 1951h0M305 1976h0M307 1985h0M310 1974h0M311 1944h0M313 1945h0M318 1980h0M321 1949h0M331 1971h0M335 1933h0M345 1939h0M349 1928h0M360 1957h0M373 1912h0M387 1920h0M392 1919h0M398 1934h0M397 1905h0M402 1916h0M403 1936h0M405 1926h0M408 1936h0M411 1927h0M413 1929h0M413 1902h0M414 1917h0M415 1927h0M427 1917h0M443 1920h0M448 1912h0M451 1909h0M451 1890h0M466 1880h0M479 1879h0M489 1892h0M504 1896h0M513 1884h0M529 1884h0M529 1865h0M529 1868h0M530 1855h0M536 1858h0M539 1855h0M539 1882h0M539 1874h0M548 1850h0M552 1856h0M556 1847h0M558 1852h0M562 1847h0M562 1853h0M571 1869h0M578 1871h0M591 1840h0M594 1849h0M604 1858h0M607 1841h0M610 1863h0M617 1864h0M617 1854h0M624 1834h0M624 1834h0M628 1860h0M637 1856h0M646 1856h0M650 1827h0M653 1852h0M656 1840h0M657 1824h0M667 1823h0M667 1823h0M667 1831h0M669 1852h0M688 1822h0M689 1841h0M695 1830h0M695 1834h0M723 1838h0M730 1814h0M731 1807h0M737 1835h0M742 1833h0M741 1836h0M754 1832h0M755 1824h0M756 1828h0M761 1832h0M764 1828h0M778 1825h0"/><path d="M239 1991h0M261 1970h0M302 1958h0M305 1981h0M306 1947h0M308 1943h0M309 1983h0M310 1947h0M313 1956h0M316 1942h0M332 1945h0M337 1972h0M341 1946h0M349 1952h0M350 1932h0M357 1930h0M357 1955h0M364 1931h0M370 1951h0M371 1938h0M384 1936h0M386 1914h0M391 1930h0M399 1938h0M399 1933h0M400 1909h0M410 1908h0M413 1896h0M421 1895h0M422 1908h0M434 1899h0M440 1897h0M448 1900h0M451 1894h0M472 1905h0M473 1898h0M473 1898h0M479 1887h0M487 1893h0M488 1892h0M489 1898h0M495 1874h0M497 1871h0M502 1892h0M511 1880h0M520 1859h0M525 1857h0M528 1860h0M528 1888h0M531 1887h0M545 1854h0M548 1881h0M552 1857h0M564 1867h0M567 1867h0M567 1860h0M571 1860h0M571 1855h0M572 1849h0M574 1851h0M575 1844h0M578 1850h0M583 1867h0M584 1843h0M592 1862h0M608 1844h0M608 1842h0M611 1842h0M612 1844h0M614 1859h0M623 1839h0M628 1833h0M645 1828h0M647 1836h0M674 1840h0M676 1817h0M686 1816h0M689 1819h0M691 1835h0M694 1822h0M695 1825h0M699 1825h0M703 1843h0M702 1840h0M714 1817h0M713 1822h0M713 1814h0M734 1823h0M736 1817h0M748 1807h0M755 1824h0"/><path d="M241 1991h0M264 1990h0M274 1964h0M284 1986h0M303 1944h0M316 1976h0M322 1953h0M324 1941h0M333 1937h0M339 1939h0M352 1948h0M351 1926h0M360 1948h0M366 1953h0M373 1918h0M374 1920h0M388 1912h0M390 1931h0M398 1906h0M400 1931h0M408 1909h0M407 1924h0M425 1928h0M429 1890h0M438 1895h0M442 1919h0M443 1913h0M445 1885h0M450 1887h0M452 1882h0M466 1897h0M469 1900h0M470 1899h0M489 1879h0M495 1890h0M504 1869h0M505 1868h0M513 1878h0M520 1867h0M523 1885h0M524 1877h0M527 1856h0M530 1871h0M540 1879h0M541 1852h0M548 1872h0M557 1861h0M563 1851h0M569 1845h0M575 1862h0M582 1865h0M583 1856h0M594 1842h0M603 1865h0M605 1840h0M612 1858h0M612 1866h0M613 1839h0M619 1852h0M620 1863h0M624 1835h0M623 1838h0M627 1857h0M629 1836h0M646 1849h0M648 1824h0M656 1844h0M655 1822h0M662 1849h0M665 1825h0M669 1821h0M670 1825h0M677 1824h0M697 1818h0M698 1828h0M701 1824h0M703 1831h0M709 1824h0M728 1838h0M729 1818h0M742 1838h0M744 1831h0M745 1826h0M746 1805h0M751 1811h0M764 1813h0M765 1819h0M773 1831h0M778 1822h0M782 1809h0"/><path d="M251 1989h0M268 1964h0M273 1958h0M278 1956h0M281 1957h0M285 1977h0M291 1989h0M295 1984h0M296 1971h0M303 1945h0M308 1966h0M308 1946h0M312 1940h0M313 1946h0M350 1952h0M358 1941h0M363 1944h0M375 1950h0M383 1946h0M396 1920h0M400 1915h0M404 1930h0M410 1901h0M417 1931h0M420 1926h0M435 1892h0M440 1894h0M442 1908h0M446 1885h0M448 1892h0M452 1883h0M458 1902h0M469 1880h0M472 1879h0M475 1905h0M479 1904h0M490 1891h0M492 1874h0M505 1888h0M512 1887h0M512 1871h0M513 1862h0M514 1860h0M514 1872h0M514 1890h0M514 1883h0M533 1856h0M535 1861h0M541 1858h0M545 1856h0M562 1874h0M575 1866h0M580 1842h0M587 1852h0M588 1870h0M591 1843h0M592 1871h0M602 1859h0M604 1834h0M608 1845h0M616 1848h0M623 1832h0M626 1833h0M627 1828h0M630 1860h0M631 1852h0M637 1854h0M643 1824h0M649 1826h0M655 1842h0M661 1854h0M663 1844h0M664 1845h0M664 1822h0M669 1842h0M674 1831h0M673 1841h0M679 1842h0M681 1816h0M693 1820h0M701 1831h0M706 1835h0M717 1811h0M733 1836h0M742 1812h0M745 1809h0M755 1812h0M758 1809h0M772 1834h0M781 1830h0"/><path d="M244 1991h0M253 1974h0M258 1990h0M267 1975h0M275 1958h0M282 1987h0M294 1948h0M298 1953h0M299 1947h0M302 1944h0M321 1978h0M324 1950h0M329 1965h0M343 1934h0M351 1945h0M356 1928h0M358 1933h0M360 1954h0M363 1958h0M369 1921h0M374 1951h0M391 1912h0M392 1926h0M392 1920h0M416 1909h0M421 1894h0M422 1893h0M423 1908h0M435 1916h0M435 1888h0M447 1897h0M449 1891h0M460 1910h0M477 1880h0M479 1899h0M487 1882h0M491 1869h0M499 1870h0M500 1892h0M506 1895h0M520 1880h0M522 1878h0M524 1859h0M534 1877h0M535 1877h0M535 1854h0M536 1869h0M541 1876h0M543 1870h0M552 1871h0M559 1878h0M560 1855h0M560 1855h0M563 1854h0M570 1875h0M575 1874h0M579 1847h0M584 1839h0M585 1848h0M596 1865h0M629 1830h0M631 1862h0M632 1830h0M644 1825h0M649 1832h0M653 1822h0M654 1850h0M667 1848h0M668 1852h0M675 1850h0M676 1842h0M677 1826h0M677 1848h0M685 1847h0M693 1822h0M697 1840h0M699 1826h0M700 1842h0M703 1813h0M706 1841h0M711 1811h0M729 1832h0M729 1817h0M749 1809h0M753 1835h0M753 1809h0M756 1833h0M776 1828h0M781 1802h0M781 1823h0"/><path d="M240 1978h0M248 1974h0M252 1970h0M263 1978h0M271 1990h0M270 1961h0M276 1959h0M279 1981h0M290 1982h0M296 1948h0M314 1978h0M321 1937h0M321 1976h0M322 1969h0M339 1942h0M341 1948h0M374 1918h0M388 1935h0M422 1896h0M424 1892h0M425 1894h0M434 1889h0M439 1886h0M442 1901h0M452 1893h0M457 1913h0M458 1907h0M463 1886h0M471 1891h0M474 1887h0M475 1876h0M477 1872h0M486 1870h0M491 1870h0M506 1876h0M510 1863h0M515 1866h0M517 1878h0M527 1879h0M528 1857h0M528 1865h0M535 1887h0M534 1883h0M539 1880h0M546 1858h0M551 1871h0M559 1867h0M559 1874h0M575 1875h0M579 1848h0M582 1847h0M596 1870h0M600 1857h0M607 1842h0M607 1863h0M616 1862h0M616 1844h0M626 1852h0M627 1861h0M633 1836h0M654 1825h0M656 1855h0M658 1850h0M661 1821h0M663 1831h0M680 1849h0M696 1816h0M697 1828h0M715 1833h0M732 1839h0M737 1810h0M739 1808h0M739 1829h0M752 1827h0M753 1823h0M756 1836h0M758 1808h0M758 1808h0M761 1808h0M764 1825h0M766 1808h0M766 1821h0M772 1806h0M778 1826h0M781 1809h0"/><path d="M247 1983h0M263 1978h0M263 1986h0M264 1965h0M267 1962h0M268 1992h0M268 1973h0M281 1991h0M296 1980h0M298 1975h0M314 1976h0M321 1971h0M325 1948h0M327 1967h0M332 1973h0M339 1969h0M340 1953h0M356 1933h0M370 1952h0M372 1954h0M371 1939h0M381 1920h0M387 1907h0M399 1933h0M404 1929h0M410 1901h0M412 1915h0M418 1918h0M438 1889h0M439 1888h0M442 1920h0M443 1913h0M446 1909h0M453 1885h0M453 1882h0M468 1900h0M472 1886h0M478 1904h0M484 1876h0M485 1897h0M496 1891h0M495 1897h0M497 1896h0M499 1866h0M502 1868h0M506 1872h0M508 1869h0M510 1869h0M511 1866h0M517 1863h0M520 1881h0M526 1886h0M528 1878h0M530 1886h0M532 1856h0M531 1865h0M533 1886h0M539 1863h0M542 1874h0M547 1854h0M547 1869h0M552 1855h0M553 1875h0M557 1877h0M560 1876h0M581 1852h0M595 1850h0M603 1862h0M604 1843h0M619 1831h0M623 1858h0M625 1859h0M629 1853h0M632 1840h0M639 1830h0M643 1857h0M647 1856h0M647 1840h0M654 1834h0M660 1852h0M665 1850h0M676 1824h0M680 1844h0M684 1845h0M687 1818h0M687 1816h0M692 1814h0M692 1847h0M700 1846h0M706 1831h0M731 1832h0M734 1816h0M742 1812h0M747 1833h0M750 1807h0M750 1818h0M754 1819h0M762 1832h0M762 1809h0M764 1832h0M765 1820h0M772 1806h0M778 1827h0M780 1830h0"/></g>
<path d="M233.3 1991.2L239.5 1989.2L245.6 1987.1L251.8 1984.8L257.9 1982.5L264.1 1980.1L270.2 1977.6L276.4 1975.1L282.6 1972.5L288.7 1969.9L294.9 1967.2L301 1964.5L307.2 1961.7L313.3 1959L319.5 1956.2L325.7 1953.3L331.8 1950.5L338 1947.7L344.1 1944.9L350.3 1942L356.4 1939.2L362.6 1936.4L368.8 1933.6L374.9 1930.8L381.1 1928L387.2 1925.3L393.4 1922.6L399.5 1919.8L405.7 1917.2L411.9 1914.5L418 1911.9L424.2 1909.3L430.3 1906.7L436.5 1904.2L442.6 1901.7L448.8 1899.3L455 1896.9L461.1 1894.5L467.3 1892.1L473.4 1889.8L479.6 1887.5L485.7 1885.3L491.9 1883.1L498.1 1880.9L504.2 1878.8L510.4 1876.7L516.5 1874.6L522.7 1872.6L528.9 1870.6L535 1868.6L541.2 1866.6L547.3 1864.7L553.5 1862.9L559.6 1861L565.8 1859.2L572 1857.5L578.1 1855.7L584.3 1854L590.4 1852.3L596.6 1850.6L602.7 1849L608.9 1847.4L615.1 1845.8L621.2 1844.2L627.4 1842.7L633.5 1841.2L639.7 1839.7L645.8 1838.3L652 1836.8L658.2 1835.4L664.3 1834.1L670.5 1832.7L676.6 1831.4L682.8 1830.1L688.9 1828.9L695.1 1827.7L701.3 1826.5L707.4 1825.3L713.6 1824.2L719.7 1823.2L725.9 1822.1L732 1821.1L738.2 1820.2L744.4 1819.3L750.5 1818.5L756.7 1817.7L762.8 1816.9L769 1816.3L775.1 1815.7L781.3 1815.2" fill="none" stroke="#000" stroke-width="7"/>
<path d="M233.3 1991.2L239.5 1989.2L245.6 1987.1L251.8 1984.8L257.9 1982.5L264.1 1980.1L270.2 1977.6L276.4 1975.1L282.6 1972.5L288.7 1969.9L294.9 1967.2L301 1964.5L307.2 1961.7L313.3 1959L319.5 1956.2L325.7 1953.3L331.8 1950.5L338 1947.7L344.1 1944.9L350.3 1942L356.4 1939.2L362.6 1936.4L368.8 1933.6L374.9 1930.8L381.1 1928L387.2 1925.3L393.4 1922.6L399.5 1919.8L405.7 1917.2L411.9 1914.5L418 1911.9L424.2 1909.3L430.3 1906.7L436.5 1904.2L442.6 1901.7L448.8 1899.3L455 1896.9L461.1 1894.5L467.3 1892.1L473.4 1889.8L479.6 1887.5L485.7 1885.3L491.9 1883.1L498.1 1880.9L504.2 1878.8L510.4 1876.7L516.5 1874.6L522.7 1872.6L528.9 1870.6L535 1868.6L541.2 1866.6L547.3 1864.7L553.5 1862.9L559.6 1861L565.8 1859.2L572 1857.5L578.1 1855.7L584.3 1854L590.4 1852.3L596.6 1850.6L602.7 1849L608.9 1847.4L615.1 1845.8L621.2 1844.2L627.4 1842.7L633.5 1841.2L639.7 1839.7L645.8 1838.3L652 1836.8L658.2 1835.4L664.3 1834.1L670.5 1832.7L676.6 1831.4L682.8 1830.1L688.9 1828.9L695.1 1827.7L701.3 1826.5L707.4 1825.3L713.6 1824.2L719.7 1823.2L725.9 1822.1L732 1821.1L738.2 1820.2L744.4 1819.3L750.5 1818.5L756.7 1817.7L762.8 1816.9L769 1816.3L775.1 1815.7L781.3 1815.2" fill="none" stroke="#fff" stroke-width="2.6"/>
<defs><linearGradient id="g6" gradientUnits="userSpaceOnUse" x1="228.1" y1="0" x2="777.6" y2="0"><stop offset="0%" stop-opacity="1.00"/><stop offset="10%" stop-opacity="1.00"/><stop offset="20%" stop-opacity="1.00"/><stop offset="30%" stop-opacity="1.00"/><stop offset="40%" stop-opacity="1.00"/><stop offset="50%" stop-opacity="1.00"/><stop offset="60%" stop-opacity="0.96"/><stop offset="70%" stop-opacity="0.91"/><stop offset="80%" stop-opacity="0.88"/><stop offset="90%" stop-opacity="0.85"/><stop offset="100%" stop-opacity="0.80"/></linearGradient></defs>
<path d="M228.1 1966.9 232.1 1963.2 236 1959.5 240 1955.7 243.9 1951.8 247.9 1947.9 251.8 1943.9 255.8 1939.9 259.7 1935.8 263.7 1931.9 267.6 1927.9 271.6 1923.9 275.5 1919.9 279.5 1915.8 283.4 1911.7 287.4 1907.5 291.4 1903.3 295.3 1899.1 299.3 1894.8 303.2 1890.5 307.2 1886.2 311.1 1881.9 315.1 1877.5 319 1873.2 323 1868.9 326.9 1864.6 330.9 1860.3 334.8 1856 338.8 1851.6 342.7 1847.2 346.7 1842.8 350.7 1838.4 354.6 1834 358.6 1829.6 362.5 1825.2 366.5 1820.7 370.4 1816.3 374.4 1811.8 378.3 1807.4 382.3 1802.9 386.2 1798.5 390.2 1794 394.1 1789.5 398.1 1785 402 1780.6 406 1776.1 409.9 1771.7 413.9 1767.3 417.9 1763 421.8 1758.7 425.8 1754.3 429.7 1750 433.7 1745.7 437.6 1741.4 441.6 1737.1 445.5 1732.8 449.5 1728.5 453.4 1724.2 457.4 1719.9 461.3 1715.7 465.3 1711.4 469.2 1707.2 473.2 1702.9 477.2 1698.7 481.1 1694.5 485.1 1690.3 489 1686.1 493 1682 496.9 1677.8 500.9 1673.7 504.8 1669.6 508.8 1665.7 512.7 1661.7 516.7 1657.8 520.6 1653.8 524.6 1649.9 528.5 1646 532.5 1642.1 536.5 1638.3 540.4 1634.4 544.4 1630.6 548.3 1626.8 552.3 1623 556.2 1619.2 560.2 1615.5 564.1 1611.8 568.1 1608 572 1604.2 576 1600.4 579.9 1596.7 583.9 1593 587.8 1589.3 591.8 1585.6 595.8 1581.9 599.7 1578.3 603.7 1574.7 607.6 1571.1 611.6 1567.5 615.5 1564 619.5 1560.5 623.4 1557 627.4 1553.5 631.3 1550 635.3 1546.5 639.2 1543 643.2 1539.6 647.1 1536.2 651.1 1532.8 655 1529.4 659 1526.1 663 1522.8 666.9 1519.5 670.9 1516.3 674.8 1513.1 678.8 1509.9 682.7 1506.8 686.7 1503.7 690.6 1500.6 694.6 1497.6 698.5 1494.6 702.5 1491.6 706.4 1488.7 710.4 1485.8 714.3 1483 718.3 1480.2 722.3 1477.4 726.2 1474.7 730.2 1472 734.1 1469.4 738.1 1466.8 742 1464.3 746 1461.8 749.9 1459.4 753.9 1457 757.8 1454.7 761.8 1452.4 765.7 1450.2 769.7 1448 773.6 1445.9 777.6 1443.8L777.6 1450 773.6 1452.2 769.7 1454.4 765.7 1456.7 761.8 1459.1 757.8 1461.5 753.9 1463.9 749.9 1466.5 746 1469 742 1471.6 738.1 1474.3 734.1 1477 730.2 1479.7 726.2 1482.5 722.3 1485.3 718.3 1488.2 714.3 1491.1 710.4 1494 706.4 1497 702.5 1500 698.5 1503 694.6 1506.1 690.6 1509.2 686.7 1512.4 682.7 1515.6 678.8 1518.8 674.8 1522.1 670.9 1525.4 666.9 1528.7 663 1532 659 1535.4 655 1538.8 651.1 1542.3 647.1 1545.7 643.2 1549.2 639.2 1552.8 635.3 1556.3 631.3 1559.9 627.4 1563.5 623.4 1567.2 619.5 1570.9 615.5 1574.7 611.6 1578.5 607.6 1582.3 603.7 1586.2 599.7 1590 595.8 1593.9 591.8 1597.8 587.8 1601.8 583.9 1605.7 579.9 1609.7 576 1613.7 572 1617.7 568.1 1621.8 564.1 1625.8 560.2 1630 556.2 1634.2 552.3 1638.4 548.3 1642.6 544.4 1646.9 540.4 1651.2 536.5 1655.4 532.5 1659.8 528.5 1664.1 524.6 1668.4 520.6 1672.8 516.7 1677.1 512.7 1681.5 508.8 1685.9 504.8 1690.4 500.9 1694.7 496.9 1699 493 1703.4 489 1707.7 485.1 1712.1 481.1 1716.4 477.2 1720.8 473.2 1725.2 469.2 1729.6 465.3 1734 461.3 1738.4 457.4 1742.9 453.4 1747.3 449.5 1751.7 445.5 1756.2 441.6 1760.7 437.6 1765.1 433.7 1769.6 429.7 1774.1 425.8 1778.6 421.8 1783.1 417.9 1787.6 413.9 1792.1 409.9 1796.6 406 1801 402 1805.4 398.1 1809.8 394.1 1814.2 390.2 1818.6 386.2 1823 382.3 1827.4 378.3 1831.7 374.4 1836.1 370.4 1840.5 366.5 1844.8 362.5 1849.2 358.6 1853.5 354.6 1857.9 350.7 1862.2 346.7 1866.5 342.7 1870.8 338.8 1875.1 334.8 1879.4 330.9 1883.6 326.9 1887.9 323 1892.1 319 1896.3 315.1 1900.4 311.1 1904.5 307.2 1908.5 303.2 1912.4 299.3 1916.4 295.3 1920.3 291.4 1924.2 287.4 1928 283.4 1931.8 279.5 1935.6 275.5 1939.3 271.6 1943 267.6 1946.7 263.7 1950.3 259.7 1953.9 255.8 1957.2 251.8 1960.4 247.9 1963.7 243.9 1966.8 240 1969.9 236 1973 232.1 1975.9 228.1 1978.9Z" fill="url(#g6)" filter="url(#blur1)"/>
<g fill="none" stroke="#000" stroke-width="9" stroke-linecap="round" stroke-opacity="0.2" filter="url(#cblur)"><path d="M256 1951h0M336 1863h0M342 1858h0M415 1773h0M418 1769h0M449 1747h0M465 1714h0M474 1711h0M491 1699h0M497 1685h0M504 1680h0M513 1663h0M514 1678h0M530 1662h0M536 1646h0M550 1640h0M561 1619h0M565 1612h0M599 1587h0M612 1575h0M616 1567h0M624 1569h0M651 1543h0M662 1529h0M676 1511h0M681 1518h0M682 1518h0M702 1501h0M706 1498h0M721 1476h0M733 1479h0M735 1468h0M743 1470h0M746 1471h0M758 1456h0M758 1459h0M769 1446h0"/><path d="M263 1943h0M281 1926h0M292 1921h0M387 1807h0M395 1798h0M419 1778h0M448 1733h0M459 1733h0M467 1716h0M476 1707h0M485 1707h0M500 1683h0M508 1674h0M517 1673h0M539 1641h0M544 1633h0M545 1634h0M553 1637h0M555 1634h0M563 1617h0M568 1616h0M576 1599h0M577 1602h0M619 1567h0M625 1559h0M625 1555h0M630 1551h0M635 1545h0M647 1543h0M648 1546h0M653 1532h0M657 1528h0M680 1508h0M686 1503h0M690 1499h0M690 1500h0M695 1507h0M711 1487h0M718 1490h0M722 1483h0M728 1475h0M731 1473h0M731 1477h0M731 1477h0M738 1472h0M739 1472h0M750 1458h0M753 1464h0M771 1454h0"/><path d="M258 1952h0M323 1875h0M329 1878h0M340 1859h0M345 1847h0M354 1839h0M374 1834h0M398 1794h0M434 1760h0M448 1740h0M466 1725h0M468 1726h0M476 1720h0M492 1692h0M517 1670h0M534 1641h0M564 1610h0M571 1606h0M575 1602h0M576 1606h0M580 1608h0M583 1595h0M586 1589h0M588 1590h0M588 1593h0M588 1589h0M605 1579h0M607 1573h0M615 1562h0M625 1557h0M626 1567h0M627 1554h0M631 1556h0M646 1547h0M651 1532h0M652 1543h0M653 1532h0M656 1539h0M659 1537h0M658 1538h0M658 1528h0M660 1527h0M668 1529h0M671 1523h0M671 1527h0M688 1512h0M693 1497h0M699 1505h0M711 1494h0M720 1478h0M724 1484h0M724 1486h0M725 1483h0M729 1473h0M741 1463h0M747 1459h0M775 1453h0M777 1442h0"/><path d="M237 1964h0M284 1920h0M359 1850h0M367 1837h0M369 1833h0M374 1816h0M385 1803h0M468 1722h0M470 1725h0M482 1713h0M496 1681h0M510 1682h0M511 1678h0M513 1664h0M519 1674h0M521 1659h0M528 1657h0M539 1650h0M543 1646h0M556 1635h0M557 1632h0M559 1617h0M560 1619h0M565 1613h0M576 1614h0M582 1593h0M584 1592h0M589 1599h0M592 1587h0M604 1574h0M610 1568h0M620 1573h0M628 1560h0M628 1556h0M633 1560h0M635 1559h0M666 1526h0M672 1519h0M676 1520h0M678 1520h0M680 1514h0M683 1515h0M686 1513h0M686 1502h0M687 1502h0M693 1502h0M712 1494h0M721 1479h0M727 1472h0M733 1470h0M751 1458h0M752 1462h0M757 1453h0M765 1456h0M770 1446h0M772 1446h0M775 1446h0"/><path d="M280 1920h0M311 1898h0M316 1892h0M329 1867h0M367 1841h0M376 1832h0M409 1795h0M422 1762h0M449 1733h0M453 1736h0M472 1721h0M476 1718h0M482 1696h0M496 1698h0M515 1678h0M523 1665h0M530 1660h0M533 1659h0M535 1642h0M543 1645h0M559 1627h0M586 1605h0M594 1591h0M596 1590h0M606 1583h0M608 1573h0M608 1578h0M607 1583h0M609 1576h0M612 1580h0M620 1570h0M623 1559h0M623 1561h0M624 1568h0M628 1561h0M634 1558h0M640 1546h0M641 1551h0M654 1528h0M659 1533h0M666 1530h0M669 1519h0M677 1513h0M683 1516h0M684 1515h0M685 1508h0M688 1500h0M689 1509h0M692 1503h0M696 1507h0M706 1488h0M706 1498h0M712 1483h0M731 1475h0M734 1468h0M736 1472h0M736 1466h0M737 1469h0M739 1466h0M742 1470h0M745 1468h0M748 1466h0M757 1459h0M775 1448h0"/><path d="M275 1928h0M320 1889h0M327 1870h0M345 1851h0M371 1837h0M413 1771h0M447 1748h0M462 1734h0M464 1727h0M484 1711h0M484 1709h0M493 1700h0M509 1682h0M520 1663h0M528 1655h0M533 1641h0M536 1650h0M562 1619h0M567 1624h0M571 1606h0M585 1604h0M586 1599h0M587 1588h0M593 1593h0M594 1585h0M600 1589h0M613 1572h0M615 1564h0M619 1564h0M619 1567h0M625 1555h0M641 1552h0M650 1545h0M653 1532h0M656 1526h0M673 1513h0M682 1509h0M696 1506h0M699 1505h0M709 1485h0M715 1480h0M717 1484h0M720 1477h0M725 1477h0M727 1482h0M733 1478h0M736 1478h0M745 1472h0M759 1462h0M762 1461h0M761 1454h0M767 1451h0M776 1447h0"/><path d="M255 1954h0M310 1886h0M358 1834h0M371 1828h0M409 1781h0M418 1766h0M434 1764h0M436 1764h0M450 1732h0M451 1737h0M482 1698h0M504 1686h0M505 1674h0M507 1682h0M518 1657h0M523 1653h0M523 1669h0M530 1657h0M547 1632h0M551 1629h0M558 1632h0M558 1633h0M583 1597h0M585 1591h0M590 1599h0M593 1596h0M596 1585h0M595 1581h0M599 1592h0M602 1577h0M603 1586h0M611 1570h0M619 1559h0M627 1555h0M629 1563h0M639 1554h0M640 1554h0M642 1546h0M650 1539h0M651 1530h0M654 1542h0M659 1526h0M660 1527h0M662 1527h0M670 1525h0M676 1511h0M679 1509h0M683 1507h0M700 1491h0M717 1491h0M722 1476h0M726 1485h0M729 1482h0M729 1473h0M729 1480h0M733 1474h0M750 1468h0M752 1463h0M755 1466h0M755 1462h0M756 1455h0M756 1460h0M759 1461h0M761 1461h0M768 1455h0M776 1448h0M777 1446h0M776 1451h0"/><path d="M255 1954h0M255 1956h0M350 1843h0M368 1840h0M372 1820h0M397 1801h0M418 1771h0M445 1736h0M446 1752h0M455 1733h0M480 1706h0M489 1699h0M506 1685h0M506 1671h0M507 1676h0M523 1653h0M527 1653h0M540 1650h0M547 1630h0M570 1619h0M571 1617h0M578 1609h0M582 1607h0M587 1592h0M601 1578h0M609 1573h0M613 1577h0M615 1565h0M627 1559h0M628 1565h0M632 1552h0M633 1547h0M641 1540h0M644 1539h0M650 1535h0M658 1535h0M659 1538h0M661 1532h0M664 1530h0M668 1529h0M670 1524h0M680 1511h0M690 1501h0M706 1488h0M713 1486h0M724 1474h0M728 1483h0M729 1482h0M735 1477h0M738 1469h0M745 1470h0M746 1467h0M766 1451h0M775 1452h0"/></g>
<path d="M228.1 1972.9L234.3 1967.7L240.4 1962.4L246.6 1956.9L252.8 1951.3L259 1945.5L265.1 1939.7L271.3 1933.7L277.5 1927.7L283.7 1921.5L289.8 1915.3L296 1908.9L302.2 1902.5L308.4 1896.1L314.5 1889.5L320.7 1882.9L326.9 1876.3L333.1 1869.6L339.2 1862.9L345.4 1856.1L351.6 1849.3L357.8 1842.5L363.9 1835.6L370.1 1828.7L376.3 1821.8L382.5 1814.9L388.6 1808L394.8 1801.1L401 1794.2L407.2 1787.3L413.3 1780.4L419.5 1773.5L425.7 1766.6L431.8 1759.7L438 1752.8L444.2 1746L450.4 1739.1L456.5 1732.3L462.7 1725.5L468.9 1718.8L475.1 1712L481.2 1705.3L487.4 1698.6L493.6 1692L499.8 1685.4L505.9 1678.8L512.1 1672.3L518.3 1665.8L524.5 1659.3L530.6 1652.9L536.8 1646.5L543 1640.2L549.2 1633.9L555.3 1627.6L561.5 1621.4L567.7 1615.3L573.9 1609.2L580 1603.1L586.2 1597.1L592.4 1591.1L598.5 1585.3L604.7 1579.4L610.9 1573.6L617.1 1567.9L623.2 1562.3L629.4 1556.7L635.6 1551.1L641.8 1545.7L647.9 1540.3L654.1 1534.9L660.3 1529.7L666.5 1524.5L672.6 1519.4L678.8 1514.3L685 1509.4L691.2 1504.5L697.3 1499.7L703.5 1495L709.7 1490.4L715.9 1485.9L722 1481.5L728.2 1477.2L734.4 1473L740.6 1468.9L746.7 1464.9L752.9 1461.1L759.1 1457.3L765.3 1453.7L771.4 1450.2L777.6 1446.9" fill="none" stroke="#000" stroke-width="7"/>
<path d="M228.1 1972.9L234.3 1967.7L240.4 1962.4L246.6 1956.9L252.8 1951.3L259 1945.5L265.1 1939.7L271.3 1933.7L277.5 1927.7L283.7 1921.5L289.8 1915.3L296 1908.9L302.2 1902.5L308.4 1896.1L314.5 1889.5L320.7 1882.9L326.9 1876.3L333.1 1869.6L339.2 1862.9L345.4 1856.1L351.6 1849.3L357.8 1842.5L363.9 1835.6L370.1 1828.7L376.3 1821.8L382.5 1814.9L388.6 1808L394.8 1801.1L401 1794.2L407.2 1787.3L413.3 1780.4L419.5 1773.5L425.7 1766.6L431.8 1759.7L438 1752.8L444.2 1746L450.4 1739.1L456.5 1732.3L462.7 1725.5L468.9 1718.8L475.1 1712L481.2 1705.3L487.4 1698.6L493.6 1692L499.8 1685.4L505.9 1678.8L512.1 1672.3L518.3 1665.8L524.5 1659.3L530.6 1652.9L536.8 1646.5L543 1640.2L549.2 1633.9L555.3 1627.6L561.5 1621.4L567.7 1615.3L573.9 1609.2L580 1603.1L586.2 1597.1L592.4 1591.1L598.5 1585.3L604.7 1579.4L610.9 1573.6L617.1 1567.9L623.2 1562.3L629.4 1556.7L635.6 1551.1L641.8 1545.7L647.9 1540.3L654.1 1534.9L660.3 1529.7L666.5 1524.5L672.6 1519.4L678.8 1514.3L685 1509.4L691.2 1504.5L697.3 1499.7L703.5 1495L709.7 1490.4L715.9 1485.9L722 1481.5L728.2 1477.2L734.4 1473L740.6 1468.9L746.7 1464.9L752.9 1461.1L759.1 1457.3L765.3 1453.7L771.4 1450.2L777.6 1446.9" fill="none" stroke="#fff" stroke-width="2.6"/>
<g stroke="#000" stroke-width="2.3" fill="none" stroke-linecap="round">
<path d="M159.7 1409.7V1994.2"/>
<path d="M159.7 1994.2H788.2"/>
<path d="M147.9 1994.2H159.7"/>
<path d="M147.9 1893.4H159.7"/>
<path d="M147.9 1792.6H159.7"/>
<path d="M147.9 1691.8H159.7"/>
<path d="M147.9 1591H159.7"/>
<path d="M147.9 1490.2H159.7"/>
<path d="M159.7 1994.2V2005.7"/>
<path d="M315.4 1994.2V2005.7"/>
<path d="M471.2 1994.2V2005.7"/>
<path d="M627 1994.2V2005.7"/>
<path d="M782.7 1994.2V2005.7"/>
</g>
<g font-family="'Liberation Sans', Arial, Helvetica, sans-serif" font-size="29" fill="#000">
<text x="136.2" y="2004.5" text-anchor="end">0</text>
<text x="136.2" y="1903.7" text-anchor="end">1,000</text>
<text x="136.2" y="1802.9" text-anchor="end">2,000</text>
<text x="136.2" y="1702.1" text-anchor="end">3,000</text>
<text x="136.2" y="1601.3" text-anchor="end">4,000</text>
<text x="136.2" y="1500.5" text-anchor="end">5,000</text>
<text transform="translate(45.6 1701.7) rotate(-90)" text-anchor="middle" font-size="29.3">Social cost of methane ($/t−CH<tspan font-size="14">4</tspan>)</text>
<text x="159.7" y="2036.7" text-anchor="middle">0</text>
<text x="315.4" y="2036.7" text-anchor="middle">2.5</text>
<text x="471.2" y="2036.7" text-anchor="middle">5</text>
<text x="627" y="2036.7" text-anchor="middle">7.5</text>
<text x="782.7" y="2036.7" text-anchor="middle">10</text>
<text x="474.5" y="2074.5" text-anchor="middle" font-size="29.3">Equilibrium climate sensitvity (°C)</text>
</g>
<g font-family="'Liberation Sans', Arial, Helvetica, sans-serif" font-size="29" fill="#505050">
<text x="187" y="1450.2" font-style="italic">S−Hector</text>
<text x="718" y="1543.2" font-size="30">DICE</text>
<text x="646" y="1903.4" font-size="30">FUND</text>
</g>
<defs><linearGradient id="g7" gradientUnits="userSpaceOnUse" x1="943.1" y1="0" x2="1492.4" y2="0"><stop offset="0%" stop-opacity="1.00"/><stop offset="10%" stop-opacity="1.00"/><stop offset="20%" stop-opacity="1.00"/><stop offset="30%" stop-opacity="1.00"/><stop offset="40%" stop-opacity="0.96"/><stop offset="50%" stop-opacity="0.87"/><stop offset="60%" stop-opacity="0.66"/><stop offset="70%" stop-opacity="0.48"/><stop offset="80%" stop-opacity="0.36"/><stop offset="90%" stop-opacity="0.29"/><stop offset="100%" stop-opacity="0.25"/></linearGradient></defs>
<path d="M943.1 1979.3 947.1 1977.1 951 1975 955 1972.8 958.9 1970.6 962.9 1968.4 966.8 1966.1 970.8 1963.9 974.7 1961.6 978.7 1959.4 982.6 1957.1 986.6 1955.1 990.5 1953.2 994.5 1951.3 998.4 1949.4 1002.4 1947.4 1006.3 1945.5 1010.3 1943.6 1014.2 1941.6 1018.2 1939.7 1022.1 1937.7 1026.1 1935.8 1030 1934.1 1034 1932.5 1037.9 1931 1041.9 1929.4 1045.8 1927.8 1049.8 1926.2 1053.8 1924.6 1057.7 1923 1061.7 1921.5 1065.6 1919.9 1069.6 1918.4 1073.5 1916.8 1077.5 1915.3 1081.4 1913.9 1085.4 1912.6 1089.3 1911.3 1093.3 1909.9 1097.2 1908.6 1101.2 1907.3 1105.1 1906 1109.1 1904.7 1113 1903.4 1117 1902.2 1120.9 1900.9 1124.9 1899.7 1128.8 1898.4 1132.8 1897.2 1136.7 1896 1140.7 1894.8 1144.6 1893.6 1148.6 1892.4 1152.5 1891.2 1156.5 1890 1160.4 1888.9 1164.4 1887.8 1168.4 1886.6 1172.3 1885.5 1176.3 1884.4 1180.2 1883.2 1184.2 1882 1188.1 1880.8 1192.1 1879.6 1196 1878.4 1200 1877.2 1203.9 1876.1 1207.9 1874.9 1211.8 1873.8 1215.8 1872.7 1219.7 1871.6 1223.7 1870.5 1227.6 1869.4 1231.6 1868.4 1235.5 1867.3 1239.5 1866.3 1243.4 1865.2 1247.4 1864.2 1251.3 1863.2 1255.3 1862.2 1259.2 1861.2 1263.2 1860.2 1267.1 1859.3 1271.1 1858.3 1275.1 1857.4 1279 1856.3 1283 1855.3 1286.9 1854.3 1290.9 1853.3 1294.8 1852.4 1298.8 1851.4 1302.7 1850.4 1306.7 1849.5 1310.6 1848.6 1314.6 1847.6 1318.5 1846.7 1322.5 1845.8 1326.4 1844.9 1330.4 1844.1 1334.3 1843.2 1338.3 1842.3 1342.2 1841.5 1346.2 1840.7 1350.1 1839.8 1354.1 1839 1358 1838.2 1362 1837.4 1365.9 1836.6 1369.9 1835.9 1373.8 1835.1 1377.8 1834.4 1381.7 1833.6 1385.7 1832.9 1389.7 1832.2 1393.6 1831.5 1397.6 1830.8 1401.5 1830.2 1405.5 1829.5 1409.4 1828.9 1413.4 1828.2 1417.3 1827.6 1421.3 1827 1425.2 1826.4 1429.2 1825.9 1433.1 1825.3 1437.1 1824.8 1441 1824.3 1445 1823.8 1448.9 1823.3 1452.9 1822.8 1456.8 1822.4 1460.8 1821.9 1464.7 1821.5 1468.7 1821.1 1472.6 1820.7 1476.6 1820.4 1480.5 1820 1484.5 1819.7 1488.4 1819.4 1492.4 1819.1L1492.4 1834.2 1488.4 1834.5 1484.5 1834.9 1480.5 1835.4 1476.6 1835.8 1472.6 1836.3 1468.7 1836.7 1464.7 1837.2 1460.8 1837.8 1456.8 1838.3 1452.9 1838.9 1448.9 1839.4 1445 1840 1441 1840.6 1437.1 1841.2 1433.1 1841.9 1429.2 1842.5 1425.2 1843.2 1421.3 1843.9 1417.3 1844.6 1413.4 1845.3 1409.4 1846 1405.5 1846.8 1401.5 1847.5 1397.6 1848.3 1393.6 1849.1 1389.7 1849.9 1385.7 1850.7 1381.7 1851.5 1377.8 1852.3 1373.8 1853.2 1369.9 1854 1365.9 1854.9 1362 1855.8 1358 1856.7 1354.1 1857.6 1350.1 1858.5 1346.2 1859.4 1342.2 1860.4 1338.3 1861.3 1334.3 1862.3 1330.4 1863.3 1326.4 1864.3 1322.5 1865.3 1318.5 1866.3 1314.6 1867.4 1310.6 1868.4 1306.7 1869.5 1302.7 1870.6 1298.8 1871.7 1294.8 1872.7 1290.9 1873.9 1286.9 1875 1283 1876.1 1279 1877.2 1275.1 1878.4 1271.1 1879.7 1267.1 1880.9 1263.2 1882.2 1259.2 1883.5 1255.3 1884.8 1251.3 1886.1 1247.4 1887.5 1243.4 1888.8 1239.5 1890.2 1235.5 1891.5 1231.6 1892.9 1227.6 1894.3 1223.7 1895.7 1219.7 1897.1 1215.8 1898.5 1211.8 1900 1207.9 1901.4 1203.9 1902.9 1200 1904.3 1196 1905.8 1192.1 1907.3 1188.1 1908.8 1184.2 1910.3 1180.2 1911.8 1176.3 1913.4 1172.3 1915.1 1168.4 1916.7 1164.4 1918.4 1160.4 1920.1 1156.5 1921.9 1152.5 1923.6 1148.6 1925.3 1144.6 1927.1 1140.7 1928.8 1136.7 1930.6 1132.8 1932.4 1128.8 1934.2 1124.9 1936 1120.9 1937.8 1117 1939.7 1113 1941.6 1109.1 1943.5 1105.1 1945.4 1101.2 1947.4 1097.2 1949.3 1093.3 1951.3 1089.3 1953.2 1085.4 1955.2 1081.4 1957.2 1077.5 1959.2 1073.5 1961 1069.6 1962.8 1065.6 1964.6 1061.7 1966.4 1057.7 1968.2 1053.8 1970 1049.8 1971.8 1045.8 1973.6 1041.9 1975.5 1037.9 1977.3 1034 1979.1 1030 1980.9 1026.1 1982.7 1022.1 1984.1 1018.2 1985.5 1014.2 1986.9 1010.3 1988.3 1006.3 1989.7 1002.4 1991.1 998.4 1992.5 994.5 1993.8 990.5 1994.4 986.6 1994.4 982.6 1994.4 978.7 1994.4 974.7 1994.4 970.8 1994.4 966.8 1994.4 962.9 1994.4 958.9 1994.4 955 1994.4 951 1994.4 947.1 1994.4 943.1 1994.4Z" fill="url(#g7)" filter="url(#blur2)"/>
<g fill="none" stroke="#000" stroke-width="14" stroke-linecap="round" stroke-opacity="0.17" filter="url(#cblur)"><path d="M979 1966h0M1078 1919h0M1081 1924h0M1084 1956h0M1088 1920h0M1094 1943h0M1096 1948h0M1102 1945h0M1116 1918h0M1118 1935h0M1122 1901h0M1123 1925h0M1123 1930h0M1125 1900h0M1136 1909h0M1137 1906h0M1138 1912h0M1141 1908h0M1142 1906h0M1144 1919h0M1145 1926h0M1146 1910h0M1150 1925h0M1150 1899h0M1151 1914h0M1166 1914h0M1175 1886h0M1176 1913h0M1177 1914h0M1179 1886h0M1183 1888h0M1190 1886h0M1214 1893h0M1222 1869h0M1231 1894h0M1236 1874h0M1242 1863h0M1244 1889h0M1243 1874h0M1247 1867h0M1249 1861h0M1253 1861h0M1253 1883h0M1259 1859h0M1265 1884h0M1272 1871h0M1280 1859h0M1282 1871h0M1283 1877h0M1293 1861h0M1294 1855h0M1294 1868h0M1296 1850h0M1302 1859h0M1309 1874h0M1314 1861h0M1323 1843h0M1324 1873h0M1342 1838h0M1345 1836h0M1346 1867h0M1346 1869h0M1353 1838h0M1354 1860h0M1375 1856h0M1389 1854h0M1395 1837h0M1408 1842h0M1420 1851h0M1424 1827h0M1427 1831h0M1429 1847h0M1432 1848h0M1443 1839h0M1450 1834h0M1455 1836h0M1471 1844h0M1472 1817h0M1474 1842h0M1480 1835h0M1485 1844h0M1488 1840h0"/><path d="M960 1981h0M1001 1949h0M1023 1977h0M1033 1942h0M1042 1945h0M1044 1955h0M1063 1965h0M1076 1943h0M1078 1926h0M1080 1917h0M1080 1953h0M1086 1945h0M1091 1937h0M1095 1951h0M1100 1934h0M1102 1935h0M1109 1936h0M1117 1911h0M1119 1930h0M1138 1924h0M1144 1926h0M1151 1918h0M1159 1917h0M1167 1918h0M1170 1917h0M1180 1884h0M1181 1905h0M1199 1875h0M1201 1875h0M1201 1881h0M1203 1903h0M1216 1878h0M1216 1875h0M1218 1880h0M1219 1871h0M1223 1876h0M1230 1865h0M1235 1895h0M1236 1875h0M1250 1861h0M1250 1866h0M1256 1873h0M1259 1870h0M1264 1855h0M1266 1857h0M1268 1887h0M1275 1857h0M1278 1884h0M1284 1874h0M1284 1855h0M1285 1857h0M1291 1866h0M1299 1871h0M1299 1877h0M1305 1853h0M1313 1851h0M1316 1842h0M1336 1864h0M1349 1866h0M1350 1837h0M1352 1859h0M1351 1838h0M1355 1853h0M1359 1842h0M1361 1845h0M1383 1828h0M1383 1832h0M1386 1858h0M1390 1828h0M1392 1830h0M1397 1826h0M1398 1832h0M1398 1853h0M1414 1828h0M1425 1845h0M1427 1851h0M1431 1852h0M1439 1834h0M1452 1844h0M1461 1818h0M1466 1830h0M1470 1846h0M1484 1818h0"/><path d="M968 1968h0M971 1987h0M989 1962h0M990 1976h0M1001 1978h0M1003 1965h0M1005 1985h0M1015 1982h0M1023 1939h0M1027 1975h0M1029 1939h0M1036 1967h0M1048 1971h0M1052 1934h0M1075 1956h0M1088 1914h0M1095 1920h0M1101 1943h0M1107 1933h0M1113 1908h0M1113 1908h0M1114 1919h0M1116 1909h0M1120 1905h0M1128 1931h0M1158 1913h0M1162 1922h0M1162 1916h0M1166 1906h0M1173 1889h0M1175 1914h0M1188 1878h0M1205 1897h0M1205 1881h0M1209 1893h0M1211 1901h0M1223 1899h0M1232 1866h0M1244 1894h0M1244 1868h0M1287 1872h0M1307 1852h0M1321 1843h0M1324 1859h0M1334 1872h0M1340 1870h0M1341 1843h0M1349 1845h0M1353 1863h0M1358 1852h0M1359 1836h0M1362 1838h0M1363 1839h0M1364 1833h0M1377 1862h0M1377 1854h0M1390 1832h0M1393 1852h0M1395 1854h0M1428 1847h0M1434 1850h0M1436 1827h0M1437 1849h0M1441 1826h0M1447 1827h0M1459 1843h0M1484 1814h0"/><path d="M945 1984h0M958 1976h0M962 1975h0M995 1960h0M1000 1973h0M1003 1957h0M1020 1984h0M1029 1945h0M1033 1957h0M1038 1970h0M1044 1959h0M1047 1961h0M1051 1953h0M1051 1968h0M1052 1948h0M1056 1950h0M1059 1954h0M1061 1947h0M1063 1931h0M1063 1965h0M1075 1921h0M1086 1941h0M1100 1923h0M1105 1908h0M1111 1925h0M1118 1934h0M1118 1915h0M1141 1915h0M1148 1920h0M1157 1888h0M1165 1894h0M1168 1907h0M1170 1889h0M1173 1904h0M1182 1914h0M1184 1913h0M1187 1898h0M1192 1889h0M1193 1883h0M1202 1878h0M1203 1898h0M1207 1897h0M1223 1899h0M1237 1867h0M1236 1874h0M1239 1865h0M1241 1870h0M1245 1885h0M1258 1875h0M1262 1864h0M1273 1874h0M1273 1857h0M1272 1872h0M1275 1860h0M1276 1856h0M1278 1863h0M1291 1851h0M1313 1864h0M1322 1846h0M1324 1859h0M1327 1862h0M1336 1842h0M1336 1860h0M1337 1864h0M1350 1842h0M1350 1844h0M1353 1834h0M1354 1837h0M1361 1833h0M1370 1850h0M1384 1859h0M1385 1855h0M1389 1845h0M1390 1851h0M1402 1851h0M1421 1840h0M1426 1839h0M1428 1851h0M1429 1819h0M1453 1823h0M1475 1819h0M1482 1833h0"/><path d="M964 1974h0M983 1958h0M988 1982h0M991 1959h0M1016 1955h0M1032 1936h0M1040 1944h0M1042 1945h0M1043 1971h0M1052 1958h0M1053 1959h0M1053 1937h0M1066 1929h0M1078 1930h0M1080 1917h0M1091 1946h0M1092 1952h0M1095 1948h0M1098 1916h0M1106 1921h0M1111 1917h0M1111 1941h0M1119 1906h0M1124 1907h0M1125 1910h0M1126 1930h0M1128 1911h0M1144 1927h0M1151 1920h0M1160 1894h0M1161 1914h0M1161 1921h0M1165 1913h0M1169 1909h0M1170 1885h0M1174 1894h0M1178 1913h0M1186 1879h0M1214 1877h0M1217 1879h0M1217 1898h0M1233 1896h0M1236 1890h0M1239 1864h0M1245 1883h0M1245 1870h0M1246 1892h0M1248 1861h0M1254 1862h0M1256 1877h0M1256 1870h0M1257 1860h0M1263 1887h0M1267 1873h0M1278 1852h0M1282 1857h0M1285 1852h0M1288 1850h0M1294 1849h0M1297 1854h0M1311 1866h0M1318 1860h0M1329 1849h0M1332 1841h0M1338 1869h0M1343 1841h0M1347 1864h0M1353 1867h0M1369 1836h0M1370 1831h0M1376 1839h0M1380 1849h0M1382 1857h0M1390 1852h0M1394 1827h0M1402 1829h0M1408 1825h0M1410 1856h0M1410 1823h0M1414 1842h0M1414 1853h0M1416 1830h0M1420 1848h0M1422 1840h0M1422 1822h0M1433 1851h0M1436 1826h0M1440 1847h0M1441 1847h0M1442 1846h0M1451 1835h0M1461 1823h0M1468 1821h0M1487 1819h0"/><path d="M991 1962h0M995 1976h0M996 1990h0M999 1954h0M999 1980h0M1002 1966h0M1003 1987h0M1004 1983h0M1011 1956h0M1018 1974h0M1022 1946h0M1040 1973h0M1043 1945h0M1051 1935h0M1054 1932h0M1058 1934h0M1063 1932h0M1066 1964h0M1072 1925h0M1077 1931h0M1086 1949h0M1100 1909h0M1107 1921h0M1110 1913h0M1118 1939h0M1127 1909h0M1134 1925h0M1137 1896h0M1144 1893h0M1152 1910h0M1154 1893h0M1160 1916h0M1161 1891h0M1160 1887h0M1176 1904h0M1177 1913h0M1181 1891h0M1196 1898h0M1215 1882h0M1225 1892h0M1229 1885h0M1232 1895h0M1234 1895h0M1236 1875h0M1260 1857h0M1260 1878h0M1268 1858h0M1273 1868h0M1278 1878h0M1280 1860h0M1287 1871h0M1291 1874h0M1294 1854h0M1298 1852h0M1318 1846h0M1319 1853h0M1320 1851h0M1327 1869h0M1330 1866h0M1334 1862h0M1341 1844h0M1343 1855h0M1343 1836h0M1350 1866h0M1352 1844h0M1355 1859h0M1356 1863h0M1360 1857h0M1364 1835h0M1366 1861h0M1370 1831h0M1372 1856h0M1391 1848h0M1405 1830h0M1406 1827h0M1412 1829h0M1414 1841h0M1418 1852h0M1424 1824h0M1429 1826h0M1431 1847h0M1432 1823h0M1440 1839h0M1445 1843h0M1457 1816h0M1461 1847h0M1462 1843h0M1465 1839h0M1470 1829h0M1472 1835h0M1478 1820h0"/><path d="M974 1983h0M983 1965h0M984 1961h0M986 1970h0M991 1984h0M995 1983h0M999 1987h0M1016 1959h0M1018 1973h0M1024 1952h0M1026 1955h0M1034 1936h0M1039 1968h0M1059 1927h0M1069 1947h0M1076 1930h0M1078 1923h0M1079 1917h0M1087 1924h0M1107 1920h0M1113 1918h0M1120 1911h0M1120 1936h0M1134 1905h0M1136 1911h0M1136 1920h0M1140 1904h0M1146 1900h0M1154 1896h0M1156 1914h0M1160 1887h0M1166 1920h0M1168 1908h0M1177 1887h0M1180 1889h0M1181 1888h0M1196 1877h0M1197 1894h0M1202 1900h0M1209 1889h0M1221 1891h0M1223 1898h0M1230 1866h0M1236 1889h0M1240 1874h0M1244 1886h0M1253 1858h0M1254 1886h0M1256 1861h0M1258 1890h0M1267 1864h0M1270 1865h0M1273 1853h0M1274 1867h0M1286 1883h0M1286 1858h0M1300 1855h0M1311 1871h0M1312 1864h0M1314 1851h0M1319 1868h0M1322 1842h0M1327 1871h0M1328 1862h0M1344 1847h0M1345 1864h0M1350 1853h0M1351 1846h0M1368 1856h0M1399 1850h0M1402 1823h0M1406 1824h0M1412 1851h0M1416 1826h0M1420 1829h0M1430 1825h0M1431 1841h0M1437 1821h0M1443 1841h0M1448 1819h0M1448 1818h0M1448 1820h0M1449 1841h0M1476 1814h0M1478 1828h0M1478 1814h0"/><path d="M952 1979h0M962 1977h0M967 1981h0M979 1972h0M1012 1955h0M1020 1969h0M1021 1972h0M1028 1942h0M1037 1950h0M1040 1936h0M1049 1952h0M1066 1926h0M1067 1961h0M1069 1958h0M1084 1955h0M1088 1921h0M1093 1945h0M1095 1927h0M1110 1943h0M1115 1911h0M1115 1908h0M1125 1911h0M1125 1917h0M1126 1911h0M1129 1930h0M1132 1903h0M1137 1907h0M1141 1928h0M1147 1917h0M1150 1915h0M1149 1901h0M1155 1906h0M1169 1889h0M1170 1899h0M1172 1892h0M1184 1889h0M1187 1909h0M1188 1890h0M1198 1889h0M1210 1872h0M1216 1880h0M1219 1872h0M1219 1896h0M1220 1872h0M1226 1884h0M1229 1865h0M1229 1897h0M1229 1876h0M1231 1882h0M1232 1890h0M1272 1885h0M1273 1886h0M1280 1882h0M1280 1857h0M1282 1881h0M1283 1856h0M1292 1856h0M1299 1849h0M1309 1847h0M1317 1852h0M1333 1846h0M1338 1838h0M1345 1869h0M1346 1849h0M1347 1842h0M1350 1837h0M1352 1861h0M1352 1860h0M1354 1847h0M1361 1844h0M1360 1861h0M1371 1847h0M1373 1833h0M1382 1843h0M1386 1827h0M1389 1835h0M1397 1856h0M1397 1833h0M1398 1843h0M1410 1831h0M1410 1826h0M1418 1834h0M1432 1843h0M1433 1827h0M1433 1819h0M1445 1843h0M1459 1840h0M1459 1818h0M1464 1822h0M1471 1819h0M1471 1825h0M1474 1823h0M1484 1813h0M1486 1843h0M1490 1842h0M1490 1828h0"/></g>
<path d="M943.1 1991.8L949.3 1989.4L955.4 1987L961.6 1984.6L967.8 1982.1L974 1979.6L980.1 1977L986.3 1974.5L992.5 1971.9L998.6 1969.3L1004.8 1966.7L1011 1964.1L1017.2 1961.5L1023.3 1958.9L1029.5 1956.3L1035.7 1953.7L1041.9 1951.1L1048 1948.5L1054.2 1945.9L1060.4 1943.3L1066.5 1940.8L1072.7 1938.2L1078.9 1935.7L1085.1 1933.1L1091.2 1930.6L1097.4 1928.1L1103.6 1925.7L1109.7 1923.2L1115.9 1920.8L1122.1 1918.4L1128.3 1916L1134.4 1913.7L1140.6 1911.3L1146.8 1909L1152.9 1906.8L1159.1 1904.5L1165.3 1902.3L1171.5 1900.1L1177.6 1897.9L1183.8 1895.8L1190 1893.6L1196.1 1891.6L1202.3 1889.5L1208.5 1887.5L1214.7 1885.5L1220.8 1883.5L1227 1881.6L1233.2 1879.6L1239.4 1877.7L1245.5 1875.9L1251.7 1874.1L1257.9 1872.3L1264 1870.5L1270.2 1868.7L1276.4 1867L1282.6 1865.3L1288.7 1863.7L1294.9 1862L1301.1 1860.4L1307.2 1858.8L1313.4 1857.3L1319.6 1855.8L1325.8 1854.3L1331.9 1852.8L1338.1 1851.4L1344.3 1850L1350.4 1848.6L1356.6 1847.2L1362.8 1845.9L1369 1844.6L1375.1 1843.4L1381.3 1842.1L1387.5 1840.9L1393.6 1839.8L1399.8 1838.6L1406 1837.5L1412.2 1836.5L1418.3 1835.4L1424.5 1834.4L1430.7 1833.5L1436.9 1832.5L1443 1831.7L1449.2 1830.8L1455.4 1830L1461.5 1829.2L1467.7 1828.5L1473.9 1827.9L1480.1 1827.2L1486.2 1826.7L1492.4 1826.1" fill="none" stroke="#000" stroke-width="7"/>
<path d="M943.1 1991.8L949.3 1989.4L955.4 1987L961.6 1984.6L967.8 1982.1L974 1979.6L980.1 1977L986.3 1974.5L992.5 1971.9L998.6 1969.3L1004.8 1966.7L1011 1964.1L1017.2 1961.5L1023.3 1958.9L1029.5 1956.3L1035.7 1953.7L1041.9 1951.1L1048 1948.5L1054.2 1945.9L1060.4 1943.3L1066.5 1940.8L1072.7 1938.2L1078.9 1935.7L1085.1 1933.1L1091.2 1930.6L1097.4 1928.1L1103.6 1925.7L1109.7 1923.2L1115.9 1920.8L1122.1 1918.4L1128.3 1916L1134.4 1913.7L1140.6 1911.3L1146.8 1909L1152.9 1906.8L1159.1 1904.5L1165.3 1902.3L1171.5 1900.1L1177.6 1897.9L1183.8 1895.8L1190 1893.6L1196.1 1891.6L1202.3 1889.5L1208.5 1887.5L1214.7 1885.5L1220.8 1883.5L1227 1881.6L1233.2 1879.6L1239.4 1877.7L1245.5 1875.9L1251.7 1874.1L1257.9 1872.3L1264 1870.5L1270.2 1868.7L1276.4 1867L1282.6 1865.3L1288.7 1863.7L1294.9 1862L1301.1 1860.4L1307.2 1858.8L1313.4 1857.3L1319.6 1855.8L1325.8 1854.3L1331.9 1852.8L1338.1 1851.4L1344.3 1850L1350.4 1848.6L1356.6 1847.2L1362.8 1845.9L1369 1844.6L1375.1 1843.4L1381.3 1842.1L1387.5 1840.9L1393.6 1839.8L1399.8 1838.6L1406 1837.5L1412.2 1836.5L1418.3 1835.4L1424.5 1834.4L1430.7 1833.5L1436.9 1832.5L1443 1831.7L1449.2 1830.8L1455.4 1830L1461.5 1829.2L1467.7 1828.5L1473.9 1827.9L1480.1 1827.2L1486.2 1826.7L1492.4 1826.1" fill="none" stroke="#fff" stroke-width="2.6"/>
<defs><linearGradient id="g8" gradientUnits="userSpaceOnUse" x1="948.3" y1="0" x2="1492.4" y2="0"><stop offset="0%" stop-opacity="1.00"/><stop offset="10%" stop-opacity="1.00"/><stop offset="20%" stop-opacity="1.00"/><stop offset="30%" stop-opacity="1.00"/><stop offset="40%" stop-opacity="1.00"/><stop offset="50%" stop-opacity="0.99"/><stop offset="60%" stop-opacity="0.95"/><stop offset="70%" stop-opacity="0.91"/><stop offset="80%" stop-opacity="0.88"/><stop offset="90%" stop-opacity="0.84"/><stop offset="100%" stop-opacity="0.80"/></linearGradient></defs>
<path d="M948.3 1958.2 952.2 1955 956.1 1951.6 960 1948.2 964 1944.7 967.9 1941.1 971.8 1937.5 975.7 1933.9 979.6 1930.3 983.5 1926.6 987.4 1922.8 991.4 1919 995.3 1915.1 999.2 1911.2 1003.1 1907.1 1007 1903.1 1010.9 1899 1014.8 1894.9 1018.8 1890.7 1022.7 1886.4 1026.6 1882.2 1030.5 1878 1034.4 1873.8 1038.3 1869.6 1042.2 1865.4 1046.2 1861.2 1050.1 1856.9 1054 1852.6 1057.9 1848.3 1061.8 1844 1065.7 1839.6 1069.6 1835.3 1073.6 1831 1077.5 1826.6 1081.4 1822.3 1085.3 1817.9 1089.2 1813.6 1093.1 1809.2 1097 1804.9 1101 1800.5 1104.9 1796.2 1108.8 1791.9 1112.7 1787.6 1116.6 1783.2 1120.5 1779 1124.4 1774.8 1128.4 1770.7 1132.3 1766.5 1136.2 1762.4 1140.1 1758.3 1144 1754.2 1147.9 1750.2 1151.8 1746.1 1155.8 1742.1 1159.7 1738.1 1163.6 1734.1 1167.5 1730.1 1171.4 1726.1 1175.3 1722.2 1179.2 1718.3 1183.2 1714.4 1187.1 1710.6 1191 1706.7 1194.9 1702.9 1198.8 1699.1 1202.7 1695.3 1206.6 1691.6 1210.6 1687.9 1214.5 1684.2 1218.4 1680.6 1222.3 1677.1 1226.2 1673.6 1230.1 1670.2 1234.1 1666.7 1238 1663.3 1241.9 1659.9 1245.8 1656.5 1249.7 1653.2 1253.6 1649.8 1257.5 1646.5 1261.5 1643.3 1265.4 1640 1269.3 1636.8 1273.2 1633.6 1277.1 1630.3 1281 1627.1 1284.9 1623.8 1288.9 1620.6 1292.8 1617.4 1296.7 1614.3 1300.6 1611.1 1304.5 1608 1308.4 1604.9 1312.3 1601.8 1316.3 1598.8 1320.2 1595.7 1324.1 1592.7 1328 1589.7 1331.9 1586.8 1335.8 1583.8 1339.7 1580.8 1343.7 1577.9 1347.6 1574.9 1351.5 1571.9 1355.4 1569 1359.3 1566.1 1363.2 1563.3 1367.1 1560.4 1371.1 1557.6 1375 1554.8 1378.9 1552 1382.8 1549.2 1386.7 1546.5 1390.6 1543.8 1394.5 1541.1 1398.5 1538.4 1402.4 1535.8 1406.3 1533.2 1410.2 1530.6 1414.1 1528 1418 1525.5 1421.9 1523 1425.9 1520.5 1429.8 1518.1 1433.7 1515.7 1437.6 1513.4 1441.5 1511 1445.4 1508.7 1449.3 1506.5 1453.3 1504.3 1457.2 1502.1 1461.1 1500 1465 1497.9 1468.9 1495.8 1472.8 1493.8 1476.7 1491.8 1480.7 1489.9 1484.6 1488 1488.5 1486.2 1492.4 1484.4L1492.4 1490.4 1488.5 1492.3 1484.6 1494.3 1480.7 1496.3 1476.7 1498.3 1472.8 1500.4 1468.9 1502.6 1465 1504.8 1461.1 1507 1457.2 1509.3 1453.3 1511.6 1449.3 1513.9 1445.4 1516.3 1441.5 1518.7 1437.6 1521.1 1433.7 1523.6 1429.8 1526.1 1425.9 1528.7 1421.9 1531.2 1418 1533.8 1414.1 1536.4 1410.2 1539 1406.3 1541.7 1402.4 1544.4 1398.5 1547.1 1394.5 1549.9 1390.6 1552.6 1386.7 1555.4 1382.8 1558.3 1378.9 1561.1 1375 1564 1371.1 1566.9 1367.1 1569.8 1363.2 1572.7 1359.3 1575.7 1355.4 1578.7 1351.5 1581.7 1347.6 1584.7 1343.7 1587.7 1339.7 1590.8 1335.8 1593.9 1331.9 1597.1 1328 1600.4 1324.1 1603.6 1320.2 1606.9 1316.3 1610.2 1312.3 1613.5 1308.4 1616.8 1304.5 1620.1 1300.6 1623.5 1296.7 1626.9 1292.8 1630.3 1288.9 1633.8 1284.9 1637.2 1281 1640.7 1277.1 1644.2 1273.2 1647.8 1269.3 1651.5 1265.4 1655.2 1261.5 1658.9 1257.5 1662.6 1253.6 1666.3 1249.7 1670.1 1245.8 1673.9 1241.9 1677.7 1238 1681.5 1234.1 1685.4 1230.1 1689.3 1226.2 1693.2 1222.3 1697.1 1218.4 1701.1 1214.5 1705.1 1210.6 1709 1206.6 1712.9 1202.7 1716.8 1198.8 1720.7 1194.9 1724.7 1191 1728.7 1187.1 1732.7 1183.2 1736.7 1179.2 1740.8 1175.3 1744.9 1171.4 1749 1167.5 1753.1 1163.6 1757.2 1159.7 1761.4 1155.8 1765.6 1151.8 1769.7 1147.9 1774 1144 1778.2 1140.1 1782.5 1136.2 1786.7 1132.3 1791 1128.4 1795.3 1124.4 1799.6 1120.5 1803.9 1116.6 1808.2 1112.7 1812.4 1108.8 1816.6 1104.9 1820.9 1101 1825.1 1097 1829.4 1093.1 1833.6 1089.2 1837.9 1085.3 1842.2 1081.4 1846.4 1077.5 1850.7 1073.6 1855 1069.6 1859.2 1065.7 1863.5 1061.8 1867.7 1057.9 1871.9 1054 1876.2 1050.1 1880.4 1046.2 1884.6 1042.2 1888.7 1038.3 1892.9 1034.4 1897 1030.5 1901.1 1026.6 1905.2 1022.7 1909.1 1018.8 1912.9 1014.8 1916.8 1010.9 1920.6 1007 1924.3 1003.1 1928 999.2 1931.7 995.3 1935.3 991.4 1938.8 987.4 1942.3 983.5 1945.7 979.6 1949.1 975.7 1952.4 971.8 1955.6 967.9 1958.5 964 1961.4 960 1964.1 956.1 1966.8 952.2 1969.3 948.3 1971.8Z" fill="url(#g8)" filter="url(#blur1)"/>
<g fill="none" stroke="#000" stroke-width="9" stroke-linecap="round" stroke-opacity="0.2" filter="url(#cblur)"><path d="M1003 1925h0M1051 1869h0M1090 1822h0M1142 1778h0M1152 1755h0M1164 1738h0M1167 1733h0M1170 1733h0M1171 1744h0M1184 1721h0M1192 1710h0M1201 1709h0M1217 1698h0M1240 1674h0M1252 1653h0M1258 1656h0M1269 1637h0M1271 1635h0M1275 1642h0M1278 1645h0M1279 1638h0M1286 1638h0M1289 1625h0M1291 1628h0M1294 1626h0M1295 1616h0M1303 1614h0M1308 1606h0M1312 1610h0M1312 1604h0M1316 1608h0M1322 1606h0M1329 1590h0M1331 1596h0M1347 1583h0M1347 1585h0M1351 1575h0M1351 1581h0M1353 1582h0M1355 1580h0M1357 1567h0M1362 1566h0M1369 1558h0M1370 1561h0M1371 1564h0M1371 1557h0M1375 1554h0M1385 1549h0M1386 1553h0M1402 1536h0M1404 1542h0M1406 1543h0M1409 1542h0M1410 1530h0M1411 1528h0M1412 1528h0M1414 1539h0M1427 1522h0M1438 1523h0M1448 1505h0M1448 1505h0M1449 1506h0M1472 1494h0M1475 1491h0M1476 1490h0M1483 1496h0M1483 1487h0M1488 1492h0M1491 1487h0"/><path d="M957 1954h0M969 1945h0M971 1945h0M1011 1916h0M1053 1863h0M1076 1834h0M1097 1822h0M1099 1822h0M1110 1806h0M1133 1783h0M1140 1780h0M1180 1734h0M1182 1719h0M1194 1708h0M1203 1715h0M1214 1692h0M1217 1687h0M1240 1673h0M1242 1671h0M1246 1671h0M1265 1640h0M1273 1644h0M1274 1637h0M1277 1642h0M1292 1625h0M1295 1628h0M1302 1612h0M1306 1619h0M1311 1602h0M1311 1614h0M1312 1602h0M1313 1604h0M1315 1604h0M1315 1613h0M1318 1605h0M1320 1604h0M1320 1606h0M1326 1600h0M1337 1591h0M1339 1581h0M1340 1583h0M1352 1582h0M1356 1571h0M1363 1566h0M1364 1563h0M1371 1569h0M1372 1565h0M1380 1550h0M1384 1548h0M1389 1554h0M1409 1533h0M1409 1542h0M1414 1536h0M1420 1525h0M1434 1522h0M1463 1497h0M1475 1493h0M1480 1498h0M1492 1485h0"/><path d="M961 1961h0M979 1947h0M978 1943h0M985 1939h0M1049 1873h0M1057 1870h0M1058 1866h0M1076 1834h0M1137 1777h0M1151 1756h0M1164 1752h0M1173 1743h0M1179 1731h0M1181 1727h0M1193 1716h0M1195 1718h0M1218 1683h0M1219 1686h0M1225 1694h0M1230 1685h0M1234 1679h0M1242 1674h0M1259 1649h0M1262 1645h0M1268 1650h0M1270 1636h0M1272 1636h0M1281 1634h0M1281 1641h0M1281 1638h0M1284 1624h0M1300 1616h0M1301 1618h0M1309 1613h0M1322 1592h0M1324 1591h0M1325 1590h0M1332 1598h0M1338 1595h0M1344 1588h0M1371 1562h0M1376 1565h0M1381 1561h0M1387 1555h0M1396 1540h0M1404 1540h0M1407 1543h0M1409 1539h0M1411 1538h0M1418 1533h0M1423 1527h0M1426 1522h0M1428 1524h0M1438 1512h0M1447 1510h0M1451 1506h0M1457 1511h0M1467 1506h0M1469 1503h0M1469 1495h0M1468 1494h0M1476 1495h0M1484 1492h0M1490 1485h0M1490 1487h0M1492 1484h0"/><path d="M951 1966h0M997 1916h0M1072 1836h0M1105 1800h0M1147 1755h0M1155 1758h0M1163 1737h0M1176 1724h0M1183 1725h0M1200 1702h0M1200 1709h0M1209 1706h0M1208 1708h0M1212 1691h0M1222 1692h0M1223 1686h0M1233 1679h0M1239 1678h0M1251 1664h0M1258 1654h0M1277 1644h0M1290 1621h0M1292 1618h0M1296 1614h0M1297 1623h0M1302 1613h0M1311 1603h0M1312 1610h0M1312 1611h0M1317 1596h0M1327 1594h0M1330 1598h0M1334 1591h0M1339 1584h0M1349 1581h0M1352 1570h0M1354 1577h0M1355 1580h0M1366 1572h0M1368 1559h0M1371 1556h0M1375 1563h0M1376 1564h0M1378 1562h0M1387 1547h0M1392 1548h0M1411 1531h0M1411 1530h0M1414 1538h0M1420 1523h0M1420 1525h0M1422 1522h0M1421 1534h0M1423 1528h0M1426 1522h0M1435 1514h0M1437 1515h0M1438 1511h0M1443 1518h0M1443 1508h0M1449 1505h0M1455 1506h0M1455 1503h0M1465 1507h0M1467 1504h0M1477 1500h0M1477 1490h0M1479 1495h0M1485 1489h0"/><path d="M980 1946h0M1003 1914h0M1042 1885h0M1051 1867h0M1057 1869h0M1057 1866h0M1068 1858h0M1070 1855h0M1084 1841h0M1187 1712h0M1192 1709h0M1200 1714h0M1207 1709h0M1210 1690h0M1235 1682h0M1243 1675h0M1245 1661h0M1249 1665h0M1266 1649h0M1268 1650h0M1269 1636h0M1274 1640h0M1278 1637h0M1290 1623h0M1296 1613h0M1301 1609h0M1307 1617h0M1308 1605h0M1307 1607h0M1318 1600h0M1321 1607h0M1325 1604h0M1330 1592h0M1331 1598h0M1333 1598h0M1343 1584h0M1353 1572h0M1362 1574h0M1363 1570h0M1382 1554h0M1382 1560h0M1386 1546h0M1388 1555h0M1393 1541h0M1397 1541h0M1399 1538h0M1401 1544h0M1406 1531h0M1409 1529h0M1411 1537h0M1425 1529h0M1428 1520h0M1431 1519h0M1453 1505h0M1462 1499h0M1465 1504h0M1468 1504h0M1470 1504h0M1479 1491h0M1483 1489h0M1484 1486h0M1489 1486h0M1491 1486h0"/><path d="M955 1964h0M1001 1922h0M1037 1887h0M1052 1876h0M1080 1829h0M1132 1774h0M1134 1777h0M1138 1777h0M1138 1782h0M1176 1741h0M1181 1736h0M1184 1721h0M1198 1715h0M1200 1719h0M1215 1688h0M1218 1683h0M1224 1689h0M1233 1685h0M1240 1670h0M1262 1644h0M1264 1655h0M1266 1641h0M1271 1640h0M1273 1646h0M1274 1641h0M1273 1632h0M1275 1638h0M1281 1636h0M1293 1631h0M1295 1629h0M1302 1622h0M1304 1607h0M1305 1621h0M1306 1612h0M1307 1607h0M1308 1617h0M1314 1600h0M1326 1591h0M1333 1596h0M1339 1591h0M1350 1574h0M1351 1570h0M1357 1579h0M1371 1569h0M1382 1557h0M1385 1549h0M1387 1548h0M1389 1552h0M1391 1546h0M1393 1553h0M1394 1551h0M1405 1544h0M1411 1531h0M1414 1533h0M1418 1535h0M1430 1519h0M1437 1521h0M1451 1505h0M1451 1506h0M1454 1502h0M1463 1499h0M1477 1491h0M1481 1497h0M1480 1498h0M1480 1496h0M1481 1490h0M1489 1488h0M1490 1494h0"/><path d="M1007 1921h0M1029 1883h0M1040 1870h0M1078 1830h0M1088 1825h0M1102 1807h0M1105 1807h0M1106 1798h0M1130 1790h0M1140 1778h0M1148 1766h0M1150 1767h0M1180 1722h0M1195 1711h0M1202 1705h0M1227 1673h0M1241 1663h0M1258 1663h0M1262 1655h0M1271 1642h0M1283 1630h0M1282 1638h0M1287 1623h0M1311 1604h0M1315 1601h0M1349 1574h0M1349 1581h0M1352 1582h0M1355 1578h0M1357 1567h0M1361 1573h0M1364 1565h0M1365 1565h0M1365 1568h0M1370 1557h0M1378 1551h0M1383 1550h0M1389 1556h0M1389 1555h0M1396 1543h0M1397 1545h0M1401 1546h0M1402 1537h0M1402 1536h0M1405 1532h0M1407 1536h0M1412 1536h0M1431 1528h0M1442 1509h0M1459 1509h0M1460 1509h0M1468 1498h0M1474 1495h0M1478 1492h0M1488 1488h0M1489 1485h0M1492 1485h0"/><path d="M950 1961h0M1057 1870h0M1073 1834h0M1089 1821h0M1093 1829h0M1124 1785h0M1153 1764h0M1195 1710h0M1203 1697h0M1206 1701h0M1233 1672h0M1233 1672h0M1238 1664h0M1240 1664h0M1264 1644h0M1268 1648h0M1273 1634h0M1275 1642h0M1277 1634h0M1285 1631h0M1288 1633h0M1291 1621h0M1294 1630h0M1305 1611h0M1311 1605h0M1315 1603h0M1326 1603h0M1328 1603h0M1335 1595h0M1339 1594h0M1348 1575h0M1348 1576h0M1350 1572h0M1364 1570h0M1371 1568h0M1374 1563h0M1378 1561h0M1380 1553h0M1384 1557h0M1389 1544h0M1396 1548h0M1399 1548h0M1422 1528h0M1434 1524h0M1439 1515h0M1443 1509h0M1447 1506h0M1451 1506h0M1457 1503h0M1459 1500h0M1468 1494h0M1468 1504h0M1474 1500h0M1475 1494h0M1478 1496h0M1479 1489h0M1480 1491h0M1481 1494h0M1491 1485h0"/></g>
<path d="M948.3 1965L954.4 1960.5L960.5 1955.8L966.6 1950.8L972.8 1945.7L978.9 1940.4L985 1934.8L991.1 1929.2L997.2 1923.3L1003.3 1917.4L1009.4 1911.3L1015.5 1905.1L1021.7 1898.8L1027.8 1892.4L1033.9 1886L1040 1879.5L1046.1 1872.9L1052.2 1866.3L1058.3 1859.6L1064.5 1853L1070.6 1846.2L1076.7 1839.5L1082.8 1832.8L1088.9 1826.1L1095 1819.3L1101.1 1812.6L1107.3 1805.9L1113.4 1799.3L1119.5 1792.6L1125.6 1786L1131.7 1779.4L1137.8 1772.8L1143.9 1766.3L1150 1759.8L1156.2 1753.4L1162.3 1747L1168.4 1740.7L1174.5 1734.4L1180.6 1728.2L1186.7 1722L1192.8 1715.9L1199 1709.8L1205.1 1703.8L1211.2 1697.8L1217.3 1691.9L1223.4 1686.1L1229.5 1680.3L1235.6 1674.6L1241.7 1668.9L1247.9 1663.3L1254 1657.8L1260.1 1652.3L1266.2 1646.8L1272.3 1641.5L1278.4 1636.1L1284.5 1630.9L1290.7 1625.7L1296.8 1620.5L1302.9 1615.4L1309 1610.4L1315.1 1605.4L1321.2 1600.4L1327.3 1595.6L1333.4 1590.7L1339.6 1586L1345.7 1581.2L1351.8 1576.6L1357.9 1572L1364 1567.4L1370.1 1562.9L1376.2 1558.4L1382.4 1554.1L1388.5 1549.7L1394.6 1545.4L1400.7 1541.2L1406.8 1537.1L1412.9 1533L1419 1529L1425.2 1525.1L1431.3 1521.2L1437.4 1517.4L1443.5 1513.7L1449.6 1510L1455.7 1506.5L1461.8 1503.1L1467.9 1499.7L1474.1 1496.5L1480.2 1493.3L1486.3 1490.3L1492.4 1487.4" fill="none" stroke="#000" stroke-width="7"/>
<path d="M948.3 1965L954.4 1960.5L960.5 1955.8L966.6 1950.8L972.8 1945.7L978.9 1940.4L985 1934.8L991.1 1929.2L997.2 1923.3L1003.3 1917.4L1009.4 1911.3L1015.5 1905.1L1021.7 1898.8L1027.8 1892.4L1033.9 1886L1040 1879.5L1046.1 1872.9L1052.2 1866.3L1058.3 1859.6L1064.5 1853L1070.6 1846.2L1076.7 1839.5L1082.8 1832.8L1088.9 1826.1L1095 1819.3L1101.1 1812.6L1107.3 1805.9L1113.4 1799.3L1119.5 1792.6L1125.6 1786L1131.7 1779.4L1137.8 1772.8L1143.9 1766.3L1150 1759.8L1156.2 1753.4L1162.3 1747L1168.4 1740.7L1174.5 1734.4L1180.6 1728.2L1186.7 1722L1192.8 1715.9L1199 1709.8L1205.1 1703.8L1211.2 1697.8L1217.3 1691.9L1223.4 1686.1L1229.5 1680.3L1235.6 1674.6L1241.7 1668.9L1247.9 1663.3L1254 1657.8L1260.1 1652.3L1266.2 1646.8L1272.3 1641.5L1278.4 1636.1L1284.5 1630.9L1290.7 1625.7L1296.8 1620.5L1302.9 1615.4L1309 1610.4L1315.1 1605.4L1321.2 1600.4L1327.3 1595.6L1333.4 1590.7L1339.6 1586L1345.7 1581.2L1351.8 1576.6L1357.9 1572L1364 1567.4L1370.1 1562.9L1376.2 1558.4L1382.4 1554.1L1388.5 1549.7L1394.6 1545.4L1400.7 1541.2L1406.8 1537.1L1412.9 1533L1419 1529L1425.2 1525.1L1431.3 1521.2L1437.4 1517.4L1443.5 1513.7L1449.6 1510L1455.7 1506.5L1461.8 1503.1L1467.9 1499.7L1474.1 1496.5L1480.2 1493.3L1486.3 1490.3L1492.4 1487.4" fill="none" stroke="#fff" stroke-width="2.6"/>
<g stroke="#000" stroke-width="2.3" fill="none" stroke-linecap="round">
<path d="M871.4 1409.7V1994.4"/>
<path d="M871.4 1994.4H1498.9"/>
<path d="M859.6 1994.4H871.4"/>
<path d="M859.6 1893.6H871.4"/>
<path d="M859.6 1792.8H871.4"/>
<path d="M859.6 1692H871.4"/>
<path d="M859.6 1591.2H871.4"/>
<path d="M859.6 1490.4H871.4"/>
<path d="M871.4 1994.4V2005.9"/>
<path d="M1026.9 1994.4V2005.9"/>
<path d="M1182.4 1994.4V2005.9"/>
<path d="M1337.9 1994.4V2005.9"/>
<path d="M1493.4 1994.4V2005.9"/>
</g>
<g font-family="'Liberation Sans', Arial, Helvetica, sans-serif" font-size="29" fill="#000">
<text x="871.4" y="2036.9" text-anchor="middle">0</text>
<text x="1026.9" y="2036.9" text-anchor="middle">2.5</text>
<text x="1182.4" y="2036.9" text-anchor="middle">5</text>
<text x="1337.9" y="2036.9" text-anchor="middle">7.5</text>
<text x="1493.4" y="2036.9" text-anchor="middle">10</text>
<text x="1186.6" y="2074.5" text-anchor="middle" font-size="29.3">Equilibrium climate sensitvity (°C)</text>
</g>
<g font-family="'Liberation Sans', Arial, Helvetica, sans-serif" font-size="29" fill="#505050">
<text x="897.5" y="1450.2" font-style="italic">S−MAGICC</text>
<text x="1429" y="1580.3" font-size="30">DICE</text>
<text x="1365.4" y="1912.5" font-size="30">FUND</text>
</g>
</svg></body></html>
